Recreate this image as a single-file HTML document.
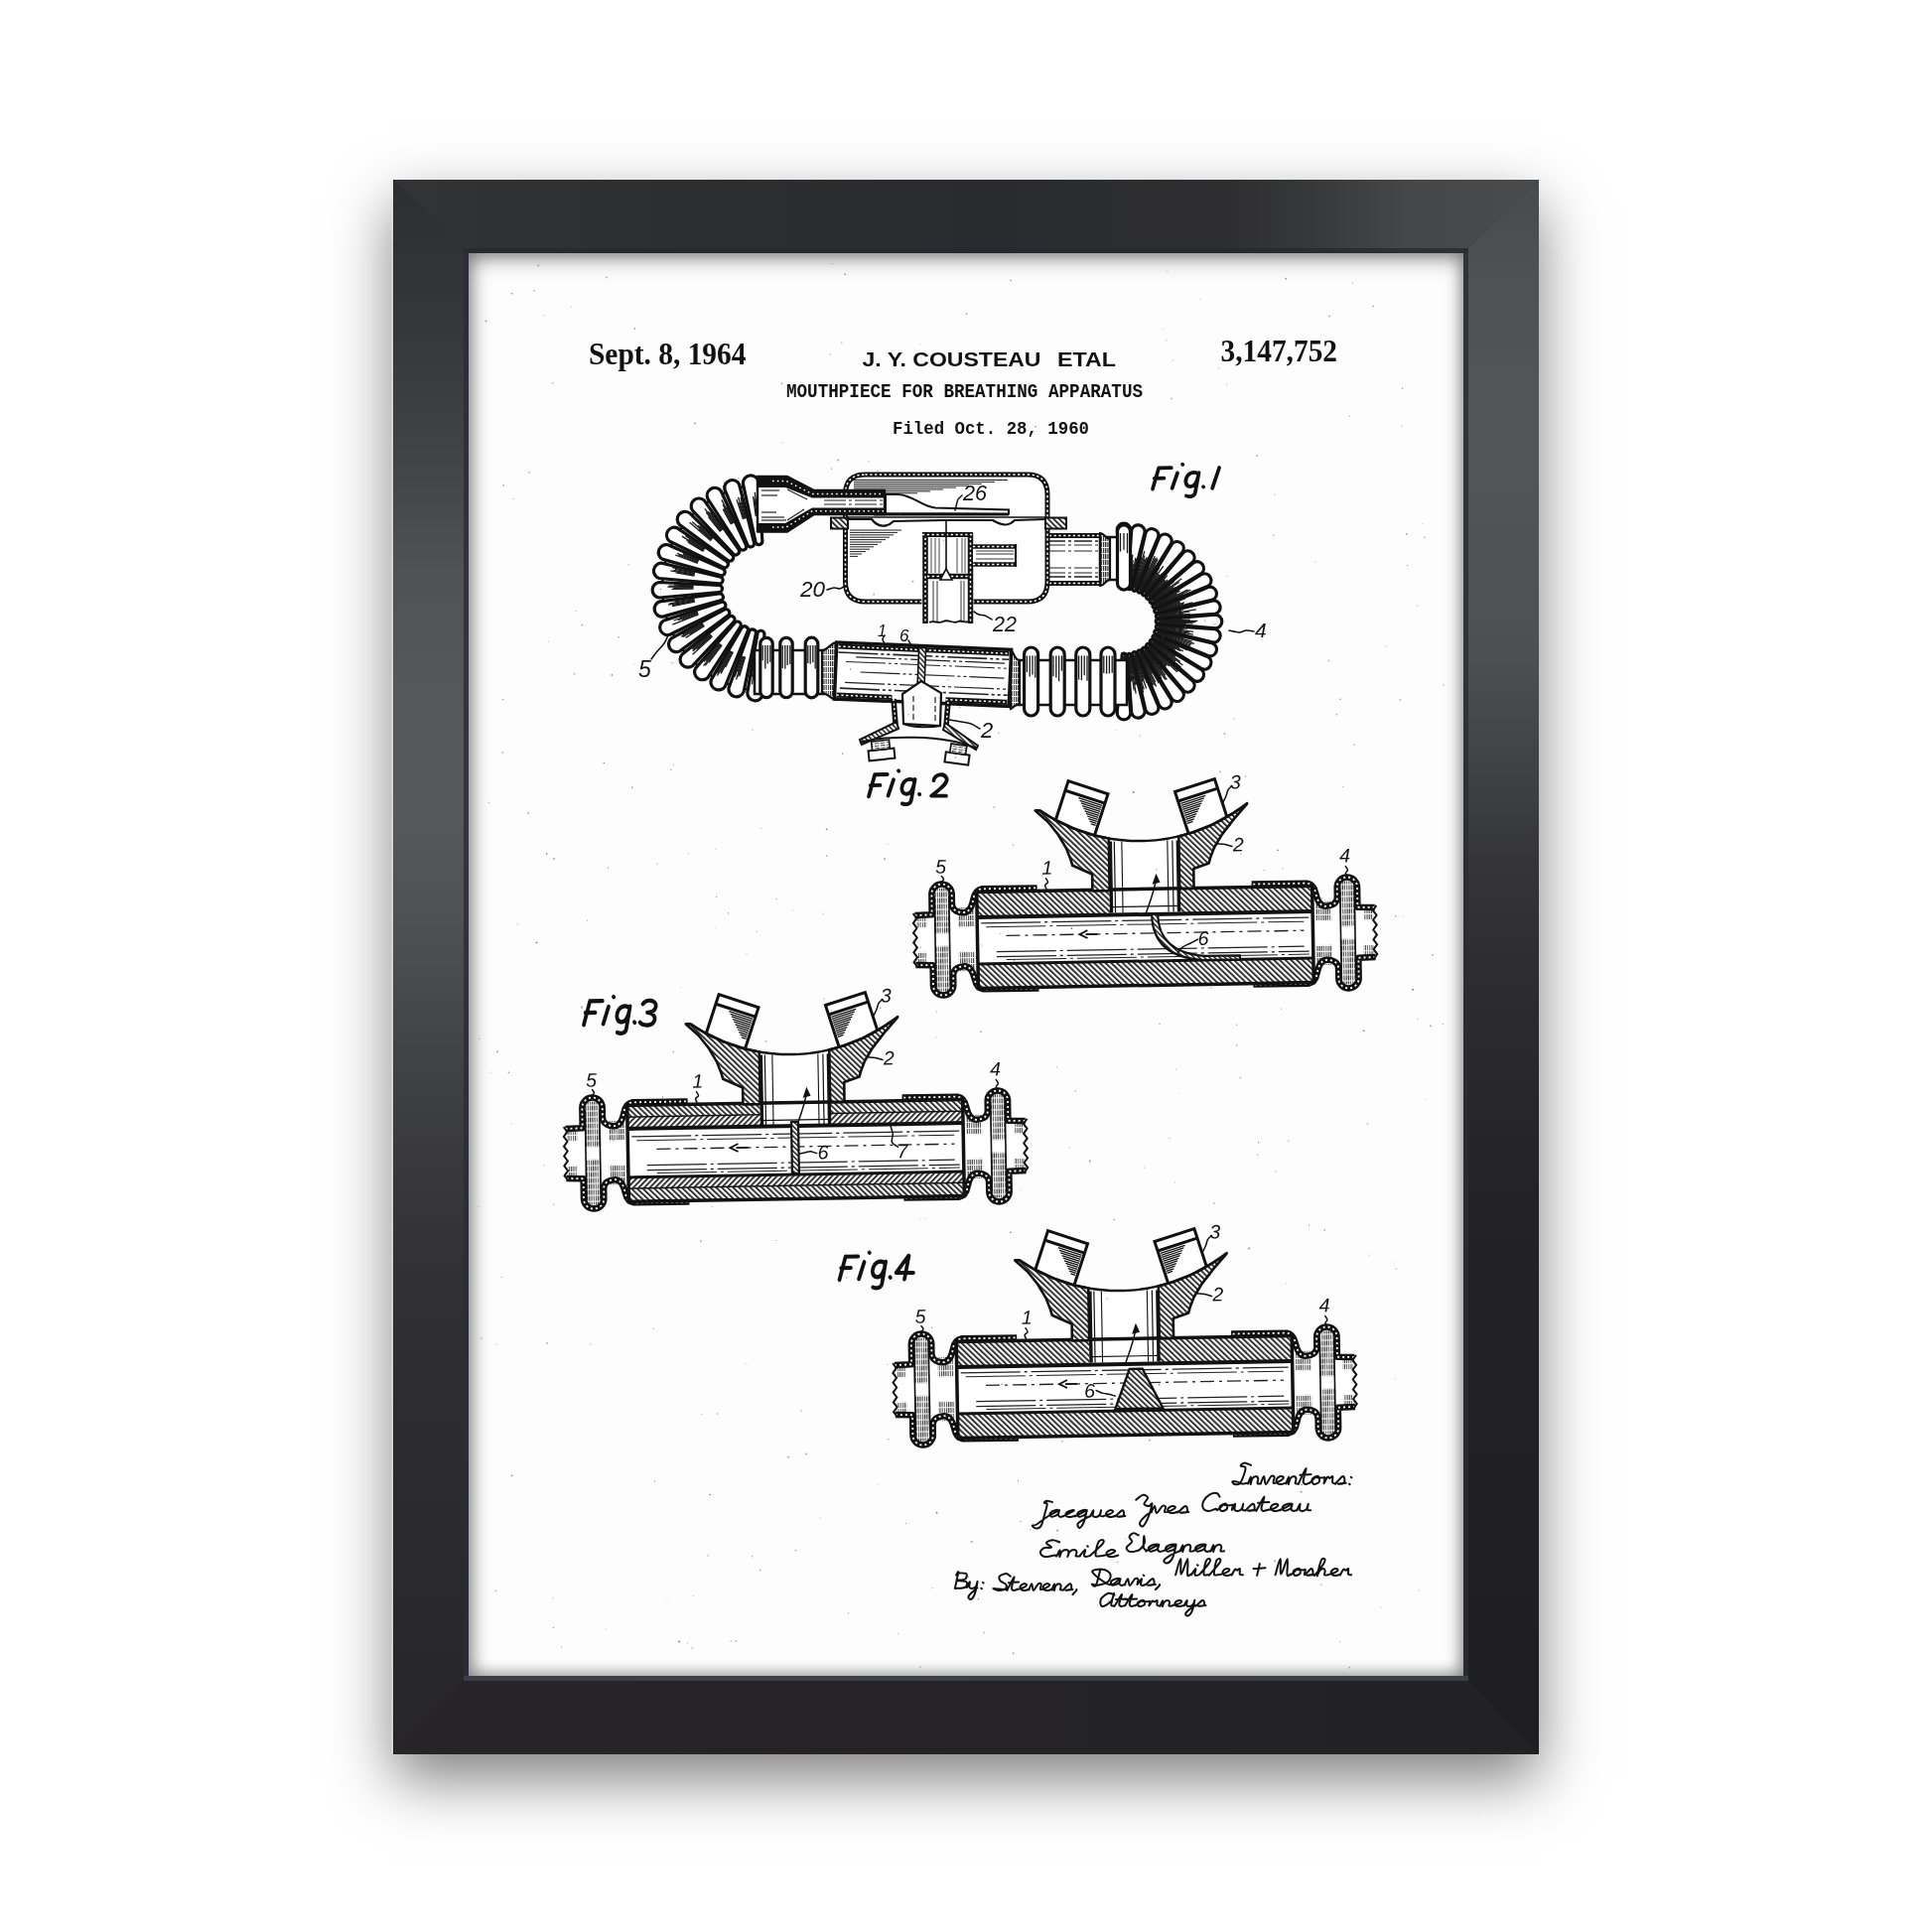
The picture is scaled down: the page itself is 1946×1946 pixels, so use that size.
<!DOCTYPE html>
<html><head><meta charset="utf-8"><style>
html,body{margin:0;padding:0;background:#fff;}
body{width:1946px;height:1946px;position:relative;overflow:hidden;font-family:"Liberation Sans",sans-serif;}
.shadow{position:absolute;left:396px;top:181px;width:1154px;height:1586px;background:#222;box-shadow:0 25px 57px rgba(0,0,0,0.5);}
.paper{position:absolute;left:472px;top:255px;width:1002px;height:1433px;background:#fdfdfd;overflow:hidden;}
.inset{position:absolute;left:472px;top:255px;width:1002px;height:1433px;box-shadow:inset 0 8px 20px rgba(0,0,0,0.30), inset 7px 0 18px rgba(0,0,0,0.18), inset -5px 0 16px rgba(0,0,0,0.14), inset 0 -5px 16px rgba(0,0,0,0.14);}
svg{position:absolute;left:0;top:0;will-change:transform;}
</style></head><body>
<div class="shadow"></div>
<div class="paper"></div>
<svg width="1946" height="1946" viewBox="0 0 1946 1946" xmlns="http://www.w3.org/2000/svg">

<defs>
<linearGradient id="gL" x1="0" y1="181" x2="0" y2="1767" gradientUnits="userSpaceOnUse">
<stop offset="0" stop-color="#2d2e31"/><stop offset="0.088" stop-color="#353639"/><stop offset="0.176" stop-color="#414345"/><stop offset="0.252" stop-color="#515254"/><stop offset="0.327" stop-color="#565759"/><stop offset="0.403" stop-color="#57585a"/><stop offset="0.466" stop-color="#505153"/><stop offset="0.523" stop-color="#47484a"/><stop offset="0.567" stop-color="#404143"/><stop offset="0.624" stop-color="#39393c"/><stop offset="0.687" stop-color="#323235"/><stop offset="0.769" stop-color="#2d2d2f"/><stop offset="0.851" stop-color="#2b2b2d"/><stop offset="1" stop-color="#262527"/></linearGradient>
<linearGradient id="gR" x1="0" y1="181" x2="0" y2="1767" gradientUnits="userSpaceOnUse">
<stop offset="0" stop-color="#494a4c"/><stop offset="0.056" stop-color="#4f5052"/><stop offset="0.151" stop-color="#535557"/><stop offset="0.239" stop-color="#515255"/><stop offset="0.302" stop-color="#4e4f51"/><stop offset="0.371" stop-color="#414244"/><stop offset="0.441" stop-color="#343436"/><stop offset="0.516" stop-color="#2c2c2e"/><stop offset="0.643" stop-color="#232325"/><stop offset="1" stop-color="#1e1e20"/></linearGradient>
<linearGradient id="gT" x1="396" y1="0" x2="1550" y2="0" gradientUnits="userSpaceOnUse">
<stop offset="0" stop-color="#313335"/><stop offset="0.294" stop-color="#2c2d2f"/><stop offset="0.523" stop-color="#2a2b2e"/><stop offset="0.727" stop-color="#2e2e31"/><stop offset="0.81" stop-color="#38393b"/><stop offset="0.883" stop-color="#444648"/><stop offset="1" stop-color="#4a4b4d"/></linearGradient>
<linearGradient id="gB" x1="396" y1="0" x2="1550" y2="0" gradientUnits="userSpaceOnUse">
<stop offset="0" stop-color="#262427"/><stop offset="1" stop-color="#222124"/></linearGradient>
</defs>
<polygon points="396,181 1550,181 1474,255 472,255" fill="url(#gT)"/>
<polygon points="396,181 472,255 472,1688 396,1767" fill="url(#gL)"/>
<polygon points="1550,181 1550,1767 1474,1688 1474,255" fill="url(#gR)"/>
<polygon points="396,1767 472,1688 1474,1688 1550,1767" fill="url(#gB)"/>
<line x1="467" y1="252.5" x2="1479" y2="252.5" stroke="#26282f" stroke-width="5" opacity="0.75"/>
<line x1="469.5" y1="250" x2="469.5" y2="1693" stroke="#2a2c3a" stroke-width="5" opacity="0.8"/>
<line x1="1476.5" y1="250" x2="1476.5" y2="1693" stroke="#2c2d33" stroke-width="5" opacity="0.8"/>
<line x1="467" y1="1690.5" x2="1479" y2="1690.5" stroke="#3e404c" stroke-width="5" opacity="0.9"/>
<line x1="395" y1="182" x2="395" y2="1766" stroke="#e8e8e8" stroke-width="1"/>
<text x="593" y="366.5" font-family="Liberation Serif" font-size="31" font-weight="bold" font-style="normal" fill="#111" textLength="158.5" lengthAdjust="spacingAndGlyphs">Sept. 8, 1964</text>
<text x="1229.5" y="363.5" font-family="Liberation Serif" font-size="30.5" font-weight="bold" font-style="normal" fill="#111" textLength="117.5" lengthAdjust="spacingAndGlyphs">3,147,752</text>
<text x="868.5" y="368.5" font-family="Liberation Sans" font-size="19.5" font-weight="bold" font-style="normal" fill="#111" textLength="180" lengthAdjust="spacingAndGlyphs">J. Y. COUSTEAU</text>
<text x="1065" y="368.5" font-family="Liberation Sans" font-size="19.5" font-weight="bold" font-style="normal" fill="#111" textLength="59" lengthAdjust="spacingAndGlyphs">ETAL</text>
<text x="792" y="400" font-family="Liberation Mono" font-size="19.4" font-weight="bold" font-style="normal" fill="#111" textLength="359" lengthAdjust="spacingAndGlyphs">MOUTHPIECE FOR BREATHING APPARATUS</text>
<text x="899" y="437" font-family="Liberation Mono" font-size="18.5" font-weight="bold" font-style="normal" fill="#111" textLength="198" lengthAdjust="spacingAndGlyphs">Filed Oct. 28, 1960</text>
<defs>
<pattern id="hb" patternUnits="userSpaceOnUse" width="4.0" height="4.0" patternTransform="rotate(-45)"><rect width="4.0" height="4.0" fill="#fff"/><rect width="1.65" height="4.0" fill="#111"/></pattern>
<pattern id="hf" patternUnits="userSpaceOnUse" width="4.0" height="4.0" patternTransform="rotate(45)"><rect width="4.0" height="4.0" fill="#fff"/><rect width="1.65" height="4.0" fill="#111"/></pattern>
<pattern id="hbs" patternUnits="userSpaceOnUse" width="3.6" height="3.6" patternTransform="rotate(-45)"><rect width="3.6" height="3.6" fill="#fff"/><rect width="1.4" height="3.6" fill="#111"/></pattern>
<pattern id="hv" patternUnits="userSpaceOnUse" width="2.2" height="6"><rect width="2.2" height="6" fill="#fff"/><rect width="1.1" height="5" fill="#222"/></pattern>
<pattern id="hh" patternUnits="userSpaceOnUse" width="6" height="2.4"><rect width="6" height="2.4" fill="#fff"/><rect width="4.5" height="0.9" fill="#333"/></pattern>
</defs>
<path d="M756.5,489.0 A104,104 0 0 0 760.1,695.4 L764.9,649.7 A58,58 0 0 1 762.9,534.6 Z" fill="#fff" stroke="#111" stroke-width="2.5"/>
<path d="M767.9,545.0 L763.8,485.0 A7.8,7.8 0 0 0 748.4,487.1 L761.0,545.9 A3.5,3.5 0 0 0 767.9,545.0 Z" fill="#fff" stroke="#111" stroke-width="3.2" stroke-linejoin="round"/>
<line x1="761.3" y1="520.1" x2="758.6" y2="499.9" stroke="#1a1a1a" stroke-width="1.3"/>
<line x1="762.2" y1="520.0" x2="759.9" y2="501.9" stroke="#1a1a1a" stroke-width="1.3"/>
<line x1="763.0" y1="519.9" x2="760.3" y2="495.7" stroke="#1a1a1a" stroke-width="1.3"/>
<line x1="763.9" y1="519.8" x2="762.1" y2="502.5" stroke="#1a1a1a" stroke-width="1.3"/>
<line x1="764.7" y1="519.7" x2="762.7" y2="496.8" stroke="#1a1a1a" stroke-width="1.3"/>
<path d="M759.5,546.3 L744.6,488.0 A7.8,7.8 0 0 0 729.9,492.9 L752.8,548.5 A3.5,3.5 0 0 0 759.5,546.3 Z" fill="#fff" stroke="#111" stroke-width="3.2" stroke-linejoin="round"/>
<line x1="748.5" y1="523.1" x2="742.0" y2="503.2" stroke="#1a1a1a" stroke-width="1.3"/>
<line x1="749.3" y1="522.8" x2="744.2" y2="506.4" stroke="#1a1a1a" stroke-width="1.3"/>
<line x1="750.1" y1="522.5" x2="743.6" y2="500.9" stroke="#1a1a1a" stroke-width="1.3"/>
<line x1="750.9" y1="522.3" x2="746.2" y2="506.0" stroke="#1a1a1a" stroke-width="1.3"/>
<line x1="751.7" y1="522.0" x2="745.9" y2="501.1" stroke="#1a1a1a" stroke-width="1.3"/>
<path d="M751.4,549.1 L726.2,494.5 A7.8,7.8 0 0 0 712.7,502.0 L745.3,552.5 A3.5,3.5 0 0 0 751.4,549.1 Z" fill="#fff" stroke="#111" stroke-width="3.2" stroke-linejoin="round"/>
<line x1="736.4" y1="528.3" x2="728.2" y2="513.0" stroke="#1a1a1a" stroke-width="1.3"/>
<line x1="737.2" y1="527.9" x2="729.0" y2="512.3" stroke="#1a1a1a" stroke-width="1.3"/>
<line x1="737.9" y1="527.4" x2="728.1" y2="508.2" stroke="#1a1a1a" stroke-width="1.3"/>
<line x1="738.7" y1="527.0" x2="726.9" y2="503.4" stroke="#1a1a1a" stroke-width="1.3"/>
<line x1="739.4" y1="526.6" x2="731.6" y2="510.4" stroke="#1a1a1a" stroke-width="1.3"/>
<path d="M744.0,553.4 L709.4,504.2 A7.8,7.8 0 0 0 697.4,514.0 L738.6,557.8 A3.5,3.5 0 0 0 744.0,553.4 Z" fill="#fff" stroke="#111" stroke-width="3.2" stroke-linejoin="round"/>
<line x1="725.5" y1="535.5" x2="713.5" y2="520.6" stroke="#1a1a1a" stroke-width="1.3"/>
<line x1="726.2" y1="535.0" x2="711.3" y2="516.1" stroke="#1a1a1a" stroke-width="1.3"/>
<line x1="726.8" y1="534.5" x2="709.8" y2="512.4" stroke="#1a1a1a" stroke-width="1.3"/>
<line x1="727.5" y1="533.9" x2="713.4" y2="515.2" stroke="#1a1a1a" stroke-width="1.3"/>
<line x1="728.1" y1="533.4" x2="715.5" y2="516.2" stroke="#1a1a1a" stroke-width="1.3"/>
<path d="M737.5,558.9 L694.5,516.7 A7.8,7.8 0 0 0 684.5,528.6 L732.9,564.2 A3.5,3.5 0 0 0 737.5,558.9 Z" fill="#fff" stroke="#111" stroke-width="3.2" stroke-linejoin="round"/>
<line x1="716.1" y1="544.7" x2="694.7" y2="526.3" stroke="#1a1a1a" stroke-width="1.3"/>
<line x1="716.6" y1="544.0" x2="703.8" y2="532.8" stroke="#1a1a1a" stroke-width="1.3"/>
<line x1="717.2" y1="543.4" x2="697.2" y2="525.4" stroke="#1a1a1a" stroke-width="1.3"/>
<line x1="717.7" y1="542.7" x2="703.0" y2="529.2" stroke="#1a1a1a" stroke-width="1.3"/>
<line x1="718.3" y1="542.1" x2="705.0" y2="529.6" stroke="#1a1a1a" stroke-width="1.3"/>
<path d="M732.0,565.5 L682.2,531.8 A7.8,7.8 0 0 0 674.5,545.2 L728.5,571.5 A3.5,3.5 0 0 0 732.0,565.5 Z" fill="#fff" stroke="#111" stroke-width="3.2" stroke-linejoin="round"/>
<line x1="708.4" y1="555.4" x2="693.0" y2="546.3" stroke="#1a1a1a" stroke-width="1.3"/>
<line x1="708.8" y1="554.6" x2="691.5" y2="544.2" stroke="#1a1a1a" stroke-width="1.3"/>
<line x1="709.3" y1="553.9" x2="686.9" y2="540.1" stroke="#1a1a1a" stroke-width="1.3"/>
<line x1="709.7" y1="553.2" x2="693.9" y2="543.2" stroke="#1a1a1a" stroke-width="1.3"/>
<line x1="710.1" y1="552.4" x2="690.4" y2="539.7" stroke="#1a1a1a" stroke-width="1.3"/>
<path d="M727.9,572.9 L672.8,548.8 A7.8,7.8 0 0 0 667.6,563.4 L725.5,579.5 A3.5,3.5 0 0 0 727.9,572.9 Z" fill="#fff" stroke="#111" stroke-width="3.2" stroke-linejoin="round"/>
<line x1="702.8" y1="567.3" x2="680.1" y2="559.0" stroke="#1a1a1a" stroke-width="1.3"/>
<line x1="703.1" y1="566.5" x2="683.5" y2="559.1" stroke="#1a1a1a" stroke-width="1.3"/>
<line x1="703.4" y1="565.7" x2="681.9" y2="557.3" stroke="#1a1a1a" stroke-width="1.3"/>
<line x1="703.7" y1="564.9" x2="687.7" y2="558.4" stroke="#1a1a1a" stroke-width="1.3"/>
<line x1="704.0" y1="564.1" x2="688.1" y2="557.5" stroke="#1a1a1a" stroke-width="1.3"/>
<path d="M725.2,581.0 L666.6,567.2 A7.8,7.8 0 0 0 664.1,582.5 L724.0,587.9 A3.5,3.5 0 0 0 725.2,581.0 Z" fill="#fff" stroke="#111" stroke-width="3.2" stroke-linejoin="round"/>
<line x1="699.5" y1="580.0" x2="680.8" y2="576.9" stroke="#1a1a1a" stroke-width="1.3"/>
<line x1="699.6" y1="579.2" x2="675.4" y2="574.8" stroke="#1a1a1a" stroke-width="1.3"/>
<line x1="699.8" y1="578.3" x2="678.5" y2="574.3" stroke="#1a1a1a" stroke-width="1.3"/>
<line x1="699.9" y1="577.5" x2="680.0" y2="573.4" stroke="#1a1a1a" stroke-width="1.3"/>
<line x1="700.0" y1="576.6" x2="677.0" y2="571.7" stroke="#1a1a1a" stroke-width="1.3"/>
<path d="M723.9,589.5 L663.9,586.5 A7.8,7.8 0 0 0 664.2,602.0 L724.1,596.5 A3.5,3.5 0 0 0 723.9,589.5 Z" fill="#fff" stroke="#111" stroke-width="3.2" stroke-linejoin="round"/>
<line x1="698.5" y1="593.1" x2="676.6" y2="593.4" stroke="#1a1a1a" stroke-width="1.3"/>
<line x1="698.5" y1="592.2" x2="678.4" y2="592.3" stroke="#1a1a1a" stroke-width="1.3"/>
<line x1="698.5" y1="591.4" x2="672.4" y2="591.2" stroke="#1a1a1a" stroke-width="1.3"/>
<line x1="698.5" y1="590.5" x2="673.6" y2="590.1" stroke="#1a1a1a" stroke-width="1.3"/>
<line x1="698.4" y1="589.7" x2="679.0" y2="589.1" stroke="#1a1a1a" stroke-width="1.3"/>
<path d="M724.3,598.0 L664.6,605.9 A7.8,7.8 0 0 0 667.7,621.1 L725.7,604.9 A3.5,3.5 0 0 0 724.3,598.0 Z" fill="#fff" stroke="#111" stroke-width="3.2" stroke-linejoin="round"/>
<line x1="699.9" y1="606.2" x2="677.0" y2="610.7" stroke="#1a1a1a" stroke-width="1.3"/>
<line x1="699.7" y1="605.3" x2="677.3" y2="609.5" stroke="#1a1a1a" stroke-width="1.3"/>
<line x1="699.6" y1="604.5" x2="673.0" y2="609.2" stroke="#1a1a1a" stroke-width="1.3"/>
<line x1="699.4" y1="603.7" x2="674.4" y2="607.8" stroke="#1a1a1a" stroke-width="1.3"/>
<line x1="699.2" y1="602.8" x2="679.5" y2="605.9" stroke="#1a1a1a" stroke-width="1.3"/>
<path d="M726.1,606.4 L668.9,624.9 A7.8,7.8 0 0 0 674.7,639.3 L728.7,612.9 A3.5,3.5 0 0 0 726.1,606.4 Z" fill="#fff" stroke="#111" stroke-width="3.2" stroke-linejoin="round"/>
<line x1="703.6" y1="618.8" x2="677.4" y2="629.2" stroke="#1a1a1a" stroke-width="1.3"/>
<line x1="703.3" y1="618.0" x2="686.6" y2="624.4" stroke="#1a1a1a" stroke-width="1.3"/>
<line x1="703.0" y1="617.2" x2="682.8" y2="624.7" stroke="#1a1a1a" stroke-width="1.3"/>
<line x1="702.7" y1="616.4" x2="678.6" y2="625.0" stroke="#1a1a1a" stroke-width="1.3"/>
<line x1="702.3" y1="615.6" x2="685.0" y2="621.6" stroke="#1a1a1a" stroke-width="1.3"/>
<path d="M729.4,614.2 L676.5,642.8 A7.8,7.8 0 0 0 684.8,655.9 L733.2,620.1 A3.5,3.5 0 0 0 729.4,614.2 Z" fill="#fff" stroke="#111" stroke-width="3.2" stroke-linejoin="round"/>
<line x1="709.6" y1="630.5" x2="690.6" y2="642.4" stroke="#1a1a1a" stroke-width="1.3"/>
<line x1="709.1" y1="629.8" x2="694.6" y2="638.6" stroke="#1a1a1a" stroke-width="1.3"/>
<line x1="708.6" y1="629.1" x2="687.6" y2="641.6" stroke="#1a1a1a" stroke-width="1.3"/>
<line x1="708.2" y1="628.3" x2="686.0" y2="641.2" stroke="#1a1a1a" stroke-width="1.3"/>
<line x1="707.7" y1="627.6" x2="687.4" y2="639.1" stroke="#1a1a1a" stroke-width="1.3"/>
<path d="M734.1,621.4 L687.2,659.0 A7.8,7.8 0 0 0 697.8,670.4 L738.9,626.5 A3.5,3.5 0 0 0 734.1,621.4 Z" fill="#fff" stroke="#111" stroke-width="3.2" stroke-linejoin="round"/>
<line x1="717.5" y1="640.9" x2="697.6" y2="659.2" stroke="#1a1a1a" stroke-width="1.3"/>
<line x1="716.9" y1="640.3" x2="701.8" y2="653.8" stroke="#1a1a1a" stroke-width="1.3"/>
<line x1="716.4" y1="639.7" x2="697.7" y2="656.1" stroke="#1a1a1a" stroke-width="1.3"/>
<line x1="715.8" y1="639.1" x2="697.8" y2="654.4" stroke="#1a1a1a" stroke-width="1.3"/>
<line x1="715.2" y1="638.5" x2="697.2" y2="653.5" stroke="#1a1a1a" stroke-width="1.3"/>
<path d="M740.0,627.5 L700.7,673.0 A7.8,7.8 0 0 0 713.1,682.3 L745.6,631.7 A3.5,3.5 0 0 0 740.0,627.5 Z" fill="#fff" stroke="#111" stroke-width="3.2" stroke-linejoin="round"/>
<line x1="727.2" y1="649.8" x2="714.0" y2="667.3" stroke="#1a1a1a" stroke-width="1.3"/>
<line x1="726.6" y1="649.3" x2="710.3" y2="670.3" stroke="#1a1a1a" stroke-width="1.3"/>
<line x1="725.9" y1="648.8" x2="708.6" y2="670.6" stroke="#1a1a1a" stroke-width="1.3"/>
<line x1="725.2" y1="648.3" x2="711.2" y2="665.5" stroke="#1a1a1a" stroke-width="1.3"/>
<line x1="724.5" y1="647.8" x2="708.9" y2="666.6" stroke="#1a1a1a" stroke-width="1.3"/>
<path d="M747.0,632.5 L716.5,684.4 A7.8,7.8 0 0 0 730.4,691.3 L753.2,635.7 A3.5,3.5 0 0 0 747.0,632.5 Z" fill="#fff" stroke="#111" stroke-width="3.2" stroke-linejoin="round"/>
<line x1="738.4" y1="656.8" x2="730.6" y2="672.1" stroke="#1a1a1a" stroke-width="1.3"/>
<line x1="737.6" y1="656.4" x2="726.2" y2="678.5" stroke="#1a1a1a" stroke-width="1.3"/>
<line x1="736.9" y1="656.0" x2="725.5" y2="677.4" stroke="#1a1a1a" stroke-width="1.3"/>
<line x1="736.1" y1="655.6" x2="722.5" y2="680.6" stroke="#1a1a1a" stroke-width="1.3"/>
<line x1="735.3" y1="655.2" x2="722.4" y2="678.3" stroke="#1a1a1a" stroke-width="1.3"/>
<path d="M754.7,636.2 L734.1,692.7 A7.8,7.8 0 0 0 749.0,697.0 L761.4,638.1 A3.5,3.5 0 0 0 754.7,636.2 Z" fill="#fff" stroke="#111" stroke-width="3.2" stroke-linejoin="round"/>
<line x1="750.6" y1="661.6" x2="745.0" y2="680.7" stroke="#1a1a1a" stroke-width="1.3"/>
<line x1="749.8" y1="661.3" x2="743.6" y2="681.6" stroke="#1a1a1a" stroke-width="1.3"/>
<line x1="749.0" y1="661.1" x2="741.5" y2="684.5" stroke="#1a1a1a" stroke-width="1.3"/>
<line x1="748.2" y1="660.9" x2="742.9" y2="676.8" stroke="#1a1a1a" stroke-width="1.3"/>
<line x1="747.3" y1="660.6" x2="740.2" y2="681.5" stroke="#1a1a1a" stroke-width="1.3"/>
<path d="M762.9,638.4 L752.8,697.7 A7.8,7.8 0 0 0 768.3,699.2 L769.9,639.1 A3.5,3.5 0 0 0 762.9,638.4 Z" fill="#fff" stroke="#111" stroke-width="3.2" stroke-linejoin="round"/>
<line x1="763.5" y1="664.1" x2="761.6" y2="682.5" stroke="#1a1a1a" stroke-width="1.3"/>
<line x1="762.7" y1="664.0" x2="760.6" y2="681.8" stroke="#1a1a1a" stroke-width="1.3"/>
<line x1="761.8" y1="663.9" x2="759.6" y2="681.0" stroke="#1a1a1a" stroke-width="1.3"/>
<line x1="761.0" y1="663.9" x2="757.4" y2="689.4" stroke="#1a1a1a" stroke-width="1.3"/>
<line x1="760.1" y1="663.8" x2="757.4" y2="681.7" stroke="#1a1a1a" stroke-width="1.3"/>
<rect x="760" y="655" width="85" height="44" fill="#fff" stroke="#111" stroke-width="2.5"/>
<path d="M765.8,648.5 L765.8,696.5 A6.2,6.2 0 0 0 778.2,696.5 L778.2,648.5 A6.2,6.2 0 0 0 765.8,648.5 Z" fill="#fff" stroke="#111" stroke-width="3.2" stroke-linejoin="round"/>
<line x1="775.8" y1="650.0" x2="775.8" y2="667.0" stroke="#1a1a1a" stroke-width="1.3"/>
<line x1="773.2" y1="650.0" x2="773.2" y2="668.5" stroke="#1a1a1a" stroke-width="1.3"/>
<line x1="770.8" y1="650.0" x2="770.8" y2="673.5" stroke="#1a1a1a" stroke-width="1.3"/>
<line x1="768.2" y1="650.0" x2="768.2" y2="665.2" stroke="#1a1a1a" stroke-width="1.3"/>
<path d="M785.8,648.5 L785.8,696.5 A6.2,6.2 0 0 0 798.2,696.5 L798.2,648.5 A6.2,6.2 0 0 0 785.8,648.5 Z" fill="#fff" stroke="#111" stroke-width="3.2" stroke-linejoin="round"/>
<line x1="795.8" y1="650.0" x2="795.8" y2="669.1" stroke="#1a1a1a" stroke-width="1.3"/>
<line x1="793.2" y1="650.0" x2="793.2" y2="670.1" stroke="#1a1a1a" stroke-width="1.3"/>
<line x1="790.8" y1="650.0" x2="790.8" y2="673.7" stroke="#1a1a1a" stroke-width="1.3"/>
<line x1="788.2" y1="650.0" x2="788.2" y2="673.0" stroke="#1a1a1a" stroke-width="1.3"/>
<path d="M811.2,648.5 L811.2,696.5 A6.2,6.2 0 0 0 823.8,696.5 L823.8,648.5 A6.2,6.2 0 0 0 811.2,648.5 Z" fill="#fff" stroke="#111" stroke-width="3.2" stroke-linejoin="round"/>
<line x1="821.2" y1="650.0" x2="821.2" y2="673.5" stroke="#1a1a1a" stroke-width="1.3"/>
<line x1="818.8" y1="650.0" x2="818.8" y2="667.3" stroke="#1a1a1a" stroke-width="1.3"/>
<line x1="816.2" y1="650.0" x2="816.2" y2="668.7" stroke="#1a1a1a" stroke-width="1.3"/>
<line x1="813.8" y1="650.0" x2="813.8" y2="668.1" stroke="#1a1a1a" stroke-width="1.3"/>
<path d="M828,655 C834,655 836,648 842,647 L842,705 C836,704 834,698 828,698 Z" fill="url(#hv)" stroke="#111" stroke-width="2.2"/>
<path d="M1132.0,542.0 A84,84 0 0 1 1132.0,710.0 L1132.0,664.0 A38,38 0 0 0 1132.0,588.0 Z" fill="#fff" stroke="#111" stroke-width="2.5"/>
<path d="M1132.0,568.0 A58,58 0 0 1 1132.0,684.0 L1132.0,659.0 A33,33 0 0 0 1132.0,593.0 Z" fill="#1a1a1a"/>
<path d="M1133.8,592.0 L1138.8,534.0 A6.8,6.8 0 0 0 1125.2,534.0 L1130.2,592.0 A1.8,1.8 0 0 0 1133.8,592.0 Z" fill="#fff" stroke="#111" stroke-width="3.2" stroke-linejoin="round"/>
<line x1="1130.7" y1="590.5" x2="1128.6" y2="553.3" stroke="#1a1a1a" stroke-width="1.3"/>
<line x1="1131.2" y1="590.5" x2="1129.9" y2="552.1" stroke="#1a1a1a" stroke-width="1.3"/>
<line x1="1131.7" y1="590.5" x2="1131.5" y2="565.2" stroke="#1a1a1a" stroke-width="1.3"/>
<line x1="1132.3" y1="590.5" x2="1132.5" y2="564.8" stroke="#1a1a1a" stroke-width="1.3"/>
<line x1="1132.8" y1="590.5" x2="1133.7" y2="563.9" stroke="#1a1a1a" stroke-width="1.3"/>
<line x1="1133.3" y1="590.5" x2="1134.8" y2="563.9" stroke="#1a1a1a" stroke-width="1.3"/>
<path d="M1139.0,592.7 L1153.1,536.2 A6.8,6.8 0 0 0 1139.7,534.1 L1135.6,592.1 A1.8,1.8 0 0 0 1139.0,592.7 Z" fill="#fff" stroke="#111" stroke-width="3.2" stroke-linejoin="round"/>
<line x1="1136.3" y1="590.7" x2="1139.4" y2="560.1" stroke="#1a1a1a" stroke-width="1.3"/>
<line x1="1136.8" y1="590.8" x2="1140.8" y2="558.6" stroke="#1a1a1a" stroke-width="1.3"/>
<line x1="1137.3" y1="590.9" x2="1141.2" y2="564.1" stroke="#1a1a1a" stroke-width="1.3"/>
<line x1="1137.8" y1="591.0" x2="1141.6" y2="568.4" stroke="#1a1a1a" stroke-width="1.3"/>
<line x1="1138.3" y1="591.1" x2="1143.9" y2="561.9" stroke="#1a1a1a" stroke-width="1.3"/>
<line x1="1138.8" y1="591.1" x2="1144.9" y2="562.9" stroke="#1a1a1a" stroke-width="1.3"/>
<path d="M1144.2,594.2 L1166.8,540.6 A6.8,6.8 0 0 0 1154.0,536.4 L1140.8,593.1 A1.8,1.8 0 0 0 1144.2,594.2 Z" fill="#fff" stroke="#111" stroke-width="3.2" stroke-linejoin="round"/>
<line x1="1141.8" y1="591.9" x2="1149.9" y2="560.8" stroke="#1a1a1a" stroke-width="1.3"/>
<line x1="1142.3" y1="592.0" x2="1152.8" y2="555.1" stroke="#1a1a1a" stroke-width="1.3"/>
<line x1="1142.7" y1="592.2" x2="1152.9" y2="559.6" stroke="#1a1a1a" stroke-width="1.3"/>
<line x1="1143.2" y1="592.3" x2="1153.2" y2="562.7" stroke="#1a1a1a" stroke-width="1.3"/>
<line x1="1143.7" y1="592.5" x2="1154.9" y2="561.5" stroke="#1a1a1a" stroke-width="1.3"/>
<line x1="1144.2" y1="592.6" x2="1156.5" y2="561.0" stroke="#1a1a1a" stroke-width="1.3"/>
<path d="M1149.0,596.5 L1179.8,547.1 A6.8,6.8 0 0 0 1167.8,541.0 L1145.9,594.9 A1.8,1.8 0 0 0 1149.0,596.5 Z" fill="#fff" stroke="#111" stroke-width="3.2" stroke-linejoin="round"/>
<line x1="1147.0" y1="593.8" x2="1156.6" y2="572.0" stroke="#1a1a1a" stroke-width="1.3"/>
<line x1="1147.4" y1="594.0" x2="1163.3" y2="560.1" stroke="#1a1a1a" stroke-width="1.3"/>
<line x1="1147.9" y1="594.3" x2="1163.7" y2="562.4" stroke="#1a1a1a" stroke-width="1.3"/>
<line x1="1148.3" y1="594.5" x2="1165.5" y2="561.7" stroke="#1a1a1a" stroke-width="1.3"/>
<line x1="1148.8" y1="594.7" x2="1166.1" y2="563.4" stroke="#1a1a1a" stroke-width="1.3"/>
<line x1="1149.2" y1="594.9" x2="1164.0" y2="569.7" stroke="#1a1a1a" stroke-width="1.3"/>
<path d="M1153.4,599.5 L1191.5,555.5 A6.8,6.8 0 0 0 1180.6,547.6 L1150.6,597.5 A1.8,1.8 0 0 0 1153.4,599.5 Z" fill="#fff" stroke="#111" stroke-width="3.2" stroke-linejoin="round"/>
<line x1="1151.9" y1="596.5" x2="1167.7" y2="571.8" stroke="#1a1a1a" stroke-width="1.3"/>
<line x1="1152.3" y1="596.8" x2="1166.0" y2="576.5" stroke="#1a1a1a" stroke-width="1.3"/>
<line x1="1152.7" y1="597.1" x2="1171.8" y2="570.1" stroke="#1a1a1a" stroke-width="1.3"/>
<line x1="1153.1" y1="597.4" x2="1167.3" y2="578.3" stroke="#1a1a1a" stroke-width="1.3"/>
<line x1="1153.5" y1="597.7" x2="1168.2" y2="578.8" stroke="#1a1a1a" stroke-width="1.3"/>
<line x1="1153.9" y1="598.0" x2="1170.5" y2="577.7" stroke="#1a1a1a" stroke-width="1.3"/>
<path d="M1157.3,603.2 L1201.8,565.7 A6.8,6.8 0 0 0 1192.3,556.2 L1154.8,600.7 A1.8,1.8 0 0 0 1157.3,603.2 Z" fill="#fff" stroke="#111" stroke-width="3.2" stroke-linejoin="round"/>
<line x1="1156.2" y1="600.0" x2="1173.2" y2="580.9" stroke="#1a1a1a" stroke-width="1.3"/>
<line x1="1156.6" y1="600.4" x2="1175.9" y2="579.6" stroke="#1a1a1a" stroke-width="1.3"/>
<line x1="1156.9" y1="600.7" x2="1173.5" y2="583.8" stroke="#1a1a1a" stroke-width="1.3"/>
<line x1="1157.3" y1="601.1" x2="1173.6" y2="585.1" stroke="#1a1a1a" stroke-width="1.3"/>
<line x1="1157.6" y1="601.4" x2="1176.2" y2="584.1" stroke="#1a1a1a" stroke-width="1.3"/>
<line x1="1158.0" y1="601.8" x2="1176.3" y2="585.4" stroke="#1a1a1a" stroke-width="1.3"/>
<path d="M1160.5,607.4 L1210.4,577.4 A6.8,6.8 0 0 0 1202.5,566.5 L1158.5,604.6 A1.8,1.8 0 0 0 1160.5,607.4 Z" fill="#fff" stroke="#111" stroke-width="3.2" stroke-linejoin="round"/>
<line x1="1160.0" y1="604.1" x2="1182.3" y2="585.9" stroke="#1a1a1a" stroke-width="1.3"/>
<line x1="1160.3" y1="604.5" x2="1178.6" y2="590.2" stroke="#1a1a1a" stroke-width="1.3"/>
<line x1="1160.6" y1="604.9" x2="1190.3" y2="582.8" stroke="#1a1a1a" stroke-width="1.3"/>
<line x1="1160.9" y1="605.3" x2="1187.7" y2="586.3" stroke="#1a1a1a" stroke-width="1.3"/>
<line x1="1161.2" y1="605.7" x2="1182.1" y2="591.6" stroke="#1a1a1a" stroke-width="1.3"/>
<line x1="1161.5" y1="606.1" x2="1184.2" y2="591.6" stroke="#1a1a1a" stroke-width="1.3"/>
<path d="M1163.1,612.1 L1217.0,590.2 A6.8,6.8 0 0 0 1210.9,578.2 L1161.5,609.0 A1.8,1.8 0 0 0 1163.1,612.1 Z" fill="#fff" stroke="#111" stroke-width="3.2" stroke-linejoin="round"/>
<line x1="1163.1" y1="608.8" x2="1187.7" y2="594.4" stroke="#1a1a1a" stroke-width="1.3"/>
<line x1="1163.3" y1="609.2" x2="1188.5" y2="595.3" stroke="#1a1a1a" stroke-width="1.3"/>
<line x1="1163.5" y1="609.7" x2="1185.5" y2="598.1" stroke="#1a1a1a" stroke-width="1.3"/>
<line x1="1163.7" y1="610.1" x2="1196.6" y2="593.8" stroke="#1a1a1a" stroke-width="1.3"/>
<line x1="1164.0" y1="610.6" x2="1199.3" y2="594.1" stroke="#1a1a1a" stroke-width="1.3"/>
<line x1="1164.2" y1="611.0" x2="1192.1" y2="598.7" stroke="#1a1a1a" stroke-width="1.3"/>
<path d="M1164.9,617.2 L1221.6,604.0 A6.8,6.8 0 0 0 1217.4,591.2 L1163.8,613.8 A1.8,1.8 0 0 0 1164.9,617.2 Z" fill="#fff" stroke="#111" stroke-width="3.2" stroke-linejoin="round"/>
<line x1="1165.4" y1="613.8" x2="1194.0" y2="602.7" stroke="#1a1a1a" stroke-width="1.3"/>
<line x1="1165.5" y1="614.3" x2="1188.3" y2="606.0" stroke="#1a1a1a" stroke-width="1.3"/>
<line x1="1165.7" y1="614.8" x2="1188.9" y2="606.9" stroke="#1a1a1a" stroke-width="1.3"/>
<line x1="1165.8" y1="615.3" x2="1193.0" y2="606.8" stroke="#1a1a1a" stroke-width="1.3"/>
<line x1="1166.0" y1="615.7" x2="1192.1" y2="608.2" stroke="#1a1a1a" stroke-width="1.3"/>
<line x1="1166.1" y1="616.2" x2="1201.3" y2="607.0" stroke="#1a1a1a" stroke-width="1.3"/>
<path d="M1165.9,622.4 L1223.9,618.3 A6.8,6.8 0 0 0 1221.8,604.9 L1165.3,619.0 A1.8,1.8 0 0 0 1165.9,622.4 Z" fill="#fff" stroke="#111" stroke-width="3.2" stroke-linejoin="round"/>
<line x1="1166.9" y1="619.2" x2="1191.8" y2="613.8" stroke="#1a1a1a" stroke-width="1.3"/>
<line x1="1166.9" y1="619.7" x2="1189.8" y2="615.3" stroke="#1a1a1a" stroke-width="1.3"/>
<line x1="1167.0" y1="620.2" x2="1204.8" y2="613.8" stroke="#1a1a1a" stroke-width="1.3"/>
<line x1="1167.1" y1="620.7" x2="1198.2" y2="616.1" stroke="#1a1a1a" stroke-width="1.3"/>
<line x1="1167.2" y1="621.2" x2="1192.2" y2="618.1" stroke="#1a1a1a" stroke-width="1.3"/>
<line x1="1167.3" y1="621.7" x2="1198.8" y2="618.5" stroke="#1a1a1a" stroke-width="1.3"/>
<path d="M1166.0,627.8 L1224.0,632.8 A6.8,6.8 0 0 0 1224.0,619.2 L1166.0,624.2 A1.8,1.8 0 0 0 1166.0,627.8 Z" fill="#fff" stroke="#111" stroke-width="3.2" stroke-linejoin="round"/>
<line x1="1167.5" y1="624.7" x2="1190.8" y2="623.4" stroke="#1a1a1a" stroke-width="1.3"/>
<line x1="1167.5" y1="625.2" x2="1198.9" y2="624.2" stroke="#1a1a1a" stroke-width="1.3"/>
<line x1="1167.5" y1="625.7" x2="1206.3" y2="625.3" stroke="#1a1a1a" stroke-width="1.3"/>
<line x1="1167.5" y1="626.3" x2="1204.4" y2="626.7" stroke="#1a1a1a" stroke-width="1.3"/>
<line x1="1167.5" y1="626.8" x2="1201.7" y2="627.9" stroke="#1a1a1a" stroke-width="1.3"/>
<line x1="1167.5" y1="627.3" x2="1194.6" y2="628.8" stroke="#1a1a1a" stroke-width="1.3"/>
<path d="M1165.3,633.0 L1221.8,647.1 A6.8,6.8 0 0 0 1223.9,633.7 L1165.9,629.6 A1.8,1.8 0 0 0 1165.3,633.0 Z" fill="#fff" stroke="#111" stroke-width="3.2" stroke-linejoin="round"/>
<line x1="1167.3" y1="630.3" x2="1196.0" y2="633.2" stroke="#1a1a1a" stroke-width="1.3"/>
<line x1="1167.2" y1="630.8" x2="1192.6" y2="633.9" stroke="#1a1a1a" stroke-width="1.3"/>
<line x1="1167.1" y1="631.3" x2="1202.1" y2="636.4" stroke="#1a1a1a" stroke-width="1.3"/>
<line x1="1167.0" y1="631.8" x2="1198.1" y2="637.1" stroke="#1a1a1a" stroke-width="1.3"/>
<line x1="1166.9" y1="632.3" x2="1201.8" y2="639.1" stroke="#1a1a1a" stroke-width="1.3"/>
<line x1="1166.9" y1="632.8" x2="1194.5" y2="638.8" stroke="#1a1a1a" stroke-width="1.3"/>
<path d="M1163.8,638.2 L1217.4,660.8 A6.8,6.8 0 0 0 1221.6,648.0 L1164.9,634.8 A1.8,1.8 0 0 0 1163.8,638.2 Z" fill="#fff" stroke="#111" stroke-width="3.2" stroke-linejoin="round"/>
<line x1="1166.1" y1="635.8" x2="1191.8" y2="642.5" stroke="#1a1a1a" stroke-width="1.3"/>
<line x1="1166.0" y1="636.3" x2="1200.7" y2="646.2" stroke="#1a1a1a" stroke-width="1.3"/>
<line x1="1165.8" y1="636.7" x2="1202.9" y2="648.3" stroke="#1a1a1a" stroke-width="1.3"/>
<line x1="1165.7" y1="637.2" x2="1200.5" y2="649.0" stroke="#1a1a1a" stroke-width="1.3"/>
<line x1="1165.5" y1="637.7" x2="1199.3" y2="650.0" stroke="#1a1a1a" stroke-width="1.3"/>
<line x1="1165.4" y1="638.2" x2="1199.1" y2="651.3" stroke="#1a1a1a" stroke-width="1.3"/>
<path d="M1161.5,643.0 L1210.9,673.8 A6.8,6.8 0 0 0 1217.0,661.8 L1163.1,639.9 A1.8,1.8 0 0 0 1161.5,643.0 Z" fill="#fff" stroke="#111" stroke-width="3.2" stroke-linejoin="round"/>
<line x1="1164.2" y1="641.0" x2="1196.2" y2="655.0" stroke="#1a1a1a" stroke-width="1.3"/>
<line x1="1164.0" y1="641.4" x2="1188.0" y2="652.7" stroke="#1a1a1a" stroke-width="1.3"/>
<line x1="1163.7" y1="641.9" x2="1191.8" y2="655.8" stroke="#1a1a1a" stroke-width="1.3"/>
<line x1="1163.5" y1="642.3" x2="1188.9" y2="655.6" stroke="#1a1a1a" stroke-width="1.3"/>
<line x1="1163.3" y1="642.8" x2="1183.7" y2="654.1" stroke="#1a1a1a" stroke-width="1.3"/>
<line x1="1163.1" y1="643.2" x2="1183.2" y2="655.0" stroke="#1a1a1a" stroke-width="1.3"/>
<path d="M1158.5,647.4 L1202.5,685.5 A6.8,6.8 0 0 0 1210.4,674.6 L1160.5,644.6 A1.8,1.8 0 0 0 1158.5,647.4 Z" fill="#fff" stroke="#111" stroke-width="3.2" stroke-linejoin="round"/>
<line x1="1161.5" y1="645.9" x2="1184.5" y2="660.7" stroke="#1a1a1a" stroke-width="1.3"/>
<line x1="1161.2" y1="646.3" x2="1183.6" y2="661.4" stroke="#1a1a1a" stroke-width="1.3"/>
<line x1="1160.9" y1="646.7" x2="1188.7" y2="666.4" stroke="#1a1a1a" stroke-width="1.3"/>
<line x1="1160.6" y1="647.1" x2="1191.4" y2="670.0" stroke="#1a1a1a" stroke-width="1.3"/>
<line x1="1160.3" y1="647.5" x2="1184.0" y2="666.0" stroke="#1a1a1a" stroke-width="1.3"/>
<line x1="1160.0" y1="647.9" x2="1189.5" y2="672.0" stroke="#1a1a1a" stroke-width="1.3"/>
<path d="M1154.8,651.3 L1192.3,695.8 A6.8,6.8 0 0 0 1201.8,686.3 L1157.3,648.8 A1.8,1.8 0 0 0 1154.8,651.3 Z" fill="#fff" stroke="#111" stroke-width="3.2" stroke-linejoin="round"/>
<line x1="1158.0" y1="650.2" x2="1187.1" y2="676.1" stroke="#1a1a1a" stroke-width="1.3"/>
<line x1="1157.6" y1="650.6" x2="1185.7" y2="676.8" stroke="#1a1a1a" stroke-width="1.3"/>
<line x1="1157.3" y1="650.9" x2="1177.9" y2="671.0" stroke="#1a1a1a" stroke-width="1.3"/>
<line x1="1156.9" y1="651.3" x2="1175.4" y2="670.2" stroke="#1a1a1a" stroke-width="1.3"/>
<line x1="1156.6" y1="651.6" x2="1174.7" y2="671.1" stroke="#1a1a1a" stroke-width="1.3"/>
<line x1="1156.2" y1="652.0" x2="1173.6" y2="671.5" stroke="#1a1a1a" stroke-width="1.3"/>
<path d="M1150.6,654.5 L1180.6,704.4 A6.8,6.8 0 0 0 1191.5,696.5 L1153.4,652.5 A1.8,1.8 0 0 0 1150.6,654.5 Z" fill="#fff" stroke="#111" stroke-width="3.2" stroke-linejoin="round"/>
<line x1="1153.9" y1="654.0" x2="1170.5" y2="674.3" stroke="#1a1a1a" stroke-width="1.3"/>
<line x1="1153.5" y1="654.3" x2="1173.8" y2="680.3" stroke="#1a1a1a" stroke-width="1.3"/>
<line x1="1153.1" y1="654.6" x2="1175.4" y2="684.6" stroke="#1a1a1a" stroke-width="1.3"/>
<line x1="1152.7" y1="654.9" x2="1173.8" y2="684.7" stroke="#1a1a1a" stroke-width="1.3"/>
<line x1="1152.3" y1="655.2" x2="1169.4" y2="680.6" stroke="#1a1a1a" stroke-width="1.3"/>
<line x1="1151.9" y1="655.5" x2="1170.0" y2="683.7" stroke="#1a1a1a" stroke-width="1.3"/>
<path d="M1145.9,657.1 L1167.8,711.0 A6.8,6.8 0 0 0 1179.8,704.9 L1149.0,655.5 A1.8,1.8 0 0 0 1145.9,657.1 Z" fill="#fff" stroke="#111" stroke-width="3.2" stroke-linejoin="round"/>
<line x1="1149.2" y1="657.1" x2="1167.3" y2="688.1" stroke="#1a1a1a" stroke-width="1.3"/>
<line x1="1148.8" y1="657.3" x2="1160.5" y2="678.5" stroke="#1a1a1a" stroke-width="1.3"/>
<line x1="1148.3" y1="657.5" x2="1163.9" y2="687.3" stroke="#1a1a1a" stroke-width="1.3"/>
<line x1="1147.9" y1="657.7" x2="1164.6" y2="691.5" stroke="#1a1a1a" stroke-width="1.3"/>
<line x1="1147.4" y1="658.0" x2="1162.5" y2="690.2" stroke="#1a1a1a" stroke-width="1.3"/>
<line x1="1147.0" y1="658.2" x2="1161.1" y2="690.3" stroke="#1a1a1a" stroke-width="1.3"/>
<path d="M1140.8,658.9 L1154.0,715.6 A6.8,6.8 0 0 0 1166.8,711.4 L1144.2,657.8 A1.8,1.8 0 0 0 1140.8,658.9 Z" fill="#fff" stroke="#111" stroke-width="3.2" stroke-linejoin="round"/>
<line x1="1144.2" y1="659.4" x2="1155.3" y2="688.0" stroke="#1a1a1a" stroke-width="1.3"/>
<line x1="1143.7" y1="659.5" x2="1152.5" y2="683.8" stroke="#1a1a1a" stroke-width="1.3"/>
<line x1="1143.2" y1="659.7" x2="1154.6" y2="693.5" stroke="#1a1a1a" stroke-width="1.3"/>
<line x1="1142.7" y1="659.8" x2="1151.2" y2="686.8" stroke="#1a1a1a" stroke-width="1.3"/>
<line x1="1142.3" y1="660.0" x2="1152.2" y2="694.5" stroke="#1a1a1a" stroke-width="1.3"/>
<line x1="1141.8" y1="660.1" x2="1151.6" y2="697.6" stroke="#1a1a1a" stroke-width="1.3"/>
<path d="M1135.6,659.9 L1139.7,717.9 A6.8,6.8 0 0 0 1153.1,715.8 L1139.0,659.3 A1.8,1.8 0 0 0 1135.6,659.9 Z" fill="#fff" stroke="#111" stroke-width="3.2" stroke-linejoin="round"/>
<line x1="1138.8" y1="660.9" x2="1145.0" y2="689.5" stroke="#1a1a1a" stroke-width="1.3"/>
<line x1="1138.3" y1="660.9" x2="1143.9" y2="689.8" stroke="#1a1a1a" stroke-width="1.3"/>
<line x1="1137.8" y1="661.0" x2="1144.2" y2="698.7" stroke="#1a1a1a" stroke-width="1.3"/>
<line x1="1137.3" y1="661.1" x2="1142.3" y2="695.4" stroke="#1a1a1a" stroke-width="1.3"/>
<line x1="1136.8" y1="661.2" x2="1139.9" y2="686.6" stroke="#1a1a1a" stroke-width="1.3"/>
<line x1="1136.3" y1="661.3" x2="1138.8" y2="686.1" stroke="#1a1a1a" stroke-width="1.3"/>
<path d="M1130.2,660.0 L1125.2,718.0 A6.8,6.8 0 0 0 1138.8,718.0 L1133.8,660.0 A1.8,1.8 0 0 0 1130.2,660.0 Z" fill="#fff" stroke="#111" stroke-width="3.2" stroke-linejoin="round"/>
<line x1="1133.3" y1="661.5" x2="1134.7" y2="686.8" stroke="#1a1a1a" stroke-width="1.3"/>
<line x1="1132.8" y1="661.5" x2="1134.0" y2="699.1" stroke="#1a1a1a" stroke-width="1.3"/>
<line x1="1132.3" y1="661.5" x2="1132.7" y2="697.5" stroke="#1a1a1a" stroke-width="1.3"/>
<line x1="1131.7" y1="661.5" x2="1131.5" y2="686.7" stroke="#1a1a1a" stroke-width="1.3"/>
<line x1="1131.2" y1="661.5" x2="1130.0" y2="697.8" stroke="#1a1a1a" stroke-width="1.3"/>
<line x1="1130.7" y1="661.5" x2="1128.5" y2="700.3" stroke="#1a1a1a" stroke-width="1.3"/>
<rect x="1015" y="665" width="120" height="45" fill="#fff" stroke="#111" stroke-width="2.5"/>
<path d="M1031.6,659.0 L1031.6,714.0 A7.0,7.0 0 0 0 1045.6,714.0 L1045.6,659.0 A7.0,7.0 0 0 0 1031.6,659.0 Z" fill="#fff" stroke="#111" stroke-width="3.2" stroke-linejoin="round"/>
<line x1="1042.8" y1="660.5" x2="1042.8" y2="682.7" stroke="#1a1a1a" stroke-width="1.3"/>
<line x1="1040.0" y1="660.5" x2="1040.0" y2="679.4" stroke="#1a1a1a" stroke-width="1.3"/>
<line x1="1037.2" y1="660.5" x2="1037.2" y2="681.5" stroke="#1a1a1a" stroke-width="1.3"/>
<line x1="1034.4" y1="660.5" x2="1034.4" y2="676.9" stroke="#1a1a1a" stroke-width="1.3"/>
<path d="M1058.2,659.0 L1058.2,714.0 A7.0,7.0 0 0 0 1072.2,714.0 L1072.2,659.0 A7.0,7.0 0 0 0 1058.2,659.0 Z" fill="#fff" stroke="#111" stroke-width="3.2" stroke-linejoin="round"/>
<line x1="1069.4" y1="660.5" x2="1069.4" y2="675.7" stroke="#1a1a1a" stroke-width="1.3"/>
<line x1="1066.6" y1="660.5" x2="1066.6" y2="686.2" stroke="#1a1a1a" stroke-width="1.3"/>
<line x1="1063.8" y1="660.5" x2="1063.8" y2="682.6" stroke="#1a1a1a" stroke-width="1.3"/>
<line x1="1061.0" y1="660.5" x2="1061.0" y2="681.3" stroke="#1a1a1a" stroke-width="1.3"/>
<path d="M1083.8,659.0 L1083.8,714.0 A7.0,7.0 0 0 0 1097.8,714.0 L1097.8,659.0 A7.0,7.0 0 0 0 1083.8,659.0 Z" fill="#fff" stroke="#111" stroke-width="3.2" stroke-linejoin="round"/>
<line x1="1095.0" y1="660.5" x2="1095.0" y2="685.8" stroke="#1a1a1a" stroke-width="1.3"/>
<line x1="1092.2" y1="660.5" x2="1092.2" y2="680.3" stroke="#1a1a1a" stroke-width="1.3"/>
<line x1="1089.4" y1="660.5" x2="1089.4" y2="685.1" stroke="#1a1a1a" stroke-width="1.3"/>
<line x1="1086.6" y1="660.5" x2="1086.6" y2="684.6" stroke="#1a1a1a" stroke-width="1.3"/>
<path d="M1109.0,659.0 L1109.0,714.0 A7.0,7.0 0 0 0 1123.0,714.0 L1123.0,659.0 A7.0,7.0 0 0 0 1109.0,659.0 Z" fill="#fff" stroke="#111" stroke-width="3.2" stroke-linejoin="round"/>
<line x1="1120.2" y1="660.5" x2="1120.2" y2="677.8" stroke="#1a1a1a" stroke-width="1.3"/>
<line x1="1117.4" y1="660.5" x2="1117.4" y2="678.3" stroke="#1a1a1a" stroke-width="1.3"/>
<line x1="1114.6" y1="660.5" x2="1114.6" y2="678.7" stroke="#1a1a1a" stroke-width="1.3"/>
<line x1="1111.8" y1="660.5" x2="1111.8" y2="678.1" stroke="#1a1a1a" stroke-width="1.3"/>
<path d="M1027,665 C1022,665 1021,656 1018,655 L1018,714 C1021,713 1022,709 1027,709 Z" fill="url(#hv)" stroke="#111" stroke-width="2.2"/>
<rect x="1106" y="541" width="28" height="43" fill="#fff" stroke="#111" stroke-width="2.5"/>
<path d="M1125.5,535.5 L1125.5,587.5 A6.5,6.5 0 0 0 1138.5,587.5 L1138.5,535.5 A6.5,6.5 0 0 0 1125.5,535.5 Z" fill="#fff" stroke="#111" stroke-width="3.2" stroke-linejoin="round"/>
<line x1="1135.5" y1="537.0" x2="1135.5" y2="557.2" stroke="#1a1a1a" stroke-width="1.3"/>
<line x1="1132.0" y1="537.0" x2="1132.0" y2="553.8" stroke="#1a1a1a" stroke-width="1.3"/>
<line x1="1128.5" y1="537.0" x2="1128.5" y2="555.5" stroke="#1a1a1a" stroke-width="1.3"/>
<path d="M1108,537 C1112,537 1114,543 1118,543 L1118,584 C1114,584 1112,590 1108,590 Z" fill="url(#hv)" stroke="#111" stroke-width="2.2"/>
<rect x="1052" y="537" width="56" height="53" fill="#fff"/>
<path d="M1052,539.5 L1108,539.5" fill="none" stroke="#111" stroke-width="5" stroke-linejoin="round"/><path d="M1052,539.5 L1108,539.5" fill="none" stroke="#fff" stroke-width="1.5" stroke-dasharray="2.2 2.6"/>
<path d="M1052,587.5 L1108,587.5" fill="none" stroke="#111" stroke-width="5" stroke-linejoin="round"/><path d="M1052,587.5 L1108,587.5" fill="none" stroke="#fff" stroke-width="1.5" stroke-dasharray="2.2 2.6"/>
<line x1="1108" y1="537" x2="1108" y2="590" stroke="#111" stroke-width="2.5"/>
<line x1="1055" y1="545" x2="1106" y2="545" stroke="#222" stroke-width="1.3" stroke-dasharray="18 3 3 3"/>
<line x1="1055" y1="549" x2="1106" y2="549" stroke="#222" stroke-width="1.0" stroke-dasharray="18 3 3 3"/>
<line x1="1055" y1="555" x2="1106" y2="555" stroke="#222" stroke-width="1.1" stroke-dasharray="18 3 3 3"/>
<line x1="1055" y1="572" x2="1106" y2="572" stroke="#222" stroke-width="1.0" stroke-dasharray="18 3 3 3"/>
<line x1="1055" y1="577" x2="1106" y2="577" stroke="#222" stroke-width="1.2" stroke-dasharray="18 3 3 3"/>
<line x1="1055" y1="581" x2="1106" y2="581" stroke="#222" stroke-width="1.3" stroke-dasharray="18 3 3 3"/>
<rect x="851.5" y="478" width="203.5" height="128" rx="20" fill="#fff"/>
<line x1="860" y1="483.5" x2="1015" y2="483.5" stroke="#222" stroke-width="1.0"/>
<line x1="860" y1="485.4" x2="1002" y2="485.4" stroke="#222" stroke-width="1.0"/>
<line x1="860" y1="487.3" x2="989" y2="487.3" stroke="#222" stroke-width="1.0"/>
<line x1="860" y1="489.2" x2="976" y2="489.2" stroke="#222" stroke-width="1.0"/>
<line x1="860" y1="491.1" x2="963" y2="491.1" stroke="#222" stroke-width="1.0"/>
<line x1="860" y1="493.0" x2="950" y2="493.0" stroke="#222" stroke-width="1.0"/>
<line x1="860" y1="494.9" x2="937" y2="494.9" stroke="#222" stroke-width="1.0"/>
<line x1="860" y1="496.8" x2="924" y2="496.8" stroke="#222" stroke-width="1.0"/>
<line x1="860" y1="498.7" x2="911" y2="498.7" stroke="#222" stroke-width="1.0"/>
<line x1="856" y1="534.0" x2="908.0" y2="534.0" stroke="#222" stroke-width="1.0"/>
<line x1="856" y1="536.4" x2="904.0" y2="536.4" stroke="#222" stroke-width="1.0"/>
<line x1="856" y1="538.8" x2="900.0" y2="538.8" stroke="#222" stroke-width="1.0"/>
<line x1="856" y1="541.2" x2="896.0" y2="541.2" stroke="#222" stroke-width="1.0"/>
<line x1="856" y1="543.6" x2="892.0" y2="543.6" stroke="#222" stroke-width="1.0"/>
<line x1="856" y1="546.0" x2="888.0" y2="546.0" stroke="#222" stroke-width="1.0"/>
<line x1="856" y1="548.4" x2="884.0" y2="548.4" stroke="#222" stroke-width="1.0"/>
<line x1="856" y1="550.8" x2="880.0" y2="550.8" stroke="#222" stroke-width="1.0"/>
<line x1="856" y1="553.2" x2="876.0" y2="553.2" stroke="#222" stroke-width="1.0"/>
<line x1="856" y1="555.6" x2="872.0" y2="555.6" stroke="#222" stroke-width="1.0"/>
<line x1="856" y1="558.0" x2="868.0" y2="558.0" stroke="#222" stroke-width="1.0"/>
<line x1="856" y1="560.4" x2="864.0" y2="560.4" stroke="#222" stroke-width="1.0"/>
<path d="M871.5,478 L1035,478 Q1055,478 1055,498 L1055,586 Q1055,606 1035,606 L871.5,606 Q851.5,606 851.5,586 L851.5,498 Q851.5,478 871.5,478 Z" fill="none" stroke="#111" stroke-width="5" stroke-linejoin="round"/><path d="M871.5,478 L1035,478 Q1055,478 1055,498 L1055,586 Q1055,606 1035,606 L871.5,606 Q851.5,606 851.5,586 L851.5,498 Q851.5,478 871.5,478 Z" fill="none" stroke="#fff" stroke-width="1.5" stroke-dasharray="2.2 2.6"/>
<rect x="837" y="521.5" width="17" height="11" fill="url(#hb)" stroke="#111" stroke-width="2"/>
<rect x="1053" y="521.5" width="21" height="11" fill="url(#hb)" stroke="#111" stroke-width="2"/>
<path d="M854,523 L878,523 C884,531 893,532 900,525 L950,524 L1000,524 C1010,530 1016,530 1022,524 L1053,523" fill="none" stroke="#111" stroke-width="2.2"/>
<line x1="854" y1="521" x2="1053" y2="521" stroke="#111" stroke-width="1.3"/>
<path d="M892,498 L905,498 C920,499 928,510 942,511.5 L1016,513.5 L1016,517.5 L892,517 Z" fill="#fff" stroke="#111" stroke-width="2"/>
<line x1="880" y1="518.5" x2="1016" y2="518.5" stroke="#111" stroke-width="2.2"/>
<rect x="928.5" y="536" width="52" height="94" fill="#fff"/>
<path d="M932,537 L932,628" fill="none" stroke="#111" stroke-width="5.5" stroke-linejoin="round"/><path d="M932,537 L932,628" fill="none" stroke="#fff" stroke-width="1.5" stroke-dasharray="2.2 2.6"/>
<path d="M977.5,537 L977.5,628" fill="none" stroke="#111" stroke-width="5.5" stroke-linejoin="round"/><path d="M977.5,537 L977.5,628" fill="none" stroke="#fff" stroke-width="1.5" stroke-dasharray="2.2 2.6"/>
<path d="M929,538.5 L980,538.5" fill="none" stroke="#111" stroke-width="5" stroke-linejoin="round"/><path d="M929,538.5 L980,538.5" fill="none" stroke="#fff" stroke-width="1.5" stroke-dasharray="2.2 2.6"/>
<path d="M934,580.5 L975,580.5" fill="none" stroke="#111" stroke-width="5.5" stroke-linejoin="round"/><path d="M934,580.5 L975,580.5" fill="none" stroke="#fff" stroke-width="1.5" stroke-dasharray="2.2 2.6"/>
<line x1="938" y1="542" x2="938" y2="577" stroke="#333" stroke-width="0.9"/>
<line x1="942" y1="542" x2="942" y2="577" stroke="#333" stroke-width="0.9"/>
<line x1="946" y1="542" x2="946" y2="577" stroke="#333" stroke-width="0.9"/>
<line x1="964" y1="542" x2="964" y2="577" stroke="#333" stroke-width="0.9"/>
<line x1="969" y1="542" x2="969" y2="577" stroke="#333" stroke-width="0.9"/>
<line x1="972" y1="542" x2="972" y2="577" stroke="#333" stroke-width="0.9"/>
<line x1="940" y1="585" x2="940" y2="627" stroke="#333" stroke-width="1"/>
<line x1="944" y1="585" x2="944" y2="627" stroke="#333" stroke-width="1"/>
<line x1="968" y1="585" x2="968" y2="627" stroke="#333" stroke-width="1"/>
<line x1="971" y1="585" x2="971" y2="627" stroke="#333" stroke-width="1"/>
<line x1="953" y1="523" x2="953" y2="574" stroke="#111" stroke-width="1.6"/>
<polygon points="953,573 947,584 959,584" fill="#fff" stroke="#111" stroke-width="1.6"/>
<path d="M936,627 C941,624 945,629 950,626 C955,623 960,629 965,626 C969,624 972,628 975,626" fill="none" stroke="#111" stroke-width="1.8"/>
<rect x="980" y="548" width="43" height="23" fill="#fff"/>
<path d="M980,550.5 L1023,550.5" fill="none" stroke="#111" stroke-width="4.5" stroke-linejoin="round"/><path d="M980,550.5 L1023,550.5" fill="none" stroke="#fff" stroke-width="1.5" stroke-dasharray="2.2 2.6"/>
<path d="M980,568.5 L1023,568.5" fill="none" stroke="#111" stroke-width="4.5" stroke-linejoin="round"/><path d="M980,568.5 L1023,568.5" fill="none" stroke="#fff" stroke-width="1.5" stroke-dasharray="2.2 2.6"/>
<line x1="1023" y1="548" x2="1023" y2="571" stroke="#111" stroke-width="2.2"/>
<line x1="983" y1="555" x2="1021" y2="555" stroke="#333" stroke-width="1"/>
<line x1="983" y1="558" x2="1021" y2="558" stroke="#333" stroke-width="1"/>
<line x1="983" y1="563" x2="1021" y2="563" stroke="#333" stroke-width="1"/>
<path d="M763,480 L793,480 L820,494 L891,494 L891,518 L820,518 L793,535.5 L763,535.5 Z" fill="#fff" stroke="#111" stroke-width="2.4" stroke-linejoin="round"/>
<polygon points="763,480 793,480 820,494 891,494 891,501.5 818,501.5 791,491 763,491" fill="#111"/>
<polygon points="763,527 791,527 818,511.5 891,511.5 891,518 820,518 793,535.5 763,535.5" fill="#111"/>
<path d="M778,484.5 L792,484.5 L818,497.5 L890,497.5" fill="none" stroke="#fff" stroke-width="1.4" stroke-dasharray="1.6 3.2"/>
<path d="M778,531 L792,531 L818,514.8 L890,514.8" fill="none" stroke="#fff" stroke-width="1.4" stroke-dasharray="1.6 3.2"/>
<line x1="767" y1="494" x2="785" y2="494" stroke="#222" stroke-width="1.2"/>
<line x1="767" y1="499" x2="783" y2="499" stroke="#222" stroke-width="1.2"/>
<line x1="767" y1="516" x2="782" y2="516" stroke="#222" stroke-width="1.2"/>
<line x1="767" y1="521" x2="790" y2="521" stroke="#222" stroke-width="1.2"/>
<line x1="767" y1="524" x2="792" y2="524" stroke="#222" stroke-width="1.2"/>
<line x1="793" y1="493" x2="813" y2="503" stroke="#222" stroke-width="1.2"/>
<line x1="793" y1="524" x2="810" y2="513" stroke="#222" stroke-width="1.2"/>
<line x1="830" y1="504" x2="889" y2="504" stroke="#222" stroke-width="1.1" stroke-dasharray="22 3 3 3"/>
<line x1="830" y1="508" x2="889" y2="508" stroke="#222" stroke-width="1.1" stroke-dasharray="22 3 3 3"/>
<line x1="891" y1="494" x2="891" y2="518" stroke="#111" stroke-width="2"/>
<g transform="translate(842.8,647) rotate(2.4)"><rect x="0" y="0" width="176" height="57" fill="#fff" stroke="#111" stroke-width="3.5"/>
<path d="M2,4 L174,4" fill="none" stroke="#111" stroke-width="5" stroke-linejoin="round"/><path d="M2,4 L174,4" fill="none" stroke="#fff" stroke-width="1.5" stroke-dasharray="2.2 2.6"/>
<path d="M2,53 L58,53" fill="none" stroke="#111" stroke-width="5" stroke-linejoin="round"/><path d="M2,53 L58,53" fill="none" stroke="#fff" stroke-width="1.5" stroke-dasharray="2.2 2.6"/>
<path d="M112,53 L174,53" fill="none" stroke="#111" stroke-width="5" stroke-linejoin="round"/><path d="M112,53 L174,53" fill="none" stroke="#fff" stroke-width="1.5" stroke-dasharray="2.2 2.6"/>
<line x1="2" y1="10" x2="174" y2="10" stroke="#222" stroke-width="1.6" stroke-dasharray="40 3 3 3 3 3"/>
<line x1="20" y1="14" x2="170" y2="14" stroke="#222" stroke-width="1.2" stroke-dasharray="40 3 3 3 3 3"/>
<line x1="10" y1="19" x2="174" y2="19" stroke="#222" stroke-width="1" stroke-dasharray="40 3 3 3 3 3"/>
<line x1="25" y1="29" x2="170" y2="29" stroke="#222" stroke-width="1.2" stroke-dasharray="40 3 3 3 3 3"/>
<line x1="10" y1="40" x2="174" y2="40" stroke="#222" stroke-width="1.2" stroke-dasharray="40 3 3 3 3 3"/>
<line x1="5" y1="46" x2="174" y2="46" stroke="#222" stroke-width="1.6" stroke-dasharray="40 3 3 3 3 3"/>
<path d="M83,2 L83,38 L90,38 L90,2 Z" fill="url(#hbs)" stroke="#111" stroke-width="1.6"/></g>
<path d="M900,704 L902,729 M955,707 L953,731" stroke="#111" stroke-width="5.5" fill="none"/>
<path d="M900,704 L902,729 M955,707 L953,731" stroke="#fff" stroke-width="1.4" stroke-dasharray="2 2.6" fill="none"/>
<polygon points="928,686 909,699 910,729 947,731 948,698" fill="#fff" stroke="#111" stroke-width="2.2"/>
<path d="M910,729 C920,733 938,733 947,731" fill="none" stroke="#111" stroke-width="2"/>
<line x1="920" y1="701" x2="920" y2="727" stroke="#222" stroke-width="1.2" stroke-dasharray="6 3"/>
<line x1="942" y1="702" x2="942" y2="728" stroke="#222" stroke-width="1.2" stroke-dasharray="6 3"/>
<path d="M903,727 L866,745 L868,750 L905,734 Z" fill="url(#hbs)" stroke="#111" stroke-width="2"/>
<path d="M952,728 L985,751 L983,755 L950,735 Z" fill="url(#hbs)" stroke="#111" stroke-width="2"/>
<path d="M866,748 C890,741 950,739 984,754" fill="none" stroke="#111" stroke-width="2"/>
<g transform="translate(888,760) rotate(-6)"><rect x="-13" y="-5" width="26" height="10" fill="#fff" stroke="#111" stroke-width="2"/><rect x="-9" y="-14" width="18" height="9" fill="url(#hh)" stroke="#111" stroke-width="1.6"/></g>
<g transform="translate(964,764) rotate(8)"><rect x="-12" y="-5" width="24" height="10" fill="#fff" stroke="#111" stroke-width="2"/><rect x="-8" y="-14" width="16" height="9" fill="url(#hh)" stroke="#111" stroke-width="1.6"/></g>
<g transform="translate(1153.5,943) rotate(-1.0)">
<rect x="-170" y="-48" width="340" height="97" fill="#fff"/>
<g transform="scale(1,1)">
<g transform="scale(1,1)">
<path d="M -231.6,-25 L -214.4,-25.5 L -214.4,-45.8 A 10.2,10.2 0 0 1 -194,-45.8 L -194,-36 C -194,-29 -187.5,-27 -182.5,-27 C -177,-27 -174,-33 -172.5,-40 C -171.5,-45 -170,-49.5 -164,-50.5 L -164,0 L -231.6,0 Z" fill="#fff"/>
<rect x="-212" y="-52" width="16" height="46" fill="url(#hv)" opacity="0.9"/>
<rect x="-188" y="-32" width="16" height="20" fill="url(#hv)" opacity="0.85"/>
<rect x="-230" y="-26" width="10" height="14" fill="url(#hv)" opacity="0.8"/>
<path d="M -231.6,-25 L -214.4,-25.5 L -214.4,-45.8 A 10.2,10.2 0 0 1 -194,-45.8 L -194,-36 C -194,-29 -187.5,-27 -182.5,-27 C -177,-27 -174,-33 -172.5,-40 C -171.5,-45 -170,-49.5 -164,-50.5 L -108,-50.5" fill="none" stroke="#111" stroke-width="6.5" stroke-linejoin="round"/>
<path d="M -231.6,-25 L -214.4,-25.5 L -214.4,-45.8 A 10.2,10.2 0 0 1 -194,-45.8 L -194,-36 C -194,-29 -187.5,-27 -182.5,-27 C -177,-27 -174,-33 -172.5,-40 C -171.5,-45 -170,-49.5 -164,-50.5 L -108,-50.5" fill="none" stroke="#fff" stroke-width="1.8" stroke-dasharray="2 3"/>
</g>
<g transform="scale(1,-1)">
<path d="M -231.6,-25 L -214.4,-25.5 L -214.4,-45.8 A 10.2,10.2 0 0 1 -194,-45.8 L -194,-36 C -194,-29 -187.5,-27 -182.5,-27 C -177,-27 -174,-33 -172.5,-40 C -171.5,-45 -170,-49.5 -164,-50.5 L -164,0 L -231.6,0 Z" fill="#fff"/>
<rect x="-212" y="-52" width="16" height="46" fill="url(#hv)" opacity="0.9"/>
<rect x="-188" y="-32" width="16" height="20" fill="url(#hv)" opacity="0.85"/>
<rect x="-230" y="-26" width="10" height="14" fill="url(#hv)" opacity="0.8"/>
<path d="M -231.6,-25 L -214.4,-25.5 L -214.4,-45.8 A 10.2,10.2 0 0 1 -194,-45.8 L -194,-36 C -194,-29 -187.5,-27 -182.5,-27 C -177,-27 -174,-33 -172.5,-40 C -171.5,-45 -170,-49.5 -164,-50.5 L -108,-50.5" fill="none" stroke="#111" stroke-width="6.5" stroke-linejoin="round"/>
<path d="M -231.6,-25 L -214.4,-25.5 L -214.4,-45.8 A 10.2,10.2 0 0 1 -194,-45.8 L -194,-36 C -194,-29 -187.5,-27 -182.5,-27 C -177,-27 -174,-33 -172.5,-40 C -171.5,-45 -170,-49.5 -164,-50.5 L -108,-50.5" fill="none" stroke="#fff" stroke-width="1.8" stroke-dasharray="2 3"/>
</g>
<line x1="-211.5" y1="-44" x2="-211.5" y2="46" stroke="#111" stroke-width="1.6"/>
<line x1="-197" y1="-44" x2="-197" y2="46" stroke="#111" stroke-width="1.6"/>
<polyline points="-233.4,-27.0 -229.8,-22.1 -233.4,-17.2 -229.8,-12.3 -233.4,-7.4 -229.8,-2.5 -233.4,2.5 -229.8,7.4 -233.4,12.3 -229.8,17.2 -233.4,22.1 -229.8,27.0" fill="none" stroke="#111" stroke-width="2"/>
</g>
<g transform="scale(-1,1)">
<g transform="scale(1,1)">
<path d="M -231.6,-25 L -214.4,-25.5 L -214.4,-45.8 A 10.2,10.2 0 0 1 -194,-45.8 L -194,-36 C -194,-29 -187.5,-27 -182.5,-27 C -177,-27 -174,-33 -172.5,-40 C -171.5,-45 -170,-49.5 -164,-50.5 L -164,0 L -231.6,0 Z" fill="#fff"/>
<rect x="-212" y="-52" width="16" height="46" fill="url(#hv)" opacity="0.9"/>
<rect x="-188" y="-32" width="16" height="20" fill="url(#hv)" opacity="0.85"/>
<rect x="-230" y="-26" width="10" height="14" fill="url(#hv)" opacity="0.8"/>
<path d="M -231.6,-25 L -214.4,-25.5 L -214.4,-45.8 A 10.2,10.2 0 0 1 -194,-45.8 L -194,-36 C -194,-29 -187.5,-27 -182.5,-27 C -177,-27 -174,-33 -172.5,-40 C -171.5,-45 -170,-49.5 -164,-50.5 L -108,-50.5" fill="none" stroke="#111" stroke-width="6.5" stroke-linejoin="round"/>
<path d="M -231.6,-25 L -214.4,-25.5 L -214.4,-45.8 A 10.2,10.2 0 0 1 -194,-45.8 L -194,-36 C -194,-29 -187.5,-27 -182.5,-27 C -177,-27 -174,-33 -172.5,-40 C -171.5,-45 -170,-49.5 -164,-50.5 L -108,-50.5" fill="none" stroke="#fff" stroke-width="1.8" stroke-dasharray="2 3"/>
</g>
<g transform="scale(1,-1)">
<path d="M -231.6,-25 L -214.4,-25.5 L -214.4,-45.8 A 10.2,10.2 0 0 1 -194,-45.8 L -194,-36 C -194,-29 -187.5,-27 -182.5,-27 C -177,-27 -174,-33 -172.5,-40 C -171.5,-45 -170,-49.5 -164,-50.5 L -164,0 L -231.6,0 Z" fill="#fff"/>
<rect x="-212" y="-52" width="16" height="46" fill="url(#hv)" opacity="0.9"/>
<rect x="-188" y="-32" width="16" height="20" fill="url(#hv)" opacity="0.85"/>
<rect x="-230" y="-26" width="10" height="14" fill="url(#hv)" opacity="0.8"/>
<path d="M -231.6,-25 L -214.4,-25.5 L -214.4,-45.8 A 10.2,10.2 0 0 1 -194,-45.8 L -194,-36 C -194,-29 -187.5,-27 -182.5,-27 C -177,-27 -174,-33 -172.5,-40 C -171.5,-45 -170,-49.5 -164,-50.5 L -108,-50.5" fill="none" stroke="#111" stroke-width="6.5" stroke-linejoin="round"/>
<path d="M -231.6,-25 L -214.4,-25.5 L -214.4,-45.8 A 10.2,10.2 0 0 1 -194,-45.8 L -194,-36 C -194,-29 -187.5,-27 -182.5,-27 C -177,-27 -174,-33 -172.5,-40 C -171.5,-45 -170,-49.5 -164,-50.5 L -108,-50.5" fill="none" stroke="#fff" stroke-width="1.8" stroke-dasharray="2 3"/>
</g>
<line x1="-211.5" y1="-44" x2="-211.5" y2="46" stroke="#111" stroke-width="1.6"/>
<line x1="-197" y1="-44" x2="-197" y2="46" stroke="#111" stroke-width="1.6"/>
<polyline points="-233.4,-27.0 -229.8,-22.1 -233.4,-17.2 -229.8,-12.3 -233.4,-7.4 -229.8,-2.5 -233.4,2.5 -229.8,7.4 -233.4,12.3 -229.8,17.2 -233.4,22.1 -229.8,27.0" fill="none" stroke="#111" stroke-width="2"/>
</g>
<rect x="-35" y="-100" width="70" height="80" fill="#fff"/>
<rect x="-169" y="-47.5" width="338" height="25" fill="url(#hb)"/>
<rect x="-169" y="24.5" width="338" height="25" fill="url(#hb)"/>
<rect x="-35" y="-100" width="70" height="80" fill="#fff"/>
<line x1="-169" y1="-22" x2="169" y2="-22" stroke="#111" stroke-width="4"/>
<line x1="-169" y1="25" x2="169" y2="25" stroke="#111" stroke-width="3"/>
<line x1="-165" y1="-16" x2="165" y2="-16" stroke="#222" stroke-width="1.3" stroke-dasharray="60 4 3 4"/>
<line x1="-160" y1="-12" x2="160" y2="-12" stroke="#222" stroke-width="1" stroke-dasharray="60 4 3 4"/>
<line x1="-150" y1="13" x2="160" y2="13" stroke="#222" stroke-width="1.2" stroke-dasharray="60 4 3 4"/>
<line x1="-150" y1="18" x2="165" y2="18" stroke="#222" stroke-width="1.3" stroke-dasharray="60 4 3 4"/>
<line x1="-140" y1="21" x2="165" y2="21" stroke="#222" stroke-width="1" stroke-dasharray="60 4 3 4"/>
<line x1="-140" y1="-3" x2="160" y2="-3" stroke="#222" stroke-width="1.3" stroke-dasharray="14 5 3 5"/>
<rect x="-169" y="-47.5" width="338" height="97" fill="none" stroke="#111" stroke-width="3.5"/>
<g transform="translate(-62,-130) rotate(19)">
<rect x="-21" y="-22" width="42" height="48" fill="#fff" stroke="#111" stroke-width="3"/>
<line x1="-20" y1="-12" x2="20" y2="-12" stroke="#111" stroke-width="3"/>
<line x1="-6.0" y1="-9.0" x2="19" y2="-9.0" stroke="#111" stroke-width="1.3"/>
<line x1="-4.0" y1="-6.9" x2="19" y2="-6.9" stroke="#111" stroke-width="1.3"/>
<line x1="-2.0" y1="-4.8" x2="19" y2="-4.8" stroke="#111" stroke-width="1.3"/>
<line x1="0.0" y1="-2.7" x2="19" y2="-2.7" stroke="#111" stroke-width="1.3"/>
<line x1="2.0" y1="-0.6" x2="19" y2="-0.6" stroke="#111" stroke-width="1.3"/>
<line x1="4.0" y1="1.5" x2="19" y2="1.5" stroke="#111" stroke-width="1.3"/>
<line x1="6.0" y1="3.6" x2="19" y2="3.6" stroke="#111" stroke-width="1.3"/>
<line x1="8.0" y1="5.7" x2="19" y2="5.7" stroke="#111" stroke-width="1.3"/>
<line x1="10.0" y1="7.8" x2="19" y2="7.8" stroke="#111" stroke-width="1.3"/>
<line x1="12.0" y1="9.9" x2="19" y2="9.9" stroke="#111" stroke-width="1.3"/>
<line x1="14.0" y1="12.0" x2="19" y2="12.0" stroke="#111" stroke-width="1.3"/>
</g>
<g transform="translate(59,-130) rotate(-17)">
<rect x="-21" y="-22" width="42" height="48" fill="#fff" stroke="#111" stroke-width="3"/>
<line x1="-20" y1="-12" x2="20" y2="-12" stroke="#111" stroke-width="3"/>
<line x1="-19" y1="-9.0" x2="7.0" y2="-9.0" stroke="#111" stroke-width="1.3"/>
<line x1="-19" y1="-6.9" x2="5.0" y2="-6.9" stroke="#111" stroke-width="1.3"/>
<line x1="-19" y1="-4.8" x2="3.0" y2="-4.8" stroke="#111" stroke-width="1.3"/>
<line x1="-19" y1="-2.7" x2="1.0" y2="-2.7" stroke="#111" stroke-width="1.3"/>
<line x1="-19" y1="-0.6" x2="-1.0" y2="-0.6" stroke="#111" stroke-width="1.3"/>
<line x1="-19" y1="1.5" x2="-3.0" y2="1.5" stroke="#111" stroke-width="1.3"/>
<line x1="-19" y1="3.6" x2="-5.0" y2="3.6" stroke="#111" stroke-width="1.3"/>
<line x1="-19" y1="5.7" x2="-7.0" y2="5.7" stroke="#111" stroke-width="1.3"/>
<line x1="-19" y1="7.8" x2="-9.0" y2="7.8" stroke="#111" stroke-width="1.3"/>
<line x1="-19" y1="9.9" x2="-11.0" y2="9.9" stroke="#111" stroke-width="1.3"/>
<line x1="-19" y1="12.0" x2="-13.0" y2="12.0" stroke="#111" stroke-width="1.3"/>
</g>
<polygon points="-108.5,-128.5 -104.0,-128.6 -90.0,-119.6 -70.0,-109.7 -50.0,-102.7 -35.0,-99.1 -35.0,-46.5 -52.3,-46.5 -52.3,-63.4 -72.0,-72.5 -73.5,-78.0 -78.0,-90.0 -86.0,-104.0 -96.0,-117.0" fill="url(#hb)" stroke="#111" stroke-width="2.6" stroke-linejoin="round"/>
<polygon points="35.5,-100.0 50.0,-103.9 70.0,-111.4 90.0,-122.0 102.0,-130.0 105.0,-132.0 104.5,-131.0 91.0,-116.0 79.0,-101.0 71.0,-88.0 67.0,-78.0 65.4,-72.4 49.9,-67.2 49.9,-47.5 35.5,-47.5" fill="url(#hb)" stroke="#111" stroke-width="2.6" stroke-linejoin="round"/>
<path d="M-104.0,-128.6 C-102.7,-127.7 -98.7,-124.9 -96.0,-123.2 C-93.3,-121.5 -90.7,-119.9 -88.0,-118.4 C-85.3,-116.9 -82.7,-115.5 -80.0,-114.2 C-77.3,-112.9 -74.7,-111.7 -72.0,-110.5 C-69.3,-109.4 -66.7,-108.3 -64.0,-107.3 C-61.3,-106.3 -58.7,-105.3 -56.0,-104.5 C-53.3,-103.6 -50.7,-102.8 -48.0,-102.1 C-45.3,-101.4 -42.7,-100.7 -40.0,-100.2 C-37.3,-99.6 -34.7,-99.0 -32.0,-98.6 C-29.3,-98.1 -26.7,-97.7 -24.0,-97.4 C-21.3,-97.0 -18.7,-96.8 -16.0,-96.6 C-13.3,-96.3 -10.7,-96.2 -8.0,-96.1 C-5.3,-96.0 -2.7,-96.0 0.0,-96.0 C2.7,-96.0 5.3,-96.1 8.0,-96.3 C10.7,-96.4 13.3,-96.6 16.0,-96.9 C18.7,-97.2 21.3,-97.5 24.0,-97.9 C26.7,-98.3 29.3,-98.8 32.0,-99.3 C34.7,-99.8 37.3,-100.4 40.0,-101.1 C42.7,-101.7 45.3,-102.5 48.0,-103.3 C50.7,-104.0 53.3,-104.9 56.0,-105.8 C58.7,-106.8 61.3,-107.8 64.0,-108.8 C66.7,-109.9 69.3,-111.1 72.0,-112.3 C74.7,-113.6 77.3,-114.9 80.0,-116.3 C82.7,-117.7 85.3,-119.2 88.0,-120.8 C90.7,-122.3 94.7,-125.0 96.0,-125.8" fill="none" stroke="#111" stroke-width="2.4"/>
<line x1="-33.5" y1="-96" x2="-33.5" y2="-24" stroke="#111" stroke-width="3.4"/>
<line x1="-29.5" y1="-96" x2="-29.5" y2="-24" stroke="#111" stroke-width="1.2"/>
<line x1="-22" y1="-96" x2="-22" y2="-24" stroke="#111" stroke-width="1.1"/>
<line x1="24" y1="-96" x2="24" y2="-24" stroke="#111" stroke-width="1.1"/>
<line x1="29" y1="-96" x2="29" y2="-24" stroke="#111" stroke-width="1.2"/>
<line x1="34.5" y1="-96" x2="34.5" y2="-24" stroke="#111" stroke-width="3.4"/>
<line x1="-35" y1="-30" x2="35" y2="-30" stroke="#111" stroke-width="1.2"/>
<path d="M 0,-20 C 6,-36 10,-45 12,-58" fill="none" stroke="#111" stroke-width="1.5"/>
<path d="M 12,-63 L 8,-52 L 16,-54 Z" fill="#111"/>
<path d="M -48,-3 L -60,-3 M -58,-7 L -66,-3 L -58,1" fill="none" stroke="#111" stroke-width="1.8"/>
<path d="M 13,-22 C 13,0 25,18 60,21 L 95,21 L 95,25 L 58,25 C 19,22 7,2 7,-22 Z" fill="url(#hbs)" stroke="#111" stroke-width="2.2"/>
<text x="-210" y="-67" font-family="Liberation Sans" font-style="italic" font-size="19.5" fill="#111">5</text>
<path d="M-204.0,-64.0 C-203.7,-63.5 -202.0,-62.0 -202.0,-61.0 C-202.0,-60.0 -203.8,-59.0 -204.0,-58.0 C-204.2,-57.0 -203.2,-55.5 -203.0,-55.0" fill="none" stroke="#111" stroke-width="1.5" stroke-linecap="round"/>
<text x="-103" y="-64" font-family="Liberation Sans" font-style="italic" font-size="19.5" fill="#111">1</text>
<path d="M-99.0,-60.0 C-98.7,-59.3 -96.8,-57.2 -97.0,-56.0 C-97.2,-54.8 -99.8,-54.3 -100.0,-53.0 C-100.2,-51.7 -98.3,-48.8 -98.0,-48.0" fill="none" stroke="#111" stroke-width="1.5" stroke-linecap="round"/>
<text x="90" y="-84" font-family="Liberation Sans" font-style="italic" font-size="19.5" fill="#111">2</text>
<path d="M89.0,-89.0 C87.8,-89.3 84.5,-90.5 82.0,-91.0 C79.5,-91.5 75.3,-91.8 74.0,-92.0" fill="none" stroke="#111" stroke-width="1.5" stroke-linecap="round"/>
<text x="88" y="-147" font-family="Liberation Sans" font-style="italic" font-size="19.5" fill="#111">3</text>
<path d="M90.0,-150.0 C89.3,-149.3 87.0,-147.7 86.0,-146.0 C85.0,-144.3 84.8,-142.0 84.0,-140.0 C83.2,-138.0 81.5,-135.0 81.0,-134.0" fill="none" stroke="#111" stroke-width="1.5" stroke-linecap="round"/>
<text x="197" y="-71" font-family="Liberation Sans" font-style="italic" font-size="19.5" fill="#111">4</text>
<path d="M203.0,-67.0 C203.3,-66.3 205.0,-64.2 205.0,-63.0 C205.0,-61.8 203.2,-61.2 203.0,-60.0 C202.8,-58.8 203.8,-56.7 204.0,-56.0" fill="none" stroke="#111" stroke-width="1.5" stroke-linecap="round"/>
<text x="53" y="10" font-family="Liberation Sans" font-style="italic" font-size="19.5" fill="#111">6</text>
<path d="M53.0,4.0 C51.7,4.7 47.7,6.7 45.0,8.0 C42.3,9.3 39.2,10.3 37.0,12.0 C34.8,13.7 32.8,17.0 32.0,18.0" fill="none" stroke="#111" stroke-width="1.5" stroke-linecap="round"/>
</g>
<g transform="translate(801.5,1158) rotate(-1.0)">
<rect x="-170" y="-48" width="340" height="97" fill="#fff"/>
<g transform="scale(1,1)">
<g transform="scale(1,1)">
<path d="M -231.6,-25 L -214.4,-25.5 L -214.4,-45.8 A 10.2,10.2 0 0 1 -194,-45.8 L -194,-36 C -194,-29 -187.5,-27 -182.5,-27 C -177,-27 -174,-33 -172.5,-40 C -171.5,-45 -170,-49.5 -164,-50.5 L -164,0 L -231.6,0 Z" fill="#fff"/>
<rect x="-212" y="-52" width="16" height="46" fill="url(#hv)" opacity="0.9"/>
<rect x="-188" y="-32" width="16" height="20" fill="url(#hv)" opacity="0.85"/>
<rect x="-230" y="-26" width="10" height="14" fill="url(#hv)" opacity="0.8"/>
<path d="M -231.6,-25 L -214.4,-25.5 L -214.4,-45.8 A 10.2,10.2 0 0 1 -194,-45.8 L -194,-36 C -194,-29 -187.5,-27 -182.5,-27 C -177,-27 -174,-33 -172.5,-40 C -171.5,-45 -170,-49.5 -164,-50.5 L -108,-50.5" fill="none" stroke="#111" stroke-width="6.5" stroke-linejoin="round"/>
<path d="M -231.6,-25 L -214.4,-25.5 L -214.4,-45.8 A 10.2,10.2 0 0 1 -194,-45.8 L -194,-36 C -194,-29 -187.5,-27 -182.5,-27 C -177,-27 -174,-33 -172.5,-40 C -171.5,-45 -170,-49.5 -164,-50.5 L -108,-50.5" fill="none" stroke="#fff" stroke-width="1.8" stroke-dasharray="2 3"/>
</g>
<g transform="scale(1,-1)">
<path d="M -231.6,-25 L -214.4,-25.5 L -214.4,-45.8 A 10.2,10.2 0 0 1 -194,-45.8 L -194,-36 C -194,-29 -187.5,-27 -182.5,-27 C -177,-27 -174,-33 -172.5,-40 C -171.5,-45 -170,-49.5 -164,-50.5 L -164,0 L -231.6,0 Z" fill="#fff"/>
<rect x="-212" y="-52" width="16" height="46" fill="url(#hv)" opacity="0.9"/>
<rect x="-188" y="-32" width="16" height="20" fill="url(#hv)" opacity="0.85"/>
<rect x="-230" y="-26" width="10" height="14" fill="url(#hv)" opacity="0.8"/>
<path d="M -231.6,-25 L -214.4,-25.5 L -214.4,-45.8 A 10.2,10.2 0 0 1 -194,-45.8 L -194,-36 C -194,-29 -187.5,-27 -182.5,-27 C -177,-27 -174,-33 -172.5,-40 C -171.5,-45 -170,-49.5 -164,-50.5 L -108,-50.5" fill="none" stroke="#111" stroke-width="6.5" stroke-linejoin="round"/>
<path d="M -231.6,-25 L -214.4,-25.5 L -214.4,-45.8 A 10.2,10.2 0 0 1 -194,-45.8 L -194,-36 C -194,-29 -187.5,-27 -182.5,-27 C -177,-27 -174,-33 -172.5,-40 C -171.5,-45 -170,-49.5 -164,-50.5 L -108,-50.5" fill="none" stroke="#fff" stroke-width="1.8" stroke-dasharray="2 3"/>
</g>
<line x1="-211.5" y1="-44" x2="-211.5" y2="46" stroke="#111" stroke-width="1.6"/>
<line x1="-197" y1="-44" x2="-197" y2="46" stroke="#111" stroke-width="1.6"/>
<polyline points="-233.4,-27.0 -229.8,-22.1 -233.4,-17.2 -229.8,-12.3 -233.4,-7.4 -229.8,-2.5 -233.4,2.5 -229.8,7.4 -233.4,12.3 -229.8,17.2 -233.4,22.1 -229.8,27.0" fill="none" stroke="#111" stroke-width="2"/>
</g>
<g transform="scale(-1,1)">
<g transform="scale(1,1)">
<path d="M -231.6,-25 L -214.4,-25.5 L -214.4,-45.8 A 10.2,10.2 0 0 1 -194,-45.8 L -194,-36 C -194,-29 -187.5,-27 -182.5,-27 C -177,-27 -174,-33 -172.5,-40 C -171.5,-45 -170,-49.5 -164,-50.5 L -164,0 L -231.6,0 Z" fill="#fff"/>
<rect x="-212" y="-52" width="16" height="46" fill="url(#hv)" opacity="0.9"/>
<rect x="-188" y="-32" width="16" height="20" fill="url(#hv)" opacity="0.85"/>
<rect x="-230" y="-26" width="10" height="14" fill="url(#hv)" opacity="0.8"/>
<path d="M -231.6,-25 L -214.4,-25.5 L -214.4,-45.8 A 10.2,10.2 0 0 1 -194,-45.8 L -194,-36 C -194,-29 -187.5,-27 -182.5,-27 C -177,-27 -174,-33 -172.5,-40 C -171.5,-45 -170,-49.5 -164,-50.5 L -108,-50.5" fill="none" stroke="#111" stroke-width="6.5" stroke-linejoin="round"/>
<path d="M -231.6,-25 L -214.4,-25.5 L -214.4,-45.8 A 10.2,10.2 0 0 1 -194,-45.8 L -194,-36 C -194,-29 -187.5,-27 -182.5,-27 C -177,-27 -174,-33 -172.5,-40 C -171.5,-45 -170,-49.5 -164,-50.5 L -108,-50.5" fill="none" stroke="#fff" stroke-width="1.8" stroke-dasharray="2 3"/>
</g>
<g transform="scale(1,-1)">
<path d="M -231.6,-25 L -214.4,-25.5 L -214.4,-45.8 A 10.2,10.2 0 0 1 -194,-45.8 L -194,-36 C -194,-29 -187.5,-27 -182.5,-27 C -177,-27 -174,-33 -172.5,-40 C -171.5,-45 -170,-49.5 -164,-50.5 L -164,0 L -231.6,0 Z" fill="#fff"/>
<rect x="-212" y="-52" width="16" height="46" fill="url(#hv)" opacity="0.9"/>
<rect x="-188" y="-32" width="16" height="20" fill="url(#hv)" opacity="0.85"/>
<rect x="-230" y="-26" width="10" height="14" fill="url(#hv)" opacity="0.8"/>
<path d="M -231.6,-25 L -214.4,-25.5 L -214.4,-45.8 A 10.2,10.2 0 0 1 -194,-45.8 L -194,-36 C -194,-29 -187.5,-27 -182.5,-27 C -177,-27 -174,-33 -172.5,-40 C -171.5,-45 -170,-49.5 -164,-50.5 L -108,-50.5" fill="none" stroke="#111" stroke-width="6.5" stroke-linejoin="round"/>
<path d="M -231.6,-25 L -214.4,-25.5 L -214.4,-45.8 A 10.2,10.2 0 0 1 -194,-45.8 L -194,-36 C -194,-29 -187.5,-27 -182.5,-27 C -177,-27 -174,-33 -172.5,-40 C -171.5,-45 -170,-49.5 -164,-50.5 L -108,-50.5" fill="none" stroke="#fff" stroke-width="1.8" stroke-dasharray="2 3"/>
</g>
<line x1="-211.5" y1="-44" x2="-211.5" y2="46" stroke="#111" stroke-width="1.6"/>
<line x1="-197" y1="-44" x2="-197" y2="46" stroke="#111" stroke-width="1.6"/>
<polyline points="-233.4,-27.0 -229.8,-22.1 -233.4,-17.2 -229.8,-12.3 -233.4,-7.4 -229.8,-2.5 -233.4,2.5 -229.8,7.4 -233.4,12.3 -229.8,17.2 -233.4,22.1 -229.8,27.0" fill="none" stroke="#111" stroke-width="2"/>
</g>
<rect x="-35" y="-100" width="70" height="80" fill="#fff"/>
<rect x="-169" y="-47.5" width="338" height="11.5" fill="url(#hb)"/>
<rect x="-169" y="-35.5" width="338" height="10" fill="url(#hf)"/>
<line x1="-169" y1="-35.8" x2="169" y2="-35.8" stroke="#111" stroke-width="1.5"/>
<rect x="-169" y="26" width="338" height="10" fill="url(#hf)"/>
<rect x="-169" y="36.5" width="338" height="12.5" fill="url(#hb)"/>
<line x1="-169" y1="36.2" x2="169" y2="36.2" stroke="#111" stroke-width="1.5"/>
<rect x="-35" y="-100" width="70" height="80" fill="#fff"/>
<line x1="-169" y1="-24" x2="169" y2="-24" stroke="#111" stroke-width="4"/>
<line x1="-169" y1="25" x2="169" y2="25" stroke="#111" stroke-width="3"/>
<line x1="-165" y1="-16" x2="165" y2="-16" stroke="#222" stroke-width="1.3" stroke-dasharray="60 4 3 4"/>
<line x1="-160" y1="-12" x2="160" y2="-12" stroke="#222" stroke-width="1" stroke-dasharray="60 4 3 4"/>
<line x1="-150" y1="13" x2="160" y2="13" stroke="#222" stroke-width="1.2" stroke-dasharray="60 4 3 4"/>
<line x1="-150" y1="18" x2="165" y2="18" stroke="#222" stroke-width="1.3" stroke-dasharray="60 4 3 4"/>
<line x1="-140" y1="21" x2="165" y2="21" stroke="#222" stroke-width="1" stroke-dasharray="60 4 3 4"/>
<line x1="-140" y1="-3" x2="160" y2="-3" stroke="#222" stroke-width="1.3" stroke-dasharray="14 5 3 5"/>
<rect x="-169" y="-47.5" width="338" height="97" fill="none" stroke="#111" stroke-width="3.5"/>
<g transform="translate(-62,-130) rotate(19)">
<rect x="-21" y="-22" width="42" height="48" fill="#fff" stroke="#111" stroke-width="3"/>
<line x1="-20" y1="-12" x2="20" y2="-12" stroke="#111" stroke-width="3"/>
<line x1="-6.0" y1="-9.0" x2="19" y2="-9.0" stroke="#111" stroke-width="1.3"/>
<line x1="-4.0" y1="-6.9" x2="19" y2="-6.9" stroke="#111" stroke-width="1.3"/>
<line x1="-2.0" y1="-4.8" x2="19" y2="-4.8" stroke="#111" stroke-width="1.3"/>
<line x1="0.0" y1="-2.7" x2="19" y2="-2.7" stroke="#111" stroke-width="1.3"/>
<line x1="2.0" y1="-0.6" x2="19" y2="-0.6" stroke="#111" stroke-width="1.3"/>
<line x1="4.0" y1="1.5" x2="19" y2="1.5" stroke="#111" stroke-width="1.3"/>
<line x1="6.0" y1="3.6" x2="19" y2="3.6" stroke="#111" stroke-width="1.3"/>
<line x1="8.0" y1="5.7" x2="19" y2="5.7" stroke="#111" stroke-width="1.3"/>
<line x1="10.0" y1="7.8" x2="19" y2="7.8" stroke="#111" stroke-width="1.3"/>
<line x1="12.0" y1="9.9" x2="19" y2="9.9" stroke="#111" stroke-width="1.3"/>
<line x1="14.0" y1="12.0" x2="19" y2="12.0" stroke="#111" stroke-width="1.3"/>
</g>
<g transform="translate(59,-130) rotate(-17)">
<rect x="-21" y="-22" width="42" height="48" fill="#fff" stroke="#111" stroke-width="3"/>
<line x1="-20" y1="-12" x2="20" y2="-12" stroke="#111" stroke-width="3"/>
<line x1="-19" y1="-9.0" x2="7.0" y2="-9.0" stroke="#111" stroke-width="1.3"/>
<line x1="-19" y1="-6.9" x2="5.0" y2="-6.9" stroke="#111" stroke-width="1.3"/>
<line x1="-19" y1="-4.8" x2="3.0" y2="-4.8" stroke="#111" stroke-width="1.3"/>
<line x1="-19" y1="-2.7" x2="1.0" y2="-2.7" stroke="#111" stroke-width="1.3"/>
<line x1="-19" y1="-0.6" x2="-1.0" y2="-0.6" stroke="#111" stroke-width="1.3"/>
<line x1="-19" y1="1.5" x2="-3.0" y2="1.5" stroke="#111" stroke-width="1.3"/>
<line x1="-19" y1="3.6" x2="-5.0" y2="3.6" stroke="#111" stroke-width="1.3"/>
<line x1="-19" y1="5.7" x2="-7.0" y2="5.7" stroke="#111" stroke-width="1.3"/>
<line x1="-19" y1="7.8" x2="-9.0" y2="7.8" stroke="#111" stroke-width="1.3"/>
<line x1="-19" y1="9.9" x2="-11.0" y2="9.9" stroke="#111" stroke-width="1.3"/>
<line x1="-19" y1="12.0" x2="-13.0" y2="12.0" stroke="#111" stroke-width="1.3"/>
</g>
<polygon points="-108.5,-128.5 -104.0,-128.6 -90.0,-119.6 -70.0,-109.7 -50.0,-102.7 -35.0,-99.1 -35.0,-46.5 -52.3,-46.5 -52.3,-63.4 -72.0,-72.5 -73.5,-78.0 -78.0,-90.0 -86.0,-104.0 -96.0,-117.0" fill="url(#hb)" stroke="#111" stroke-width="2.6" stroke-linejoin="round"/>
<polygon points="35.5,-100.0 50.0,-103.9 70.0,-111.4 90.0,-122.0 102.0,-130.0 105.0,-132.0 104.5,-131.0 91.0,-116.0 79.0,-101.0 71.0,-88.0 67.0,-78.0 65.4,-72.4 49.9,-67.2 49.9,-47.5 35.5,-47.5" fill="url(#hb)" stroke="#111" stroke-width="2.6" stroke-linejoin="round"/>
<path d="M-104.0,-128.6 C-102.7,-127.7 -98.7,-124.9 -96.0,-123.2 C-93.3,-121.5 -90.7,-119.9 -88.0,-118.4 C-85.3,-116.9 -82.7,-115.5 -80.0,-114.2 C-77.3,-112.9 -74.7,-111.7 -72.0,-110.5 C-69.3,-109.4 -66.7,-108.3 -64.0,-107.3 C-61.3,-106.3 -58.7,-105.3 -56.0,-104.5 C-53.3,-103.6 -50.7,-102.8 -48.0,-102.1 C-45.3,-101.4 -42.7,-100.7 -40.0,-100.2 C-37.3,-99.6 -34.7,-99.0 -32.0,-98.6 C-29.3,-98.1 -26.7,-97.7 -24.0,-97.4 C-21.3,-97.0 -18.7,-96.8 -16.0,-96.6 C-13.3,-96.3 -10.7,-96.2 -8.0,-96.1 C-5.3,-96.0 -2.7,-96.0 0.0,-96.0 C2.7,-96.0 5.3,-96.1 8.0,-96.3 C10.7,-96.4 13.3,-96.6 16.0,-96.9 C18.7,-97.2 21.3,-97.5 24.0,-97.9 C26.7,-98.3 29.3,-98.8 32.0,-99.3 C34.7,-99.8 37.3,-100.4 40.0,-101.1 C42.7,-101.7 45.3,-102.5 48.0,-103.3 C50.7,-104.0 53.3,-104.9 56.0,-105.8 C58.7,-106.8 61.3,-107.8 64.0,-108.8 C66.7,-109.9 69.3,-111.1 72.0,-112.3 C74.7,-113.6 77.3,-114.9 80.0,-116.3 C82.7,-117.7 85.3,-119.2 88.0,-120.8 C90.7,-122.3 94.7,-125.0 96.0,-125.8" fill="none" stroke="#111" stroke-width="2.4"/>
<line x1="-33.5" y1="-96" x2="-33.5" y2="-24" stroke="#111" stroke-width="3.4"/>
<line x1="-29.5" y1="-96" x2="-29.5" y2="-24" stroke="#111" stroke-width="1.2"/>
<line x1="-22" y1="-96" x2="-22" y2="-24" stroke="#111" stroke-width="1.1"/>
<line x1="24" y1="-96" x2="24" y2="-24" stroke="#111" stroke-width="1.1"/>
<line x1="29" y1="-96" x2="29" y2="-24" stroke="#111" stroke-width="1.2"/>
<line x1="34.5" y1="-96" x2="34.5" y2="-24" stroke="#111" stroke-width="3.4"/>
<line x1="-35" y1="-30" x2="35" y2="-30" stroke="#111" stroke-width="1.2"/>
<path d="M 0,-20 C 6,-36 10,-45 12,-58" fill="none" stroke="#111" stroke-width="1.5"/>
<path d="M 12,-63 L 8,-52 L 16,-54 Z" fill="#111"/>
<path d="M -48,-3 L -60,-3 M -58,-7 L -66,-3 L -58,1" fill="none" stroke="#111" stroke-width="1.8"/>
<rect x="-4" y="-28" width="7" height="52" fill="url(#hbs)" stroke="#111" stroke-width="2.2"/>
<text x="-210" y="-67" font-family="Liberation Sans" font-style="italic" font-size="19.5" fill="#111">5</text>
<path d="M-204.0,-64.0 C-203.7,-63.5 -202.0,-62.0 -202.0,-61.0 C-202.0,-60.0 -203.8,-59.0 -204.0,-58.0 C-204.2,-57.0 -203.2,-55.5 -203.0,-55.0" fill="none" stroke="#111" stroke-width="1.5" stroke-linecap="round"/>
<text x="-103" y="-64" font-family="Liberation Sans" font-style="italic" font-size="19.5" fill="#111">1</text>
<path d="M-99.0,-60.0 C-98.7,-59.3 -96.8,-57.2 -97.0,-56.0 C-97.2,-54.8 -99.8,-54.3 -100.0,-53.0 C-100.2,-51.7 -98.3,-48.8 -98.0,-48.0" fill="none" stroke="#111" stroke-width="1.5" stroke-linecap="round"/>
<text x="90" y="-84" font-family="Liberation Sans" font-style="italic" font-size="19.5" fill="#111">2</text>
<path d="M89.0,-89.0 C87.8,-89.3 84.5,-90.5 82.0,-91.0 C79.5,-91.5 75.3,-91.8 74.0,-92.0" fill="none" stroke="#111" stroke-width="1.5" stroke-linecap="round"/>
<text x="88" y="-147" font-family="Liberation Sans" font-style="italic" font-size="19.5" fill="#111">3</text>
<path d="M90.0,-150.0 C89.3,-149.3 87.0,-147.7 86.0,-146.0 C85.0,-144.3 84.8,-142.0 84.0,-140.0 C83.2,-138.0 81.5,-135.0 81.0,-134.0" fill="none" stroke="#111" stroke-width="1.5" stroke-linecap="round"/>
<text x="197" y="-71" font-family="Liberation Sans" font-style="italic" font-size="19.5" fill="#111">4</text>
<path d="M203.0,-67.0 C203.3,-66.3 205.0,-64.2 205.0,-63.0 C205.0,-61.8 203.2,-61.2 203.0,-60.0 C202.8,-58.8 203.8,-56.7 204.0,-56.0" fill="none" stroke="#111" stroke-width="1.5" stroke-linecap="round"/>
<text x="22" y="10" font-family="Liberation Sans" font-style="italic" font-size="19.5" fill="#111">6</text>
<path d="M21.0,4.0 C20.0,3.7 16.8,2.2 15.0,2.0 C13.2,1.8 11.8,2.7 10.0,3.0 C8.2,3.3 5.0,3.8 4.0,4.0" fill="none" stroke="#111" stroke-width="1.5" stroke-linecap="round"/>
<text x="102" y="10" font-family="Liberation Sans" font-style="italic" font-size="19.5" fill="#111">7</text>
<path d="M103.0,-1.0 C102.0,-1.8 97.8,-3.8 97.0,-6.0 C96.2,-8.2 98.2,-11.3 98.0,-14.0 C97.8,-16.7 96.3,-20.7 96.0,-22.0" fill="none" stroke="#111" stroke-width="1.5" stroke-linecap="round"/>
</g>
<g transform="translate(1133,1396) rotate(-1.0)">
<rect x="-170" y="-48" width="340" height="97" fill="#fff"/>
<g transform="scale(1,1)">
<g transform="scale(1,1)">
<path d="M -231.6,-25 L -214.4,-25.5 L -214.4,-45.8 A 10.2,10.2 0 0 1 -194,-45.8 L -194,-36 C -194,-29 -187.5,-27 -182.5,-27 C -177,-27 -174,-33 -172.5,-40 C -171.5,-45 -170,-49.5 -164,-50.5 L -164,0 L -231.6,0 Z" fill="#fff"/>
<rect x="-212" y="-52" width="16" height="46" fill="url(#hv)" opacity="0.9"/>
<rect x="-188" y="-32" width="16" height="20" fill="url(#hv)" opacity="0.85"/>
<rect x="-230" y="-26" width="10" height="14" fill="url(#hv)" opacity="0.8"/>
<path d="M -231.6,-25 L -214.4,-25.5 L -214.4,-45.8 A 10.2,10.2 0 0 1 -194,-45.8 L -194,-36 C -194,-29 -187.5,-27 -182.5,-27 C -177,-27 -174,-33 -172.5,-40 C -171.5,-45 -170,-49.5 -164,-50.5 L -108,-50.5" fill="none" stroke="#111" stroke-width="6.5" stroke-linejoin="round"/>
<path d="M -231.6,-25 L -214.4,-25.5 L -214.4,-45.8 A 10.2,10.2 0 0 1 -194,-45.8 L -194,-36 C -194,-29 -187.5,-27 -182.5,-27 C -177,-27 -174,-33 -172.5,-40 C -171.5,-45 -170,-49.5 -164,-50.5 L -108,-50.5" fill="none" stroke="#fff" stroke-width="1.8" stroke-dasharray="2 3"/>
</g>
<g transform="scale(1,-1)">
<path d="M -231.6,-25 L -214.4,-25.5 L -214.4,-45.8 A 10.2,10.2 0 0 1 -194,-45.8 L -194,-36 C -194,-29 -187.5,-27 -182.5,-27 C -177,-27 -174,-33 -172.5,-40 C -171.5,-45 -170,-49.5 -164,-50.5 L -164,0 L -231.6,0 Z" fill="#fff"/>
<rect x="-212" y="-52" width="16" height="46" fill="url(#hv)" opacity="0.9"/>
<rect x="-188" y="-32" width="16" height="20" fill="url(#hv)" opacity="0.85"/>
<rect x="-230" y="-26" width="10" height="14" fill="url(#hv)" opacity="0.8"/>
<path d="M -231.6,-25 L -214.4,-25.5 L -214.4,-45.8 A 10.2,10.2 0 0 1 -194,-45.8 L -194,-36 C -194,-29 -187.5,-27 -182.5,-27 C -177,-27 -174,-33 -172.5,-40 C -171.5,-45 -170,-49.5 -164,-50.5 L -108,-50.5" fill="none" stroke="#111" stroke-width="6.5" stroke-linejoin="round"/>
<path d="M -231.6,-25 L -214.4,-25.5 L -214.4,-45.8 A 10.2,10.2 0 0 1 -194,-45.8 L -194,-36 C -194,-29 -187.5,-27 -182.5,-27 C -177,-27 -174,-33 -172.5,-40 C -171.5,-45 -170,-49.5 -164,-50.5 L -108,-50.5" fill="none" stroke="#fff" stroke-width="1.8" stroke-dasharray="2 3"/>
</g>
<line x1="-211.5" y1="-44" x2="-211.5" y2="46" stroke="#111" stroke-width="1.6"/>
<line x1="-197" y1="-44" x2="-197" y2="46" stroke="#111" stroke-width="1.6"/>
<polyline points="-233.4,-27.0 -229.8,-22.1 -233.4,-17.2 -229.8,-12.3 -233.4,-7.4 -229.8,-2.5 -233.4,2.5 -229.8,7.4 -233.4,12.3 -229.8,17.2 -233.4,22.1 -229.8,27.0" fill="none" stroke="#111" stroke-width="2"/>
</g>
<g transform="scale(-1,1)">
<g transform="scale(1,1)">
<path d="M -231.6,-25 L -214.4,-25.5 L -214.4,-45.8 A 10.2,10.2 0 0 1 -194,-45.8 L -194,-36 C -194,-29 -187.5,-27 -182.5,-27 C -177,-27 -174,-33 -172.5,-40 C -171.5,-45 -170,-49.5 -164,-50.5 L -164,0 L -231.6,0 Z" fill="#fff"/>
<rect x="-212" y="-52" width="16" height="46" fill="url(#hv)" opacity="0.9"/>
<rect x="-188" y="-32" width="16" height="20" fill="url(#hv)" opacity="0.85"/>
<rect x="-230" y="-26" width="10" height="14" fill="url(#hv)" opacity="0.8"/>
<path d="M -231.6,-25 L -214.4,-25.5 L -214.4,-45.8 A 10.2,10.2 0 0 1 -194,-45.8 L -194,-36 C -194,-29 -187.5,-27 -182.5,-27 C -177,-27 -174,-33 -172.5,-40 C -171.5,-45 -170,-49.5 -164,-50.5 L -108,-50.5" fill="none" stroke="#111" stroke-width="6.5" stroke-linejoin="round"/>
<path d="M -231.6,-25 L -214.4,-25.5 L -214.4,-45.8 A 10.2,10.2 0 0 1 -194,-45.8 L -194,-36 C -194,-29 -187.5,-27 -182.5,-27 C -177,-27 -174,-33 -172.5,-40 C -171.5,-45 -170,-49.5 -164,-50.5 L -108,-50.5" fill="none" stroke="#fff" stroke-width="1.8" stroke-dasharray="2 3"/>
</g>
<g transform="scale(1,-1)">
<path d="M -231.6,-25 L -214.4,-25.5 L -214.4,-45.8 A 10.2,10.2 0 0 1 -194,-45.8 L -194,-36 C -194,-29 -187.5,-27 -182.5,-27 C -177,-27 -174,-33 -172.5,-40 C -171.5,-45 -170,-49.5 -164,-50.5 L -164,0 L -231.6,0 Z" fill="#fff"/>
<rect x="-212" y="-52" width="16" height="46" fill="url(#hv)" opacity="0.9"/>
<rect x="-188" y="-32" width="16" height="20" fill="url(#hv)" opacity="0.85"/>
<rect x="-230" y="-26" width="10" height="14" fill="url(#hv)" opacity="0.8"/>
<path d="M -231.6,-25 L -214.4,-25.5 L -214.4,-45.8 A 10.2,10.2 0 0 1 -194,-45.8 L -194,-36 C -194,-29 -187.5,-27 -182.5,-27 C -177,-27 -174,-33 -172.5,-40 C -171.5,-45 -170,-49.5 -164,-50.5 L -108,-50.5" fill="none" stroke="#111" stroke-width="6.5" stroke-linejoin="round"/>
<path d="M -231.6,-25 L -214.4,-25.5 L -214.4,-45.8 A 10.2,10.2 0 0 1 -194,-45.8 L -194,-36 C -194,-29 -187.5,-27 -182.5,-27 C -177,-27 -174,-33 -172.5,-40 C -171.5,-45 -170,-49.5 -164,-50.5 L -108,-50.5" fill="none" stroke="#fff" stroke-width="1.8" stroke-dasharray="2 3"/>
</g>
<line x1="-211.5" y1="-44" x2="-211.5" y2="46" stroke="#111" stroke-width="1.6"/>
<line x1="-197" y1="-44" x2="-197" y2="46" stroke="#111" stroke-width="1.6"/>
<polyline points="-233.4,-27.0 -229.8,-22.1 -233.4,-17.2 -229.8,-12.3 -233.4,-7.4 -229.8,-2.5 -233.4,2.5 -229.8,7.4 -233.4,12.3 -229.8,17.2 -233.4,22.1 -229.8,27.0" fill="none" stroke="#111" stroke-width="2"/>
</g>
<rect x="-35" y="-100" width="70" height="80" fill="#fff"/>
<rect x="-169" y="-47.5" width="338" height="25" fill="url(#hb)"/>
<rect x="-169" y="24.5" width="338" height="25" fill="url(#hb)"/>
<rect x="-35" y="-100" width="70" height="80" fill="#fff"/>
<line x1="-169" y1="-22" x2="169" y2="-22" stroke="#111" stroke-width="4"/>
<line x1="-169" y1="25" x2="169" y2="25" stroke="#111" stroke-width="3"/>
<line x1="-165" y1="-16" x2="165" y2="-16" stroke="#222" stroke-width="1.3" stroke-dasharray="60 4 3 4"/>
<line x1="-160" y1="-12" x2="160" y2="-12" stroke="#222" stroke-width="1" stroke-dasharray="60 4 3 4"/>
<line x1="-150" y1="13" x2="160" y2="13" stroke="#222" stroke-width="1.2" stroke-dasharray="60 4 3 4"/>
<line x1="-150" y1="18" x2="165" y2="18" stroke="#222" stroke-width="1.3" stroke-dasharray="60 4 3 4"/>
<line x1="-140" y1="21" x2="165" y2="21" stroke="#222" stroke-width="1" stroke-dasharray="60 4 3 4"/>
<line x1="-140" y1="-3" x2="160" y2="-3" stroke="#222" stroke-width="1.3" stroke-dasharray="14 5 3 5"/>
<rect x="-169" y="-47.5" width="338" height="97" fill="none" stroke="#111" stroke-width="3.5"/>
<g transform="translate(-62,-130) rotate(19)">
<rect x="-21" y="-22" width="42" height="48" fill="#fff" stroke="#111" stroke-width="3"/>
<line x1="-20" y1="-12" x2="20" y2="-12" stroke="#111" stroke-width="3"/>
<line x1="-6.0" y1="-9.0" x2="19" y2="-9.0" stroke="#111" stroke-width="1.3"/>
<line x1="-4.0" y1="-6.9" x2="19" y2="-6.9" stroke="#111" stroke-width="1.3"/>
<line x1="-2.0" y1="-4.8" x2="19" y2="-4.8" stroke="#111" stroke-width="1.3"/>
<line x1="0.0" y1="-2.7" x2="19" y2="-2.7" stroke="#111" stroke-width="1.3"/>
<line x1="2.0" y1="-0.6" x2="19" y2="-0.6" stroke="#111" stroke-width="1.3"/>
<line x1="4.0" y1="1.5" x2="19" y2="1.5" stroke="#111" stroke-width="1.3"/>
<line x1="6.0" y1="3.6" x2="19" y2="3.6" stroke="#111" stroke-width="1.3"/>
<line x1="8.0" y1="5.7" x2="19" y2="5.7" stroke="#111" stroke-width="1.3"/>
<line x1="10.0" y1="7.8" x2="19" y2="7.8" stroke="#111" stroke-width="1.3"/>
<line x1="12.0" y1="9.9" x2="19" y2="9.9" stroke="#111" stroke-width="1.3"/>
<line x1="14.0" y1="12.0" x2="19" y2="12.0" stroke="#111" stroke-width="1.3"/>
</g>
<g transform="translate(59,-130) rotate(-17)">
<rect x="-21" y="-22" width="42" height="48" fill="#fff" stroke="#111" stroke-width="3"/>
<line x1="-20" y1="-12" x2="20" y2="-12" stroke="#111" stroke-width="3"/>
<line x1="-19" y1="-9.0" x2="7.0" y2="-9.0" stroke="#111" stroke-width="1.3"/>
<line x1="-19" y1="-6.9" x2="5.0" y2="-6.9" stroke="#111" stroke-width="1.3"/>
<line x1="-19" y1="-4.8" x2="3.0" y2="-4.8" stroke="#111" stroke-width="1.3"/>
<line x1="-19" y1="-2.7" x2="1.0" y2="-2.7" stroke="#111" stroke-width="1.3"/>
<line x1="-19" y1="-0.6" x2="-1.0" y2="-0.6" stroke="#111" stroke-width="1.3"/>
<line x1="-19" y1="1.5" x2="-3.0" y2="1.5" stroke="#111" stroke-width="1.3"/>
<line x1="-19" y1="3.6" x2="-5.0" y2="3.6" stroke="#111" stroke-width="1.3"/>
<line x1="-19" y1="5.7" x2="-7.0" y2="5.7" stroke="#111" stroke-width="1.3"/>
<line x1="-19" y1="7.8" x2="-9.0" y2="7.8" stroke="#111" stroke-width="1.3"/>
<line x1="-19" y1="9.9" x2="-11.0" y2="9.9" stroke="#111" stroke-width="1.3"/>
<line x1="-19" y1="12.0" x2="-13.0" y2="12.0" stroke="#111" stroke-width="1.3"/>
</g>
<polygon points="-108.5,-128.5 -104.0,-128.6 -90.0,-119.6 -70.0,-109.7 -50.0,-102.7 -35.0,-99.1 -35.0,-46.5 -52.3,-46.5 -52.3,-63.4 -72.0,-72.5 -73.5,-78.0 -78.0,-90.0 -86.0,-104.0 -96.0,-117.0" fill="url(#hb)" stroke="#111" stroke-width="2.6" stroke-linejoin="round"/>
<polygon points="35.5,-100.0 50.0,-103.9 70.0,-111.4 90.0,-122.0 102.0,-130.0 105.0,-132.0 104.5,-131.0 91.0,-116.0 79.0,-101.0 71.0,-88.0 67.0,-78.0 65.4,-72.4 49.9,-67.2 49.9,-47.5 35.5,-47.5" fill="url(#hb)" stroke="#111" stroke-width="2.6" stroke-linejoin="round"/>
<path d="M-104.0,-128.6 C-102.7,-127.7 -98.7,-124.9 -96.0,-123.2 C-93.3,-121.5 -90.7,-119.9 -88.0,-118.4 C-85.3,-116.9 -82.7,-115.5 -80.0,-114.2 C-77.3,-112.9 -74.7,-111.7 -72.0,-110.5 C-69.3,-109.4 -66.7,-108.3 -64.0,-107.3 C-61.3,-106.3 -58.7,-105.3 -56.0,-104.5 C-53.3,-103.6 -50.7,-102.8 -48.0,-102.1 C-45.3,-101.4 -42.7,-100.7 -40.0,-100.2 C-37.3,-99.6 -34.7,-99.0 -32.0,-98.6 C-29.3,-98.1 -26.7,-97.7 -24.0,-97.4 C-21.3,-97.0 -18.7,-96.8 -16.0,-96.6 C-13.3,-96.3 -10.7,-96.2 -8.0,-96.1 C-5.3,-96.0 -2.7,-96.0 0.0,-96.0 C2.7,-96.0 5.3,-96.1 8.0,-96.3 C10.7,-96.4 13.3,-96.6 16.0,-96.9 C18.7,-97.2 21.3,-97.5 24.0,-97.9 C26.7,-98.3 29.3,-98.8 32.0,-99.3 C34.7,-99.8 37.3,-100.4 40.0,-101.1 C42.7,-101.7 45.3,-102.5 48.0,-103.3 C50.7,-104.0 53.3,-104.9 56.0,-105.8 C58.7,-106.8 61.3,-107.8 64.0,-108.8 C66.7,-109.9 69.3,-111.1 72.0,-112.3 C74.7,-113.6 77.3,-114.9 80.0,-116.3 C82.7,-117.7 85.3,-119.2 88.0,-120.8 C90.7,-122.3 94.7,-125.0 96.0,-125.8" fill="none" stroke="#111" stroke-width="2.4"/>
<line x1="-33.5" y1="-96" x2="-33.5" y2="-24" stroke="#111" stroke-width="3.4"/>
<line x1="-29.5" y1="-96" x2="-29.5" y2="-24" stroke="#111" stroke-width="1.2"/>
<line x1="-22" y1="-96" x2="-22" y2="-24" stroke="#111" stroke-width="1.1"/>
<line x1="24" y1="-96" x2="24" y2="-24" stroke="#111" stroke-width="1.1"/>
<line x1="29" y1="-96" x2="29" y2="-24" stroke="#111" stroke-width="1.2"/>
<line x1="34.5" y1="-96" x2="34.5" y2="-24" stroke="#111" stroke-width="3.4"/>
<line x1="-35" y1="-30" x2="35" y2="-30" stroke="#111" stroke-width="1.2"/>
<path d="M 0,-20 C 6,-36 10,-45 12,-58" fill="none" stroke="#111" stroke-width="1.5"/>
<path d="M 12,-63 L 8,-52 L 16,-54 Z" fill="#111"/>
<path d="M -48,-3 L -60,-3 M -58,-7 L -66,-3 L -58,1" fill="none" stroke="#111" stroke-width="1.8"/>
<polygon points="-10,23 5,-17 18,-17 38,23" fill="url(#hb)" stroke="#111" stroke-width="2.4"/>
<text x="-210" y="-67" font-family="Liberation Sans" font-style="italic" font-size="19.5" fill="#111">5</text>
<path d="M-204.0,-64.0 C-203.7,-63.5 -202.0,-62.0 -202.0,-61.0 C-202.0,-60.0 -203.8,-59.0 -204.0,-58.0 C-204.2,-57.0 -203.2,-55.5 -203.0,-55.0" fill="none" stroke="#111" stroke-width="1.5" stroke-linecap="round"/>
<text x="-103" y="-64" font-family="Liberation Sans" font-style="italic" font-size="19.5" fill="#111">1</text>
<path d="M-99.0,-60.0 C-98.7,-59.3 -96.8,-57.2 -97.0,-56.0 C-97.2,-54.8 -99.8,-54.3 -100.0,-53.0 C-100.2,-51.7 -98.3,-48.8 -98.0,-48.0" fill="none" stroke="#111" stroke-width="1.5" stroke-linecap="round"/>
<text x="90" y="-84" font-family="Liberation Sans" font-style="italic" font-size="19.5" fill="#111">2</text>
<path d="M89.0,-89.0 C87.8,-89.3 84.5,-90.5 82.0,-91.0 C79.5,-91.5 75.3,-91.8 74.0,-92.0" fill="none" stroke="#111" stroke-width="1.5" stroke-linecap="round"/>
<text x="88" y="-147" font-family="Liberation Sans" font-style="italic" font-size="19.5" fill="#111">3</text>
<path d="M90.0,-150.0 C89.3,-149.3 87.0,-147.7 86.0,-146.0 C85.0,-144.3 84.8,-142.0 84.0,-140.0 C83.2,-138.0 81.5,-135.0 81.0,-134.0" fill="none" stroke="#111" stroke-width="1.5" stroke-linecap="round"/>
<text x="197" y="-71" font-family="Liberation Sans" font-style="italic" font-size="19.5" fill="#111">4</text>
<path d="M203.0,-67.0 C203.3,-66.3 205.0,-64.2 205.0,-63.0 C205.0,-61.8 203.2,-61.2 203.0,-60.0 C202.8,-58.8 203.8,-56.7 204.0,-56.0" fill="none" stroke="#111" stroke-width="1.5" stroke-linecap="round"/>
<text x="-41" y="11" font-family="Liberation Sans" font-style="italic" font-size="19.5" fill="#111">6</text>
<path d="M-29.0,4.0 C-27.8,4.5 -24.2,6.3 -22.0,7.0 C-19.8,7.7 -18.0,7.5 -16.0,8.0 C-14.0,8.5 -11.0,9.7 -10.0,10.0" fill="none" stroke="#111" stroke-width="1.5" stroke-linecap="round"/>
</g>
<path transform="translate(1161,492.6) scale(1.0,1.0)" d="M0,0 L6.2,-21.3 M6.2,-21.2 L18.8,-21.4 M1.7,-10.8 L11.5,-11 M30,-25 l0.3,0.3 M25,-16.3 L19.6,-0.8 M46.2,-14.5 C44.5,-17.5 39,-17.8 35.6,-14 C32.2,-10 32.6,-3.5 37,-2.6 C41.5,-1.8 45,-6 46.6,-16.6 M46.6,-16.6 L42.8,3.8 C41.8,7.5 37.5,8.3 33.8,6.8 M51,-2.4 l0.3,0.3  M 67.10,-21.6 L 60.10,-0.8" fill="none" stroke="#111" stroke-width="3.7" stroke-linecap="round" stroke-linejoin="round"/>
<path transform="translate(875,802.3) scale(1.0,1.04)" d="M0,0 L6.2,-21.3 M6.2,-21.2 L18.8,-21.4 M1.7,-10.8 L11.5,-11 M30,-25 l0.3,0.3 M25,-16.3 L19.6,-0.8 M46.2,-14.5 C44.5,-17.5 39,-17.8 35.6,-14 C32.2,-10 32.6,-3.5 37,-2.6 C41.5,-1.8 45,-6 46.6,-16.6 M46.6,-16.6 L42.8,3.8 C41.8,7.5 37.5,8.3 33.8,6.8 M51,-2.4 l0.3,0.3  M 65.50,-15.5 C 66.50,-21.5 76.00,-23.5 78.50,-17.5 C 80.00,-12.5 71.50,-7 63.10,-0.6 L 78.00,-0.6" fill="none" stroke="#111" stroke-width="3.7" stroke-linecap="round" stroke-linejoin="round"/>
<path transform="translate(588,1032.3) scale(1.0,1.13)" d="M0,0 L6.2,-21.3 M6.2,-21.2 L18.8,-21.4 M1.7,-10.8 L11.5,-11 M30,-25 l0.3,0.3 M25,-16.3 L19.6,-0.8 M46.2,-14.5 C44.5,-17.5 39,-17.8 35.6,-14 C32.2,-10 32.6,-3.5 37,-2.6 C41.5,-1.8 45,-6 46.6,-16.6 M46.6,-16.6 L42.8,3.8 C41.8,7.5 37.5,8.3 33.8,6.8 M51,-2.4 l0.3,0.3  M 59.50,-18.5 C 63.00,-23.5 74.00,-22.5 72.50,-16 C 71.50,-12 67.50,-11 64.00,-11 C 70.50,-11 73.00,-6.5 70.50,-2.5 C 67.50,1.5 59.00,0.8 56.60,-2.2" fill="none" stroke="#111" stroke-width="3.7" stroke-linecap="round" stroke-linejoin="round"/>
<path transform="translate(845.5,1289.1) scale(1.0,1.1)" d="M0,0 L6.2,-21.3 M6.2,-21.2 L18.8,-21.4 M1.7,-10.8 L11.5,-11 M30,-25 l0.3,0.3 M25,-16.3 L19.6,-0.8 M46.2,-14.5 C44.5,-17.5 39,-17.8 35.6,-14 C32.2,-10 32.6,-3.5 37,-2.6 C41.5,-1.8 45,-6 46.6,-16.6 M46.6,-16.6 L42.8,3.8 C41.8,7.5 37.5,8.3 33.8,6.8 M51,-2.4 l0.3,0.3  M 69.50,-22 L 57.10,-6.5 L 74.50,-6.5 M 70.00,-22 L 65.50,-0.6" fill="none" stroke="#111" stroke-width="3.7" stroke-linecap="round" stroke-linejoin="round"/>
<text x="970" y="504" font-family="Liberation Sans" font-style="italic" font-size="22" fill="#111" textLength="24" lengthAdjust="spacingAndGlyphs">26</text>
<path d="M969.0,499.0 C968.3,499.7 966.0,501.2 965.0,503.0 C964.0,504.8 963.5,508.2 963.0,510.0 C962.5,511.8 962.2,513.3 962.0,514.0" fill="none" stroke="#111" stroke-width="1.5" stroke-linecap="round"/>
<text x="806" y="601" font-family="Liberation Sans" font-style="italic" font-size="22" fill="#111" textLength="25" lengthAdjust="spacingAndGlyphs">20</text>
<path d="M833.0,594.0 C834.2,593.7 837.8,592.2 840.0,592.0 C842.2,591.8 844.2,593.3 846.0,593.0 C847.8,592.7 850.2,590.5 851.0,590.0" fill="none" stroke="#111" stroke-width="1.5" stroke-linecap="round"/>
<text x="1000" y="636" font-family="Liberation Sans" font-style="italic" font-size="22" fill="#111" textLength="24" lengthAdjust="spacingAndGlyphs">22</text>
<path d="M999.0,624.0 C997.8,623.3 994.2,620.8 992.0,620.0 C989.8,619.2 987.8,619.7 986.0,619.0 C984.2,618.3 981.8,616.5 981.0,616.0" fill="none" stroke="#111" stroke-width="1.5" stroke-linecap="round"/>
<text x="1264" y="642" font-family="Liberation Sans" font-style="italic" font-size="21" fill="#111">4</text>
<path d="M1263.0,636.0 C1261.7,635.8 1257.5,634.8 1255.0,635.0 C1252.5,635.2 1250.8,637.0 1248.0,637.0 C1245.2,637.0 1239.7,635.3 1238.0,635.0" fill="none" stroke="#111" stroke-width="1.5" stroke-linecap="round"/>
<text x="643" y="682" font-family="Liberation Sans" font-style="italic" font-size="23" fill="#111">5</text>
<path d="M656.0,664.0 C657.0,662.7 659.8,658.7 662.0,656.0 C664.2,653.3 667.2,650.7 669.0,648.0 C670.8,645.3 672.3,641.3 673.0,640.0" fill="none" stroke="#111" stroke-width="1.5" stroke-linecap="round"/>
<text x="884" y="641" font-family="Liberation Sans" font-style="italic" font-size="16" fill="#111">1</text>
<path d="M891.0,640.0 C890.7,640.7 889.0,642.7 889.0,644.0 C889.0,645.3 890.7,647.3 891.0,648.0" fill="none" stroke="#111" stroke-width="1.5" stroke-linecap="round"/>
<text x="906" y="646" font-family="Liberation Sans" font-style="italic" font-size="17" fill="#111">6</text>
<path d="M915.0,645.0 C915.3,645.7 917.0,647.7 917.0,649.0 C917.0,650.3 915.3,652.3 915.0,653.0" fill="none" stroke="#111" stroke-width="1.5" stroke-linecap="round"/>
<text x="988" y="743" font-family="Liberation Sans" font-style="italic" font-size="22" fill="#111">2</text>
<path d="M987.0,734.0 C985.5,733.2 981.2,730.2 978.0,729.0 C974.8,727.8 971.7,727.7 968.0,727.0 C964.3,726.3 958.0,725.3 956.0,725.0" fill="none" stroke="#111" stroke-width="1.5" stroke-linecap="round"/>
<path d="M1260.0,1475.8 C1258.9,1475.4 1255.3,1473.3 1253.5,1473.4 C1251.8,1473.5 1249.5,1475.8 1249.7,1476.6 C1249.8,1477.4 1254.1,1476.5 1254.5,1478.2 C1255.0,1479.9 1253.3,1484.3 1252.4,1487.0 C1251.4,1489.7 1250.2,1492.9 1248.8,1494.2 C1247.3,1495.5 1244.8,1495.3 1243.5,1495.0 C1242.3,1494.7 1240.9,1492.6 1241.4,1492.2 C1241.9,1491.8 1244.8,1492.2 1246.4,1492.6 C1248.1,1493.0 1249.6,1494.4 1251.2,1494.6 C1252.9,1494.8 1255.4,1493.9 1256.4,1493.8 C1257.4,1493.7 1256.7,1495.3 1257.2,1494.2 C1257.8,1493.1 1259.5,1487.3 1259.9,1487.4 C1260.3,1487.5 1259.4,1494.7 1259.7,1495.0 C1259.9,1495.3 1260.4,1490.7 1261.3,1489.4 C1262.2,1488.1 1264.1,1487.0 1265.1,1487.0 C1266.1,1487.0 1267.0,1488.2 1267.3,1489.4 C1267.5,1490.6 1266.1,1493.4 1266.6,1494.2 C1267.0,1495.0 1269.4,1494.3 1270.0,1494.2 C1270.5,1494.1 1269.5,1495.0 1270.0,1493.8 C1270.5,1492.6 1272.2,1486.8 1273.1,1487.0 C1273.9,1487.2 1273.7,1495.0 1274.9,1495.0 C1276.1,1495.0 1278.9,1488.2 1280.4,1487.0 C1281.8,1485.8 1283.2,1486.7 1283.6,1487.8 C1284.0,1488.9 1281.7,1493.2 1282.7,1493.8 C1283.8,1494.4 1288.2,1492.3 1289.9,1491.4 C1291.6,1490.5 1292.9,1488.9 1292.9,1488.2 C1292.9,1487.5 1290.9,1486.7 1289.7,1487.0 C1288.5,1487.3 1286.3,1489.0 1285.8,1490.2 C1285.4,1491.4 1286.1,1493.4 1286.9,1494.2 C1287.8,1495.0 1289.6,1495.1 1291.0,1495.0 C1292.5,1494.9 1294.8,1493.5 1295.5,1493.4 C1296.3,1493.3 1295.0,1495.2 1295.4,1494.2 C1295.8,1493.2 1297.7,1487.3 1298.1,1487.4 C1298.5,1487.5 1297.6,1494.7 1297.8,1495.0 C1298.1,1495.3 1298.6,1490.7 1299.5,1489.4 C1300.4,1488.1 1302.3,1487.0 1303.3,1487.0 C1304.3,1487.0 1305.2,1488.2 1305.5,1489.4 C1305.7,1490.6 1304.3,1493.4 1304.7,1494.2 C1305.2,1495.0 1307.6,1494.3 1308.1,1494.2 C1308.7,1494.1 1307.0,1496.3 1308.2,1493.8 C1309.4,1491.3 1314.7,1479.3 1315.5,1479.0 C1316.2,1478.7 1312.8,1489.1 1312.7,1491.8 C1312.6,1494.5 1313.7,1494.7 1314.8,1495.0 C1315.9,1495.3 1318.5,1493.7 1319.3,1493.4 M1309.4,1485.8 C1311.2,1485.7 1318.7,1485.1 1320.5,1485.0 M1319.2,1493.8 C1320.2,1492.7 1324.9,1488.0 1325.3,1487.4 C1325.6,1486.8 1321.8,1488.9 1321.5,1490.2 C1321.1,1491.5 1322.1,1494.6 1323.3,1495.0 C1324.5,1495.4 1328.0,1493.9 1328.7,1492.6 C1329.5,1491.3 1328.5,1487.8 1327.9,1487.0 C1327.3,1486.2 1324.5,1487.5 1325.2,1487.8 C1325.9,1488.1 1330.3,1488.5 1331.9,1488.6 C1333.4,1488.7 1334.2,1487.3 1334.5,1488.2 C1334.8,1489.1 1333.1,1494.3 1333.6,1494.2 C1334.0,1494.1 1336.1,1488.7 1337.1,1487.8 C1338.1,1486.9 1338.6,1489.1 1339.4,1489.0 C1340.3,1488.9 1341.8,1486.3 1342.3,1487.0 C1342.7,1487.7 1341.7,1492.2 1342.2,1493.4 C1342.7,1494.6 1344.9,1494.1 1345.5,1494.2 C1346.0,1494.3 1344.3,1495.4 1345.5,1494.2 C1346.6,1493.0 1351.0,1487.5 1352.5,1487.0 C1354.0,1486.5 1354.3,1489.8 1354.4,1491.0 C1354.5,1492.2 1354.2,1493.6 1353.1,1494.2 C1352.0,1494.8 1347.5,1494.7 1347.9,1494.6 C1348.4,1494.5 1354.4,1493.9 1355.7,1493.8 M1360.8,1487.8 l0.6,0.6 M1359.0,1494.6 l0.6,0.6 M1060.0,1513.0 C1059.1,1512.8 1055.9,1511.6 1054.5,1511.7 C1053.1,1511.8 1051.7,1513.2 1051.7,1513.7 C1051.8,1514.3 1054.7,1513.2 1054.7,1515.1 C1054.8,1517.0 1053.2,1521.7 1052.2,1525.3 C1051.2,1528.9 1050.0,1534.5 1048.7,1536.8 C1047.3,1539.2 1045.6,1539.6 1044.1,1539.6 C1042.6,1539.6 1039.7,1537.5 1039.7,1536.8 C1039.7,1536.2 1041.3,1537.1 1044.0,1535.5 C1046.7,1533.8 1052.4,1529.3 1056.0,1527.0 C1059.7,1524.7 1064.8,1522.5 1065.9,1521.5 C1067.0,1520.6 1064.0,1520.8 1062.7,1521.2 C1061.3,1521.6 1058.4,1522.8 1057.8,1523.9 C1057.2,1525.0 1057.9,1527.4 1059.2,1527.7 C1060.4,1527.9 1063.9,1526.7 1065.2,1525.6 C1066.5,1524.5 1066.9,1521.1 1067.1,1521.2 C1067.2,1521.3 1065.8,1524.8 1066.0,1526.0 C1066.1,1527.1 1067.2,1527.7 1068.1,1527.9 C1069.0,1528.0 1070.9,1527.1 1071.5,1527.0 C1072.0,1526.8 1069.8,1527.8 1071.5,1527.0 C1073.1,1526.1 1079.9,1522.8 1081.3,1521.9 C1082.7,1520.9 1080.9,1521.0 1079.8,1521.2 C1078.7,1521.4 1075.5,1522.3 1074.6,1523.2 C1073.6,1524.2 1073.4,1526.2 1073.9,1527.0 C1074.5,1527.8 1076.2,1528.1 1077.8,1528.0 C1079.5,1527.9 1082.8,1526.8 1083.8,1526.6 C1084.7,1526.5 1082.1,1527.8 1083.7,1527.0 C1085.3,1526.1 1092.4,1522.5 1093.6,1521.5 C1094.7,1520.6 1091.7,1520.8 1090.4,1521.2 C1089.0,1521.6 1086.1,1522.8 1085.5,1523.9 C1084.9,1525.0 1085.6,1527.4 1086.8,1527.7 C1088.1,1527.9 1091.6,1526.7 1092.9,1525.6 C1094.2,1524.5 1095.0,1519.9 1094.8,1521.2 C1094.5,1522.5 1092.8,1530.5 1091.6,1533.4 C1090.3,1536.4 1088.4,1538.7 1087.4,1538.9 C1086.4,1539.1 1084.7,1536.4 1085.6,1534.8 C1086.6,1533.2 1090.9,1530.7 1093.1,1529.4 C1095.2,1528.1 1097.5,1527.4 1098.3,1527.0 C1099.2,1526.6 1097.9,1527.9 1098.3,1527.0 C1098.8,1526.0 1100.9,1521.3 1101.3,1521.2 C1101.7,1521.1 1100.4,1525.5 1100.8,1526.6 C1101.3,1527.8 1102.8,1528.1 1103.9,1528.0 C1105.0,1527.9 1106.6,1527.1 1107.5,1526.0 C1108.3,1524.8 1109.0,1521.1 1109.1,1521.2 C1109.2,1521.3 1107.8,1525.6 1108.2,1526.6 C1108.5,1527.7 1110.8,1527.3 1111.3,1527.3 C1111.9,1527.4 1110.2,1527.4 1111.4,1527.0 C1112.5,1526.6 1116.6,1525.7 1118.2,1524.9 C1119.9,1524.1 1121.2,1522.8 1121.1,1522.2 C1121.1,1521.6 1119.2,1520.9 1118.0,1521.2 C1116.9,1521.5 1114.8,1522.9 1114.3,1523.9 C1113.9,1524.9 1114.6,1526.6 1115.4,1527.3 C1116.2,1528.0 1118.0,1528.1 1119.3,1528.0 C1120.7,1527.9 1122.9,1526.8 1123.6,1526.6 C1124.3,1526.5 1122.4,1528.2 1123.5,1527.3 C1124.6,1526.4 1128.8,1521.7 1130.3,1521.2 C1131.7,1520.7 1132.0,1523.6 1132.1,1524.6 C1132.2,1525.6 1131.9,1526.8 1130.9,1527.3 C1129.8,1527.8 1125.5,1527.7 1125.9,1527.7 C1126.3,1527.6 1132.1,1527.1 1133.4,1527.0 M1144.2,1510.7 C1145.3,1509.9 1149.3,1506.2 1151.3,1505.8 C1153.3,1505.4 1156.0,1507.1 1156.1,1508.6 C1156.3,1510.1 1152.1,1513.5 1152.3,1514.9 C1152.5,1516.3 1156.0,1517.0 1157.3,1517.0 C1158.6,1517.0 1160.6,1512.8 1160.4,1514.9 C1160.1,1517.0 1157.5,1525.9 1156.0,1529.6 C1154.4,1533.3 1152.3,1536.6 1151.0,1537.3 C1149.7,1538.0 1147.4,1535.7 1148.1,1533.8 C1148.7,1531.9 1152.8,1527.9 1154.8,1526.1 C1156.8,1524.3 1159.0,1523.5 1159.8,1523.0 C1160.7,1522.4 1159.3,1523.9 1159.8,1523.0 C1160.4,1522.0 1162.2,1516.8 1163.0,1517.0 C1163.9,1517.2 1163.7,1524.0 1165.0,1524.0 C1166.3,1524.0 1169.2,1518.0 1170.7,1517.0 C1172.2,1516.0 1173.7,1516.7 1174.1,1517.7 C1174.6,1518.7 1172.1,1522.4 1173.2,1523.0 C1174.3,1523.5 1178.9,1521.7 1180.7,1520.8 C1182.5,1520.0 1183.9,1518.7 1183.9,1518.0 C1183.9,1517.4 1181.8,1516.7 1180.5,1517.0 C1179.3,1517.3 1176.9,1518.8 1176.4,1519.8 C1176.0,1520.8 1176.7,1522.6 1177.6,1523.3 C1178.5,1524.0 1180.4,1524.1 1181.9,1524.0 C1183.4,1523.9 1185.9,1522.7 1186.6,1522.6 C1187.4,1522.5 1185.3,1524.2 1186.5,1523.3 C1187.7,1522.4 1192.3,1517.5 1193.9,1517.0 C1195.5,1516.5 1195.8,1519.5 1195.9,1520.5 C1196.1,1521.5 1195.7,1522.8 1194.6,1523.3 C1193.4,1523.8 1188.7,1523.7 1189.1,1523.7 C1189.6,1523.6 1195.9,1523.1 1197.3,1523.0 M1228.5,1507.6 C1228.0,1507.0 1227.3,1504.4 1225.7,1504.0 C1224.0,1503.6 1220.8,1504.1 1218.5,1505.4 C1216.3,1506.8 1213.4,1509.6 1212.3,1511.9 C1211.2,1514.2 1211.1,1517.4 1211.9,1519.1 C1212.8,1520.8 1215.3,1521.9 1217.5,1522.0 C1219.6,1522.1 1223.3,1520.0 1224.7,1519.8 C1226.2,1519.7 1225.0,1521.7 1226.3,1520.9 C1227.6,1520.1 1232.0,1515.7 1232.4,1515.2 C1232.8,1514.6 1228.9,1516.5 1228.5,1517.7 C1228.2,1518.8 1229.2,1521.6 1230.4,1522.0 C1231.6,1522.4 1235.2,1521.0 1235.9,1519.8 C1236.7,1518.6 1235.6,1515.5 1235.1,1514.8 C1234.5,1514.1 1231.7,1515.3 1232.3,1515.5 C1233.0,1515.8 1237.5,1516.2 1239.1,1516.2 C1240.7,1516.3 1241.5,1515.1 1241.8,1515.9 C1242.1,1516.7 1240.5,1521.1 1240.9,1520.9 C1241.3,1520.7 1243.6,1514.9 1244.0,1514.8 C1244.5,1514.7 1243.1,1519.4 1243.6,1520.6 C1244.0,1521.8 1245.6,1522.1 1246.8,1522.0 C1247.9,1521.9 1249.7,1521.0 1250.6,1519.8 C1251.5,1518.6 1252.2,1514.7 1252.3,1514.8 C1252.4,1514.9 1250.9,1519.5 1251.3,1520.6 C1251.7,1521.6 1254.1,1521.2 1254.6,1521.3 C1255.2,1521.4 1253.5,1522.4 1254.6,1521.3 C1255.8,1520.2 1260.2,1515.3 1261.8,1514.8 C1263.3,1514.3 1263.6,1517.3 1263.7,1518.4 C1263.8,1519.5 1263.5,1520.7 1262.4,1521.3 C1261.3,1521.8 1256.7,1521.7 1257.2,1521.6 C1257.6,1521.6 1263.6,1521.0 1265.0,1520.9 C1266.5,1520.8 1264.5,1523.1 1265.9,1520.9 C1267.3,1518.7 1272.5,1507.9 1273.3,1507.6 C1274.1,1507.3 1270.6,1516.7 1270.5,1519.1 C1270.4,1521.5 1271.5,1521.8 1272.6,1522.0 C1273.7,1522.2 1276.4,1520.8 1277.2,1520.6 M1267.1,1513.7 C1269.0,1513.6 1276.5,1513.1 1278.4,1513.0 M1277.1,1520.9 C1278.3,1520.6 1282.6,1519.6 1284.4,1518.8 C1286.1,1517.9 1287.5,1516.5 1287.4,1515.9 C1287.4,1515.2 1285.4,1514.5 1284.2,1514.8 C1283.0,1515.1 1280.7,1516.6 1280.2,1517.7 C1279.8,1518.8 1280.5,1520.6 1281.4,1521.3 C1282.2,1522.0 1284.1,1522.1 1285.5,1522.0 C1287.0,1521.9 1289.3,1520.7 1290.1,1520.6 C1290.8,1520.4 1288.3,1521.8 1290.0,1520.9 C1291.8,1520.0 1299.3,1516.2 1300.5,1515.2 C1301.6,1514.1 1298.5,1514.4 1297.1,1514.8 C1295.7,1515.2 1292.6,1516.5 1291.9,1517.7 C1291.3,1518.8 1292.1,1521.3 1293.4,1521.6 C1294.7,1521.9 1298.3,1520.6 1299.7,1519.5 C1301.1,1518.3 1301.6,1514.7 1301.7,1514.8 C1301.9,1514.9 1300.4,1518.7 1300.5,1519.8 C1300.7,1521.0 1301.8,1521.7 1302.8,1521.9 C1303.8,1522.0 1305.8,1521.1 1306.4,1520.9 C1307.0,1520.8 1305.9,1521.9 1306.4,1520.9 C1306.9,1519.9 1309.0,1514.9 1309.5,1514.8 C1309.9,1514.7 1308.6,1519.4 1309.0,1520.6 C1309.5,1521.8 1311.1,1522.1 1312.2,1522.0 C1313.4,1521.9 1315.1,1521.0 1316.1,1519.8 C1317.0,1518.6 1317.6,1514.7 1317.8,1514.8 C1317.9,1514.9 1316.4,1519.5 1316.8,1520.6 C1317.2,1521.6 1319.6,1521.2 1320.1,1521.3 M1067.2,1553.3 C1066.1,1553.0 1062.8,1551.1 1060.6,1551.2 C1058.3,1551.3 1054.2,1552.8 1053.9,1554.0 C1053.7,1555.2 1059.4,1557.7 1059.1,1558.5 C1058.7,1559.4 1053.7,1558.4 1051.8,1559.2 C1050.0,1560.1 1047.8,1562.3 1047.9,1563.8 C1047.9,1565.3 1049.7,1567.5 1052.1,1568.0 C1054.5,1568.5 1060.4,1566.7 1062.5,1566.6 C1064.5,1566.5 1063.5,1568.2 1064.4,1567.3 C1065.2,1566.4 1067.1,1561.2 1067.6,1561.3 C1068.1,1561.5 1067.0,1567.7 1067.3,1568.0 C1067.6,1568.3 1068.2,1564.3 1069.3,1563.1 C1070.4,1561.9 1072.6,1561.0 1073.8,1561.0 C1074.9,1561.0 1076.1,1561.9 1076.4,1563.1 C1076.6,1564.3 1075.2,1568.0 1075.4,1568.0 C1075.5,1568.0 1076.3,1564.3 1077.4,1563.1 C1078.5,1561.9 1080.7,1561.0 1081.9,1561.0 C1083.0,1561.0 1084.2,1562.0 1084.5,1563.1 C1084.8,1564.1 1083.1,1566.6 1083.6,1567.3 C1084.1,1568.0 1087.0,1567.4 1087.7,1567.3 C1088.4,1567.2 1086.8,1568.0 1087.7,1567.0 C1088.6,1565.9 1092.3,1561.1 1093.0,1561.0 C1093.7,1560.9 1091.8,1565.4 1091.9,1566.6 C1092.0,1567.8 1092.6,1567.9 1093.6,1568.0 C1094.6,1568.1 1097.2,1567.1 1097.9,1567.0 M1095.2,1557.2 l0.6,0.6 M1097.9,1567.0 C1099.9,1565.0 1108.1,1558.0 1110.3,1555.4 C1112.5,1552.8 1111.8,1551.7 1111.2,1551.2 C1110.6,1550.7 1108.0,1551.0 1106.8,1552.6 C1105.7,1554.2 1104.6,1558.5 1104.1,1561.0 C1103.6,1563.5 1102.9,1566.3 1103.9,1567.3 C1104.8,1568.3 1108.8,1567.0 1110.0,1567.0 C1111.2,1566.9 1109.4,1567.3 1111.0,1567.0 C1112.6,1566.6 1117.5,1565.7 1119.6,1564.8 C1121.6,1564.0 1123.2,1562.7 1123.2,1562.0 C1123.1,1561.4 1120.7,1560.7 1119.3,1561.0 C1117.9,1561.3 1115.3,1562.8 1114.7,1563.8 C1114.2,1564.8 1115.0,1566.6 1116.0,1567.3 C1117.1,1568.0 1119.2,1568.1 1120.9,1568.0 C1122.6,1567.9 1125.4,1566.8 1126.3,1566.6 M1146.8,1546.4 C1146.0,1546.1 1143.3,1544.0 1141.8,1544.3 C1140.2,1544.5 1137.7,1546.4 1137.5,1547.9 C1137.2,1549.3 1140.7,1551.1 1140.2,1552.9 C1139.8,1554.7 1135.0,1557.0 1134.7,1558.7 C1134.4,1560.4 1136.2,1562.6 1138.5,1563.0 C1140.7,1563.4 1145.6,1562.3 1147.9,1560.8 C1150.3,1559.4 1152.0,1556.6 1152.7,1554.4 C1153.4,1552.1 1152.3,1546.4 1152.2,1547.2 C1152.0,1547.9 1151.5,1556.2 1151.9,1558.7 C1152.4,1561.1 1154.5,1561.4 1155.0,1561.9 C1155.5,1562.5 1153.2,1562.9 1155.0,1561.9 C1156.8,1561.0 1164.8,1557.2 1166.0,1556.2 C1167.3,1555.1 1164.0,1555.4 1162.5,1555.8 C1161.0,1556.2 1157.7,1557.5 1157.0,1558.7 C1156.4,1559.8 1157.1,1562.3 1158.5,1562.6 C1159.9,1562.9 1163.8,1561.6 1165.3,1560.5 C1166.7,1559.3 1167.2,1555.7 1167.4,1555.8 C1167.5,1555.9 1165.9,1559.7 1166.1,1560.8 C1166.3,1562.0 1167.5,1562.7 1168.5,1562.9 C1169.5,1563.0 1171.6,1562.1 1172.3,1561.9 C1172.9,1561.8 1170.4,1562.9 1172.3,1561.9 C1174.1,1561.0 1182.1,1557.2 1183.3,1556.2 C1184.5,1555.1 1181.2,1555.4 1179.7,1555.8 C1178.2,1556.2 1175.0,1557.5 1174.3,1558.7 C1173.7,1559.8 1174.4,1562.3 1175.8,1562.6 C1177.2,1562.9 1181.1,1561.6 1182.5,1560.5 C1184.0,1559.3 1184.9,1554.3 1184.6,1555.8 C1184.4,1557.3 1182.5,1566.4 1180.9,1569.5 C1179.4,1572.6 1176.9,1574.2 1175.5,1574.5 C1174.1,1574.9 1171.8,1573.0 1172.4,1571.6 C1172.9,1570.3 1176.0,1568.2 1178.7,1566.6 C1181.4,1565.0 1187.0,1562.6 1188.6,1561.9 C1190.3,1561.2 1188.1,1563.2 1188.6,1562.3 C1189.1,1561.3 1191.0,1556.0 1191.5,1556.2 C1191.9,1556.3 1190.9,1562.7 1191.2,1563.0 C1191.4,1563.3 1192.0,1559.2 1193.0,1558.0 C1194.0,1556.8 1195.9,1555.8 1197.0,1555.8 C1198.1,1555.8 1199.1,1556.9 1199.3,1558.0 C1199.6,1559.0 1198.1,1561.6 1198.6,1562.3 C1199.1,1563.0 1201.6,1562.3 1202.2,1562.3 C1202.8,1562.2 1200.4,1562.9 1202.3,1561.9 C1204.1,1560.9 1212.1,1557.2 1213.3,1556.2 C1214.5,1555.1 1211.2,1555.4 1209.7,1555.8 C1208.2,1556.2 1205.0,1557.5 1204.3,1558.7 C1203.7,1559.8 1204.4,1562.3 1205.8,1562.6 C1207.2,1562.9 1211.1,1561.6 1212.5,1560.5 C1214.0,1559.3 1214.5,1555.7 1214.6,1555.8 C1214.8,1555.9 1213.2,1559.7 1213.4,1560.8 C1213.6,1562.0 1214.7,1562.7 1215.8,1562.9 C1216.8,1563.0 1218.9,1562.0 1219.6,1561.9 C1220.2,1561.8 1219.0,1563.2 1219.5,1562.3 C1220.0,1561.3 1222.0,1556.0 1222.4,1556.2 C1222.8,1556.3 1221.8,1562.7 1222.1,1563.0 C1222.3,1563.3 1222.9,1559.2 1223.9,1558.0 C1224.9,1556.8 1226.8,1555.8 1227.9,1555.8 C1229.0,1555.8 1230.0,1556.9 1230.3,1558.0 C1230.5,1559.0 1229.0,1561.6 1229.5,1562.3 C1230.0,1563.0 1232.5,1562.3 1233.1,1562.3 M963.2,1586.4 C963.6,1585.9 965.5,1581.4 965.3,1583.7 C965.0,1585.9 962.4,1597.3 961.8,1600.0 M964.4,1584.4 C965.8,1584.5 971.8,1584.0 973.1,1585.0 C974.4,1586.1 973.7,1589.3 972.2,1590.5 C970.6,1591.6 963.8,1591.4 963.9,1591.8 C964.1,1592.3 971.9,1592.1 973.3,1593.2 C974.7,1594.3 974.2,1597.5 972.4,1598.6 C970.6,1599.8 964.2,1599.8 962.6,1600.0 M974.0,1599.0 C974.4,1598.0 976.4,1593.3 976.8,1593.2 C977.2,1593.1 976.0,1597.5 976.4,1598.6 C976.9,1599.8 978.3,1600.1 979.4,1600.0 C980.5,1599.9 982.1,1599.1 982.9,1598.0 C983.8,1596.8 984.7,1591.8 984.5,1593.2 C984.3,1594.6 982.7,1603.2 981.6,1606.1 C980.4,1609.1 978.6,1610.7 977.6,1610.9 C976.6,1611.1 974.7,1609.4 975.8,1607.5 C976.9,1605.6 982.9,1600.7 984.3,1599.3 M990.0,1593.9 l0.6,0.6 M988.3,1599.7 l0.6,0.6 M1017.7,1587.7 C1017.0,1587.3 1015.3,1585.0 1013.5,1585.0 C1011.7,1585.0 1007.9,1586.5 1006.9,1587.7 C1005.9,1589.0 1006.6,1591.1 1007.7,1592.5 C1008.8,1593.8 1012.5,1594.6 1013.3,1595.9 C1014.1,1597.2 1013.8,1599.3 1012.6,1600.3 C1011.4,1601.3 1008.2,1602.1 1006.2,1602.0 C1004.1,1601.9 1000.3,1600.2 1000.3,1600.0 C1000.4,1599.7 1004.1,1600.5 1006.4,1600.6 C1008.7,1600.8 1012.7,1600.9 1014.1,1601.0 C1015.5,1601.0 1013.6,1603.1 1014.8,1601.0 C1016.1,1598.9 1020.8,1588.7 1021.5,1588.4 C1022.1,1588.1 1019.1,1597.0 1019.0,1599.3 C1018.9,1601.5 1019.8,1601.8 1020.8,1602.0 C1021.8,1602.2 1024.2,1600.9 1024.9,1600.6 M1015.9,1594.2 C1017.6,1594.1 1024.4,1593.6 1026.1,1593.5 M1024.9,1601.0 C1025.9,1600.6 1029.8,1599.7 1031.4,1598.9 C1032.9,1598.1 1034.1,1596.8 1034.1,1596.2 C1034.1,1595.6 1032.3,1594.9 1031.2,1595.2 C1030.1,1595.5 1028.1,1596.9 1027.7,1597.9 C1027.2,1598.9 1027.9,1600.6 1028.7,1601.3 C1029.5,1602.0 1031.1,1602.1 1032.4,1602.0 C1033.7,1601.9 1035.8,1600.8 1036.5,1600.6 C1037.2,1600.5 1036.0,1601.9 1036.4,1601.0 C1036.9,1600.1 1038.5,1595.0 1039.2,1595.2 C1040.0,1595.4 1039.8,1602.0 1040.9,1602.0 C1042.0,1602.0 1044.5,1596.2 1045.9,1595.2 C1047.2,1594.2 1048.5,1594.9 1048.8,1595.9 C1049.2,1596.8 1047.1,1600.5 1048.0,1601.0 C1049.0,1601.5 1053.0,1599.7 1054.5,1598.9 C1056.1,1598.1 1057.3,1596.8 1057.3,1596.2 C1057.2,1595.6 1055.4,1594.9 1054.3,1595.2 C1053.3,1595.5 1051.2,1596.9 1050.8,1597.9 C1050.4,1598.9 1051.0,1600.6 1051.8,1601.3 C1052.6,1602.0 1054.3,1602.1 1055.6,1602.0 C1056.9,1601.9 1059.0,1600.8 1059.7,1600.6 C1060.3,1600.5 1059.2,1602.2 1059.5,1601.3 C1059.9,1600.5 1061.6,1595.4 1062.0,1595.5 C1062.4,1595.7 1061.5,1601.7 1061.8,1602.0 C1062.0,1602.3 1062.5,1598.4 1063.3,1597.2 C1064.1,1596.1 1065.8,1595.2 1066.7,1595.2 C1067.6,1595.2 1068.5,1596.2 1068.7,1597.2 C1068.9,1598.3 1067.6,1600.6 1068.0,1601.3 C1068.4,1602.0 1070.6,1601.3 1071.1,1601.3 C1071.6,1601.3 1070.1,1602.3 1071.1,1601.3 C1072.2,1600.3 1076.1,1595.7 1077.5,1595.2 C1078.9,1594.7 1079.2,1597.6 1079.3,1598.6 C1079.4,1599.6 1079.1,1600.8 1078.1,1601.3 C1077.1,1601.8 1073.0,1601.7 1073.4,1601.7 C1073.8,1601.6 1079.3,1601.1 1080.4,1601.0 M1084.3,1601.0 C1084.3,1601.2 1084.8,1601.2 1084.1,1602.0 C1083.5,1602.8 1081.0,1605.4 1080.4,1606.1 M1108.2,1581.4 C1107.4,1584.0 1105.2,1594.6 1103.8,1597.0 C1102.4,1599.4 1099.6,1595.7 1099.9,1595.6 C1100.2,1595.6 1102.8,1597.1 1105.5,1596.7 C1108.3,1596.2 1114.0,1594.8 1116.2,1592.9 C1118.3,1591.1 1119.2,1587.5 1118.3,1585.4 C1117.4,1583.4 1113.8,1581.0 1110.8,1580.7 C1107.8,1580.3 1099.2,1580.9 1100.3,1583.4 C1101.4,1586.0 1112.8,1594.8 1117.3,1596.0 C1121.8,1597.2 1126.2,1591.5 1127.4,1590.5 C1128.5,1589.6 1125.5,1589.8 1124.1,1590.2 C1122.7,1590.6 1119.8,1591.8 1119.2,1592.9 C1118.6,1594.0 1119.3,1596.4 1120.5,1596.7 C1121.8,1596.9 1125.3,1595.7 1126.7,1594.6 C1128.0,1593.5 1128.5,1590.1 1128.6,1590.2 C1128.7,1590.3 1127.3,1593.8 1127.5,1595.0 C1127.6,1596.1 1128.7,1596.7 1129.6,1596.9 C1130.6,1597.0 1132.5,1596.1 1133.1,1596.0 C1133.7,1595.8 1132.6,1596.9 1133.1,1596.0 C1133.6,1595.0 1135.3,1590.0 1136.1,1590.2 C1136.9,1590.4 1136.7,1597.0 1137.9,1597.0 C1139.1,1597.0 1141.8,1591.2 1143.2,1590.2 C1144.7,1589.2 1146.1,1589.9 1146.4,1590.9 C1146.8,1591.8 1145.0,1596.1 1145.6,1596.0 C1146.1,1595.9 1149.3,1590.3 1149.9,1590.2 C1150.4,1590.1 1148.9,1594.5 1149.0,1595.6 C1149.0,1596.8 1149.6,1596.9 1150.4,1597.0 C1151.2,1597.1 1153.3,1596.2 1153.9,1596.0 M1151.7,1586.5 l0.6,0.6 M1153.8,1596.3 C1155.0,1595.3 1159.2,1590.7 1160.7,1590.2 C1162.2,1589.7 1162.5,1592.6 1162.6,1593.6 C1162.7,1594.6 1162.4,1595.8 1161.3,1596.3 C1160.3,1596.8 1155.8,1596.7 1156.3,1596.7 C1156.7,1596.6 1162.6,1596.1 1163.9,1596.0 M1168.0,1596.0 C1168.0,1596.2 1168.5,1596.2 1167.8,1597.0 C1167.1,1597.8 1164.5,1600.4 1163.8,1601.1 M1184.1,1586.3 C1184.9,1583.6 1188.1,1570.3 1189.1,1570.2 C1190.0,1570.1 1188.6,1585.6 1189.8,1585.6 C1191.0,1585.6 1195.2,1570.1 1196.2,1570.2 C1197.3,1570.3 1195.6,1583.7 1196.1,1586.3 C1196.6,1588.9 1198.7,1585.7 1199.4,1585.6 C1200.0,1585.5 1199.3,1586.9 1200.1,1586.0 C1200.9,1585.0 1203.7,1580.1 1204.3,1580.0 C1204.8,1579.9 1203.3,1584.4 1203.4,1585.6 C1203.4,1586.8 1203.9,1586.9 1204.7,1587.0 C1205.5,1587.1 1207.5,1586.1 1208.1,1586.0 M1206.0,1576.2 l0.6,0.6 M1208.1,1586.0 C1209.7,1584.0 1216.2,1577.0 1217.9,1574.4 C1219.6,1571.8 1219.0,1570.7 1218.6,1570.2 C1218.1,1569.7 1216.1,1570.0 1215.2,1571.6 C1214.2,1573.2 1213.4,1577.5 1213.0,1580.0 C1212.6,1582.5 1212.0,1585.3 1212.8,1586.3 C1213.6,1587.3 1216.7,1586.0 1217.7,1586.0 C1218.6,1585.9 1216.7,1587.9 1218.5,1586.0 C1220.2,1584.0 1226.5,1577.0 1228.3,1574.4 C1230.0,1571.8 1229.4,1570.7 1228.9,1570.2 C1228.5,1569.7 1226.4,1570.0 1225.5,1571.6 C1224.6,1573.2 1223.8,1577.5 1223.4,1580.0 C1223.0,1582.5 1222.4,1585.3 1223.2,1586.3 C1224.0,1587.3 1227.1,1586.0 1228.0,1586.0 C1229.0,1585.9 1227.6,1586.3 1228.8,1586.0 C1230.1,1585.6 1233.9,1584.7 1235.5,1583.8 C1237.1,1583.0 1238.4,1581.7 1238.4,1581.0 C1238.3,1580.4 1236.5,1579.7 1235.3,1580.0 C1234.2,1580.3 1232.1,1581.8 1231.7,1582.8 C1231.3,1583.8 1231.9,1585.6 1232.7,1586.3 C1233.6,1587.0 1235.3,1587.1 1236.6,1587.0 C1238.0,1586.9 1240.1,1585.7 1240.8,1585.6 C1241.5,1585.5 1240.2,1587.1 1240.7,1586.3 C1241.2,1585.5 1243.1,1581.5 1244.0,1580.7 C1244.9,1579.9 1245.4,1581.9 1246.2,1581.8 C1247.0,1581.6 1248.5,1579.4 1248.9,1580.0 C1249.3,1580.6 1248.3,1584.5 1248.8,1585.6 C1249.3,1586.6 1251.4,1586.2 1251.9,1586.3 M1268.8,1575.1 C1268.4,1577.1 1266.6,1585.0 1266.1,1587.0 M1262.5,1580.0 C1264.5,1579.9 1272.5,1579.4 1274.5,1579.3 M1284.6,1586.3 C1285.4,1583.6 1288.6,1570.3 1289.5,1570.2 C1290.5,1570.1 1289.1,1585.6 1290.3,1585.6 C1291.5,1585.6 1295.7,1570.1 1296.7,1570.2 C1297.8,1570.3 1296.0,1583.7 1296.5,1586.3 C1297.1,1588.9 1299.2,1585.7 1299.8,1585.6 C1300.5,1585.5 1299.5,1586.8 1300.6,1586.0 C1301.6,1585.1 1305.9,1580.9 1306.2,1580.3 C1306.6,1579.8 1303.0,1581.7 1302.7,1582.8 C1302.4,1583.9 1303.3,1586.7 1304.4,1587.0 C1305.5,1587.3 1308.8,1586.1 1309.5,1584.9 C1310.2,1583.7 1309.3,1580.7 1308.7,1580.0 C1308.1,1579.3 1305.6,1580.5 1306.2,1580.7 C1306.8,1580.9 1311.0,1581.3 1312.5,1581.4 C1313.9,1581.5 1314.6,1580.2 1314.9,1581.0 C1315.2,1581.9 1313.1,1586.5 1314.1,1586.3 C1315.0,1586.1 1319.3,1580.5 1320.7,1580.0 C1322.1,1579.5 1322.4,1582.5 1322.5,1583.5 C1322.6,1584.5 1322.3,1585.8 1321.2,1586.3 C1320.2,1586.8 1316.0,1586.7 1316.4,1586.7 C1316.8,1586.6 1322.4,1586.0 1323.7,1586.0 C1325.0,1585.9 1322.8,1588.2 1324.4,1586.3 C1326.1,1584.4 1331.9,1577.1 1333.5,1574.4 C1335.1,1571.7 1334.6,1570.7 1334.2,1570.2 C1333.7,1569.7 1332.0,1568.8 1330.8,1571.6 C1329.5,1574.4 1327.0,1585.2 1326.7,1587.0 C1326.4,1588.8 1328.1,1583.3 1329.1,1582.1 C1330.1,1580.9 1331.7,1580.0 1332.6,1580.0 C1333.5,1580.0 1334.4,1581.0 1334.7,1582.1 C1334.9,1583.1 1333.6,1585.6 1334.0,1586.3 C1334.4,1587.0 1336.5,1586.4 1337.2,1586.3 C1337.9,1586.2 1336.8,1586.4 1338.0,1586.0 C1339.3,1585.5 1343.2,1584.7 1344.8,1583.8 C1346.4,1583.0 1347.6,1581.7 1347.6,1581.0 C1347.6,1580.4 1345.7,1579.7 1344.6,1580.0 C1343.5,1580.3 1341.4,1581.8 1340.9,1582.8 C1340.5,1583.8 1341.2,1585.6 1342.0,1586.3 C1342.8,1587.0 1344.5,1587.1 1345.9,1587.0 C1347.2,1586.9 1349.4,1585.7 1350.1,1585.6 C1350.7,1585.5 1349.4,1587.1 1349.9,1586.3 C1350.5,1585.5 1352.3,1581.5 1353.2,1580.7 C1354.2,1579.9 1354.6,1581.9 1355.5,1581.8 C1356.3,1581.6 1357.7,1579.4 1358.1,1580.0 C1358.6,1580.6 1357.5,1584.5 1358.0,1585.6 C1358.5,1586.6 1360.6,1586.2 1361.1,1586.3 M1122.6,1606.6 C1121.5,1606.3 1118.8,1604.1 1116.5,1604.8 C1114.2,1605.5 1110.0,1608.6 1108.9,1610.8 C1107.9,1613.0 1108.3,1617.6 1110.0,1618.0 C1111.7,1618.4 1116.9,1615.4 1118.9,1613.2 C1120.9,1611.0 1122.1,1604.3 1122.1,1604.8 C1122.1,1605.3 1119.2,1614.1 1119.2,1616.2 C1119.2,1618.3 1121.5,1617.2 1122.1,1617.4 C1122.8,1617.6 1121.7,1619.0 1123.0,1617.1 C1124.3,1615.2 1129.2,1606.2 1129.9,1606.0 C1130.6,1605.8 1127.4,1613.6 1127.3,1615.6 C1127.2,1617.6 1128.2,1617.8 1129.2,1618.0 C1130.3,1618.2 1132.8,1617.0 1133.5,1616.8 M1124.1,1611.1 C1125.9,1611.0 1132.9,1610.6 1134.7,1610.5 M1133.4,1617.1 C1134.6,1615.2 1139.6,1606.2 1140.3,1606.0 C1141.0,1605.8 1137.8,1613.6 1137.7,1615.6 C1137.6,1617.6 1138.6,1617.8 1139.7,1618.0 C1140.7,1618.2 1143.2,1617.0 1143.9,1616.8 M1134.5,1611.1 C1136.3,1611.0 1143.3,1610.6 1145.1,1610.5 M1143.8,1617.1 C1144.8,1616.3 1149.2,1612.8 1149.5,1612.3 C1149.9,1611.8 1146.3,1613.5 1145.9,1614.4 C1145.6,1615.4 1146.5,1617.7 1147.7,1618.0 C1148.8,1618.3 1152.1,1617.2 1152.8,1616.2 C1153.5,1615.2 1152.6,1612.6 1152.0,1612.0 C1151.4,1611.4 1148.9,1612.4 1149.5,1612.6 C1150.1,1612.8 1154.3,1613.2 1155.8,1613.2 C1157.2,1613.2 1158.0,1612.2 1158.2,1612.9 C1158.5,1613.6 1157.0,1617.5 1157.4,1617.4 C1157.8,1617.4 1159.8,1613.2 1160.7,1612.6 C1161.6,1611.9 1162.1,1613.6 1162.9,1613.5 C1163.8,1613.4 1165.2,1611.5 1165.6,1612.0 C1166.1,1612.5 1165.0,1615.9 1165.5,1616.8 C1166.0,1617.7 1168.1,1617.3 1168.6,1617.4 C1169.1,1617.5 1168.2,1618.2 1168.6,1617.4 C1169.1,1616.6 1170.8,1612.2 1171.2,1612.3 C1171.6,1612.4 1170.7,1617.8 1170.9,1618.0 C1171.1,1618.2 1171.7,1614.8 1172.5,1613.8 C1173.4,1612.8 1175.1,1612.0 1176.0,1612.0 C1177.0,1612.0 1177.9,1612.9 1178.1,1613.8 C1178.3,1614.7 1177.0,1616.8 1177.4,1617.4 C1177.9,1618.0 1180.1,1617.5 1180.6,1617.4 C1181.2,1617.4 1179.6,1617.4 1180.7,1617.1 C1181.8,1616.8 1185.9,1616.0 1187.5,1615.3 C1189.1,1614.6 1190.3,1613.5 1190.3,1612.9 C1190.3,1612.4 1188.4,1611.8 1187.3,1612.0 C1186.2,1612.2 1184.0,1613.5 1183.6,1614.4 C1183.2,1615.3 1183.8,1616.8 1184.7,1617.4 C1185.5,1618.0 1187.2,1618.1 1188.6,1618.0 C1189.9,1617.9 1192.1,1617.0 1192.8,1616.8 C1193.5,1616.6 1192.3,1617.9 1192.7,1617.1 C1193.2,1616.3 1195.2,1612.0 1195.6,1612.0 C1196.0,1612.0 1194.8,1615.8 1195.2,1616.8 C1195.6,1617.8 1197.1,1618.1 1198.2,1618.0 C1199.3,1617.9 1200.9,1617.2 1201.7,1616.2 C1202.6,1615.2 1203.5,1610.8 1203.3,1612.0 C1203.1,1613.2 1201.5,1620.8 1200.4,1623.4 C1199.2,1626.0 1197.3,1627.4 1196.4,1627.6 C1195.4,1627.8 1193.4,1626.3 1194.5,1624.6 C1195.6,1622.9 1201.4,1618.6 1203.1,1617.4 C1204.8,1616.2 1203.3,1618.3 1204.7,1617.4 C1206.1,1616.5 1209.9,1612.4 1211.3,1612.0 C1212.7,1611.6 1213.1,1614.1 1213.2,1615.0 C1213.3,1615.9 1212.9,1617.0 1211.9,1617.4 C1210.9,1617.9 1206.6,1617.8 1207.0,1617.7 C1207.5,1617.7 1213.1,1617.2 1214.4,1617.1" fill="none" stroke="#111" stroke-width="2" stroke-linecap="round" stroke-linejoin="round"/>
<circle cx="1094.2" cy="1313.9" r="0.9" fill="#555" opacity="0.36"/><circle cx="939.1" cy="1599.7" r="0.5" fill="#555" opacity="0.76"/><circle cx="591.6" cy="927.1" r="0.6" fill="#555" opacity="0.52"/><circle cx="580.5" cy="615.6" r="0.6" fill="#555" opacity="0.53"/><circle cx="659.5" cy="1492.1" r="0.8" fill="#555" opacity="0.42"/><circle cx="1266.0" cy="458.8" r="0.9" fill="#555" opacity="0.55"/><circle cx="610.4" cy="1640.8" r="0.5" fill="#555" opacity="0.44"/><circle cx="692.5" cy="1655.1" r="0.6" fill="#555" opacity="0.48"/><circle cx="1428.0" cy="1026.6" r="0.6" fill="#555" opacity="0.43"/><circle cx="1435.0" cy="541.2" r="0.8" fill="#555" opacity="0.48"/><circle cx="836.1" cy="497.3" r="0.6" fill="#555" opacity="0.47"/><circle cx="807.2" cy="1421.1" r="0.9" fill="#555" opacity="0.35"/><circle cx="1148.4" cy="741.1" r="0.7" fill="#555" opacity="0.51"/><circle cx="781.8" cy="1249.5" r="0.6" fill="#555" opacity="0.57"/><circle cx="1174.8" cy="342.8" r="0.5" fill="#555" opacity="0.78"/><circle cx="832.6" cy="835.3" r="0.9" fill="#555" opacity="0.70"/><circle cx="841.1" cy="1082.3" r="0.5" fill="#555" opacity="0.55"/><circle cx="1177.8" cy="1146.4" r="0.6" fill="#555" opacity="0.40"/><circle cx="722.6" cy="1424.0" r="0.8" fill="#555" opacity="0.50"/><circle cx="829.8" cy="1006.0" r="0.8" fill="#555" opacity="0.40"/><circle cx="1217.9" cy="1392.5" r="0.7" fill="#555" opacity="0.37"/><circle cx="1412.6" cy="391.3" r="0.7" fill="#555" opacity="0.58"/><circle cx="837.5" cy="472.1" r="0.7" fill="#555" opacity="0.77"/><circle cx="1017.5" cy="705.1" r="0.7" fill="#555" opacity="0.49"/><circle cx="1267.6" cy="1150.8" r="0.7" fill="#555" opacity="0.80"/><circle cx="639.3" cy="330.8" r="0.9" fill="#555" opacity="0.59"/><circle cx="880.2" cy="598.5" r="0.9" fill="#555" opacity="0.50"/><circle cx="726.7" cy="1185.1" r="0.6" fill="#555" opacity="0.38"/><circle cx="1383.2" cy="308.4" r="0.8" fill="#555" opacity="0.50"/><circle cx="684.2" cy="1653.5" r="0.9" fill="#555" opacity="0.78"/><circle cx="1101.6" cy="1379.4" r="0.5" fill="#555" opacity="0.43"/><circle cx="847.8" cy="345.3" r="0.8" fill="#555" opacity="0.48"/><circle cx="926.8" cy="1679.0" r="0.6" fill="#555" opacity="0.79"/><circle cx="927.2" cy="954.2" r="0.7" fill="#555" opacity="0.57"/><circle cx="766.9" cy="834.6" r="0.6" fill="#555" opacity="0.40"/><circle cx="1290.5" cy="1016.0" r="0.6" fill="#555" opacity="0.63"/><circle cx="972.3" cy="742.0" r="0.5" fill="#555" opacity="0.57"/><circle cx="988.0" cy="1039.2" r="0.9" fill="#555" opacity="0.51"/><circle cx="1255.0" cy="1360.8" r="0.9" fill="#555" opacity="0.65"/><circle cx="1229.0" cy="777.3" r="0.7" fill="#555" opacity="0.73"/><circle cx="741.2" cy="1653.0" r="0.7" fill="#555" opacity="0.78"/><circle cx="815.3" cy="515.3" r="0.5" fill="#555" opacity="0.56"/><circle cx="1242.9" cy="724.1" r="0.7" fill="#555" opacity="0.56"/><circle cx="1285.2" cy="1180.1" r="0.7" fill="#555" opacity="0.51"/><circle cx="1115.0" cy="1308.2" r="0.8" fill="#555" opacity="0.51"/><circle cx="1311.1" cy="1495.5" r="0.8" fill="#555" opacity="0.79"/><circle cx="1423.1" cy="996.7" r="0.9" fill="#555" opacity="0.79"/><circle cx="675.9" cy="775.4" r="0.8" fill="#555" opacity="0.48"/><circle cx="557.7" cy="1213.3" r="0.8" fill="#555" opacity="0.43"/><circle cx="1249.4" cy="1085.6" r="0.8" fill="#555" opacity="0.49"/><circle cx="1025.5" cy="1491.6" r="0.7" fill="#555" opacity="0.67"/><circle cx="507.2" cy="488.9" r="0.8" fill="#555" opacity="0.63"/><circle cx="658.2" cy="1338.3" r="0.6" fill="#555" opacity="0.63"/><circle cx="521.3" cy="930.7" r="0.6" fill="#555" opacity="0.42"/><circle cx="1359.3" cy="419.2" r="0.6" fill="#555" opacity="0.57"/><circle cx="1020.6" cy="851.2" r="0.7" fill="#555" opacity="0.52"/><circle cx="1083.2" cy="1098.9" r="0.6" fill="#555" opacity="0.67"/><circle cx="848.8" cy="759.0" r="0.7" fill="#555" opacity="0.74"/><circle cx="1334.3" cy="1238.8" r="0.9" fill="#555" opacity="0.52"/><circle cx="515.6" cy="1132.0" r="0.5" fill="#555" opacity="0.48"/><circle cx="985.5" cy="1610.7" r="0.7" fill="#555" opacity="0.78"/><circle cx="1287.1" cy="856.3" r="0.9" fill="#555" opacity="0.64"/><circle cx="844.3" cy="463.5" r="0.9" fill="#555" opacity="0.52"/><circle cx="950.4" cy="544.4" r="0.6" fill="#555" opacity="0.62"/><circle cx="826.2" cy="1528.9" r="0.5" fill="#555" opacity="0.52"/><circle cx="801.5" cy="1561.6" r="0.9" fill="#555" opacity="0.41"/><circle cx="1100.6" cy="1525.8" r="0.8" fill="#555" opacity="0.54"/><circle cx="1443.0" cy="961.7" r="0.8" fill="#555" opacity="0.79"/><circle cx="854.5" cy="1624.9" r="0.6" fill="#555" opacity="0.62"/><circle cx="736.2" cy="1653.0" r="0.8" fill="#555" opacity="0.46"/><circle cx="499.4" cy="1602.3" r="0.7" fill="#555" opacity="0.57"/><circle cx="762.4" cy="938.3" r="0.5" fill="#555" opacity="0.65"/><circle cx="1427.4" cy="610.1" r="0.5" fill="#555" opacity="0.70"/><circle cx="1295.2" cy="280.7" r="0.9" fill="#555" opacity="0.60"/><circle cx="720.1" cy="934.5" r="0.5" fill="#555" opacity="0.46"/><circle cx="743.9" cy="481.5" r="0.7" fill="#555" opacity="0.48"/><circle cx="1079.5" cy="935.0" r="0.9" fill="#555" opacity="0.75"/><circle cx="1362.5" cy="284.9" r="0.6" fill="#555" opacity="0.49"/><circle cx="1006.0" cy="738.6" r="0.7" fill="#555" opacity="0.68"/><circle cx="506.2" cy="758.0" r="0.9" fill="#555" opacity="0.41"/><circle cx="482.8" cy="1046.5" r="0.5" fill="#555" opacity="0.75"/><circle cx="1018.0" cy="282.6" r="0.8" fill="#555" opacity="0.62"/><circle cx="1159.4" cy="1613.7" r="0.8" fill="#555" opacity="0.74"/><circle cx="1309.4" cy="936.6" r="0.6" fill="#555" opacity="0.75"/><circle cx="938.6" cy="1337.1" r="0.7" fill="#555" opacity="0.73"/><circle cx="1164.9" cy="875.7" r="0.7" fill="#555" opacity="0.64"/><circle cx="945.8" cy="702.9" r="0.6" fill="#555" opacity="0.57"/><circle cx="1021.4" cy="967.7" r="0.7" fill="#555" opacity="0.59"/><circle cx="899.6" cy="1029.7" r="0.5" fill="#555" opacity="0.38"/><circle cx="706.8" cy="1424.2" r="0.5" fill="#555" opacity="0.65"/><circle cx="505.2" cy="1286.6" r="0.5" fill="#555" opacity="0.80"/><circle cx="1171.4" cy="331.3" r="0.5" fill="#555" opacity="0.45"/><circle cx="1116.7" cy="1612.3" r="0.6" fill="#555" opacity="0.80"/><circle cx="1175.9" cy="883.0" r="0.6" fill="#555" opacity="0.62"/><circle cx="888.1" cy="490.6" r="0.9" fill="#555" opacity="0.45"/><circle cx="1027.7" cy="1198.2" r="0.5" fill="#555" opacity="0.48"/><circle cx="1043.1" cy="429.8" r="0.8" fill="#555" opacity="0.75"/><circle cx="612.5" cy="874.1" r="0.7" fill="#555" opacity="0.66"/><circle cx="962.6" cy="763.1" r="0.7" fill="#555" opacity="0.76"/><circle cx="616.3" cy="679.9" r="0.9" fill="#555" opacity="0.63"/><circle cx="978.8" cy="1553.0" r="0.9" fill="#555" opacity="0.60"/><circle cx="697.5" cy="351.6" r="0.6" fill="#555" opacity="0.46"/><circle cx="1220.1" cy="995.1" r="0.6" fill="#555" opacity="0.71"/><circle cx="1331.4" cy="904.8" r="0.8" fill="#555" opacity="0.43"/><circle cx="1183.3" cy="1190.8" r="0.5" fill="#555" opacity="0.61"/><circle cx="515.4" cy="1486.3" r="0.9" fill="#555" opacity="0.62"/><circle cx="715.2" cy="1505.5" r="0.8" fill="#555" opacity="0.78"/><circle cx="586.1" cy="1014.5" r="0.9" fill="#555" opacity="0.68"/><circle cx="532.9" cy="475.8" r="0.8" fill="#555" opacity="0.66"/><circle cx="700.0" cy="426.6" r="0.8" fill="#555" opacity="0.72"/><circle cx="617.8" cy="1148.0" r="0.7" fill="#555" opacity="0.73"/><circle cx="765.7" cy="1581.5" r="0.7" fill="#555" opacity="0.71"/><circle cx="852.8" cy="1286.8" r="0.7" fill="#555" opacity="0.64"/><circle cx="1273.2" cy="876.6" r="0.7" fill="#555" opacity="0.58"/><circle cx="1064.3" cy="1074.9" r="0.6" fill="#555" opacity="0.53"/><circle cx="575.6" cy="309.0" r="0.6" fill="#555" opacity="0.44"/><circle cx="963.2" cy="1590.8" r="0.7" fill="#555" opacity="0.35"/><circle cx="943.6" cy="1523.7" r="0.9" fill="#555" opacity="0.76"/><circle cx="798.7" cy="917.0" r="0.6" fill="#555" opacity="0.42"/><circle cx="636.8" cy="793.2" r="0.8" fill="#555" opacity="0.74"/><circle cx="943.1" cy="1044.8" r="0.5" fill="#555" opacity="0.47"/><circle cx="639.3" cy="669.0" r="0.6" fill="#555" opacity="0.36"/><circle cx="1363.8" cy="750.2" r="0.7" fill="#555" opacity="0.49"/><circle cx="538.1" cy="292.8" r="0.8" fill="#555" opacity="0.56"/><circle cx="1412.2" cy="429.2" r="0.7" fill="#555" opacity="0.48"/><circle cx="1145.0" cy="1296.1" r="0.6" fill="#555" opacity="0.37"/><circle cx="1184.8" cy="1077.0" r="0.5" fill="#555" opacity="0.63"/><circle cx="1378.9" cy="1264.1" r="0.7" fill="#555" opacity="0.43"/><circle cx="836.4" cy="356.8" r="0.8" fill="#555" opacity="0.42"/><circle cx="717.2" cy="1215.2" r="0.5" fill="#555" opacity="0.64"/><circle cx="904.6" cy="1645.2" r="0.5" fill="#555" opacity="0.56"/><circle cx="926.7" cy="1228.1" r="0.6" fill="#555" opacity="0.37"/><circle cx="1020.7" cy="1665.3" r="0.9" fill="#555" opacity="0.60"/><circle cx="1406.4" cy="1278.0" r="0.6" fill="#555" opacity="0.75"/><circle cx="964.3" cy="1588.9" r="0.5" fill="#555" opacity="0.66"/><circle cx="1115.2" cy="967.3" r="0.5" fill="#555" opacity="0.37"/><circle cx="1301.8" cy="894.3" r="0.5" fill="#555" opacity="0.74"/><circle cx="1416.8" cy="537.8" r="0.9" fill="#555" opacity="0.64"/><circle cx="665.4" cy="593.4" r="0.7" fill="#555" opacity="0.71"/><circle cx="565.6" cy="1659.0" r="0.6" fill="#555" opacity="0.62"/><circle cx="1324.8" cy="566.0" r="0.5" fill="#555" opacity="0.55"/><circle cx="832.6" cy="862.1" r="0.8" fill="#555" opacity="0.59"/><circle cx="610.9" cy="279.5" r="0.7" fill="#555" opacity="0.66"/><circle cx="1359.0" cy="1679.5" r="0.9" fill="#555" opacity="0.40"/><circle cx="787.4" cy="386.3" r="0.7" fill="#555" opacity="0.72"/><circle cx="788.5" cy="446.1" r="0.5" fill="#555" opacity="0.56"/><circle cx="1167.4" cy="1394.7" r="0.9" fill="#555" opacity="0.65"/><circle cx="752.0" cy="960.6" r="0.6" fill="#555" opacity="0.37"/><circle cx="677.1" cy="667.6" r="0.7" fill="#555" opacity="0.75"/><circle cx="550.9" cy="1353.1" r="0.8" fill="#555" opacity="0.69"/><circle cx="1028.3" cy="1532.7" r="0.6" fill="#555" opacity="0.61"/><circle cx="916.0" cy="1420.2" r="0.5" fill="#555" opacity="0.68"/><circle cx="1171.4" cy="641.6" r="0.8" fill="#555" opacity="0.60"/><circle cx="796.8" cy="696.5" r="0.6" fill="#555" opacity="0.47"/><circle cx="1146.4" cy="666.9" r="0.5" fill="#555" opacity="0.59"/><circle cx="1208.6" cy="301.6" r="0.5" fill="#555" opacity="0.37"/><circle cx="608.3" cy="768.4" r="0.7" fill="#555" opacity="0.78"/><circle cx="1083.4" cy="589.7" r="0.8" fill="#555" opacity="0.41"/><circle cx="678.4" cy="770.0" r="0.6" fill="#555" opacity="0.61"/><circle cx="1295.3" cy="1292.6" r="0.5" fill="#555" opacity="0.47"/><circle cx="1077.4" cy="1156.1" r="0.6" fill="#555" opacity="0.55"/><circle cx="1405.4" cy="1389.0" r="0.5" fill="#555" opacity="0.50"/><circle cx="919.6" cy="585.7" r="0.9" fill="#555" opacity="0.55"/><circle cx="915.2" cy="1350.3" r="0.6" fill="#555" opacity="0.59"/><circle cx="1436.1" cy="1107.1" r="0.5" fill="#555" opacity="0.41"/><circle cx="1318.6" cy="1234.0" r="0.6" fill="#555" opacity="0.79"/><circle cx="512.4" cy="1080.2" r="0.8" fill="#555" opacity="0.67"/><circle cx="829.3" cy="920.2" r="0.6" fill="#555" opacity="0.47"/><circle cx="678.3" cy="1059.5" r="0.7" fill="#555" opacity="0.69"/><circle cx="1254.3" cy="781.9" r="0.6" fill="#555" opacity="0.72"/><circle cx="1133.9" cy="1550.1" r="0.5" fill="#555" opacity="0.63"/><circle cx="875.2" cy="464.9" r="0.6" fill="#555" opacity="0.57"/><circle cx="517.2" cy="502.4" r="0.5" fill="#555" opacity="0.69"/><circle cx="757.5" cy="1567.8" r="0.7" fill="#555" opacity="0.56"/><circle cx="943.6" cy="1018.9" r="0.5" fill="#555" opacity="0.71"/><circle cx="851.2" cy="276.3" r="0.9" fill="#555" opacity="0.62"/><circle cx="1092.2" cy="1415.2" r="0.5" fill="#555" opacity="0.49"/><circle cx="506.7" cy="704.5" r="0.8" fill="#555" opacity="0.58"/><circle cx="1018.0" cy="1241.3" r="0.8" fill="#555" opacity="0.79"/><circle cx="1284.1" cy="1572.1" r="0.9" fill="#555" opacity="0.65"/><circle cx="1009.2" cy="1394.5" r="0.7" fill="#555" opacity="0.78"/><circle cx="499.9" cy="1353.8" r="0.6" fill="#555" opacity="0.48"/><circle cx="556.7" cy="385.7" r="0.7" fill="#555" opacity="0.62"/><circle cx="1330.8" cy="1596.3" r="0.8" fill="#555" opacity="0.49"/><circle cx="1396.2" cy="651.4" r="0.6" fill="#555" opacity="0.38"/><circle cx="1222.8" cy="1212.0" r="0.7" fill="#555" opacity="0.75"/><circle cx="1158.0" cy="1450.6" r="0.9" fill="#555" opacity="0.62"/><circle cx="685.8" cy="994.7" r="0.5" fill="#555" opacity="0.46"/><circle cx="1441.0" cy="1033.3" r="0.8" fill="#555" opacity="0.79"/><circle cx="1141.8" cy="798.0" r="0.9" fill="#555" opacity="0.75"/><circle cx="1377.4" cy="1132.0" r="0.8" fill="#555" opacity="0.50"/><circle cx="1311.3" cy="1523.0" r="0.7" fill="#555" opacity="0.46"/><circle cx="578.7" cy="678.7" r="0.7" fill="#555" opacity="0.71"/><circle cx="556.8" cy="1609.8" r="0.5" fill="#555" opacity="0.63"/><circle cx="1235.8" cy="580.6" r="0.5" fill="#555" opacity="0.61"/><circle cx="1097.7" cy="1169.4" r="0.9" fill="#555" opacity="0.68"/><circle cx="891.0" cy="865.2" r="0.9" fill="#555" opacity="0.62"/><circle cx="720.9" cy="855.1" r="0.5" fill="#555" opacity="0.62"/><circle cx="1433.0" cy="527.5" r="0.5" fill="#555" opacity="0.42"/><circle cx="771.5" cy="1049.0" r="0.9" fill="#555" opacity="0.43"/><circle cx="667.6" cy="1105.0" r="0.7" fill="#555" opacity="0.68"/><circle cx="540.5" cy="949.3" r="0.9" fill="#555" opacity="0.78"/><circle cx="794.0" cy="1467.8" r="0.8" fill="#555" opacity="0.77"/><circle cx="705.9" cy="1250.1" r="0.8" fill="#555" opacity="0.73"/><circle cx="481.6" cy="1215.4" r="0.5" fill="#555" opacity="0.39"/><circle cx="629.8" cy="1135.1" r="0.5" fill="#555" opacity="0.61"/><circle cx="915.0" cy="719.7" r="0.6" fill="#555" opacity="0.67"/><circle cx="1391.1" cy="1618.9" r="0.5" fill="#555" opacity="0.51"/><circle cx="1282.8" cy="539.2" r="0.7" fill="#555" opacity="0.52"/><circle cx="932.3" cy="1226.9" r="0.5" fill="#555" opacity="0.46"/><circle cx="1408.2" cy="922.8" r="0.5" fill="#555" opacity="0.40"/><circle cx="1068.7" cy="792.9" r="0.5" fill="#555" opacity="0.57"/><circle cx="1429.2" cy="1602.1" r="0.5" fill="#555" opacity="0.57"/><circle cx="1404.5" cy="1272.1" r="0.5" fill="#555" opacity="0.40"/><circle cx="952.3" cy="764.2" r="0.6" fill="#555" opacity="0.76"/><circle cx="856.7" cy="674.1" r="0.8" fill="#555" opacity="0.64"/><circle cx="1235.4" cy="387.6" r="0.5" fill="#555" opacity="0.48"/><circle cx="812.2" cy="1464.5" r="0.9" fill="#555" opacity="0.54"/><circle cx="697.3" cy="1660.1" r="0.7" fill="#555" opacity="0.65"/><circle cx="552.3" cy="646.3" r="0.5" fill="#555" opacity="0.60"/><circle cx="906.4" cy="517.1" r="0.8" fill="#555" opacity="0.73"/><circle cx="721.6" cy="903.6" r="0.6" fill="#555" opacity="0.71"/><circle cx="485.1" cy="1348.1" r="0.7" fill="#555" opacity="0.71"/><circle cx="501.0" cy="1059.4" r="0.8" fill="#555" opacity="0.74"/><circle cx="557.3" cy="1639.6" r="0.6" fill="#555" opacity="0.79"/><circle cx="916.4" cy="931.1" r="0.5" fill="#555" opacity="0.78"/><circle cx="1070.0" cy="1452.0" r="0.8" fill="#555" opacity="0.58"/><circle cx="532.3" cy="818.9" r="0.9" fill="#555" opacity="0.55"/><circle cx="1065.2" cy="1541.5" r="0.9" fill="#555" opacity="0.64"/><circle cx="515.5" cy="295.8" r="0.8" fill="#555" opacity="0.72"/><circle cx="1292.1" cy="875.1" r="0.8" fill="#555" opacity="0.36"/><circle cx="1284.2" cy="498.2" r="0.7" fill="#555" opacity="0.42"/><circle cx="1250.0" cy="860.6" r="0.5" fill="#555" opacity="0.80"/><circle cx="693.7" cy="859.6" r="0.7" fill="#555" opacity="0.41"/><circle cx="838.3" cy="265.4" r="0.5" fill="#555" opacity="0.70"/><circle cx="1227.4" cy="371.1" r="0.8" fill="#555" opacity="0.37"/><circle cx="883.8" cy="474.1" r="0.5" fill="#555" opacity="0.69"/><circle cx="966.9" cy="712.4" r="0.8" fill="#555" opacity="0.41"/><circle cx="713.2" cy="1566.8" r="0.9" fill="#555" opacity="0.36"/><circle cx="662.2" cy="870.3" r="0.7" fill="#555" opacity="0.41"/><circle cx="1124.7" cy="735.8" r="0.6" fill="#555" opacity="0.42"/><circle cx="991.1" cy="1644.5" r="0.9" fill="#555" opacity="0.39"/><circle cx="589.4" cy="1174.5" r="0.7" fill="#555" opacity="0.49"/><circle cx="1373.7" cy="1038.4" r="0.8" fill="#555" opacity="0.78"/><circle cx="717.5" cy="1068.4" r="0.7" fill="#555" opacity="0.36"/><circle cx="492.5" cy="808.3" r="0.6" fill="#555" opacity="0.57"/><circle cx="1175.9" cy="273.5" r="0.6" fill="#555" opacity="0.54"/><circle cx="977.1" cy="1127.7" r="0.7" fill="#555" opacity="0.38"/><circle cx="973.5" cy="316.3" r="0.8" fill="#555" opacity="0.75"/><circle cx="1245.6" cy="1052.9" r="0.8" fill="#555" opacity="0.55"/><circle cx="1125.7" cy="1573.4" r="0.7" fill="#555" opacity="0.61"/><circle cx="751.8" cy="1088.8" r="0.9" fill="#555" opacity="0.78"/><circle cx="1454.2" cy="689.9" r="0.6" fill="#555" opacity="0.62"/><circle cx="1152.8" cy="1176.1" r="0.5" fill="#555" opacity="0.68"/><circle cx="1001.3" cy="813.2" r="0.9" fill="#555" opacity="0.48"/><circle cx="1024.0" cy="1438.5" r="0.6" fill="#555" opacity="0.56"/><circle cx="542.3" cy="267.4" r="0.9" fill="#555" opacity="0.44"/><circle cx="927.6" cy="346.8" r="0.5" fill="#555" opacity="0.40"/><circle cx="1352.8" cy="792.6" r="0.7" fill="#555" opacity="0.47"/><circle cx="751.9" cy="1373.3" r="0.5" fill="#555" opacity="0.47"/><circle cx="1297.6" cy="1149.3" r="0.8" fill="#555" opacity="0.42"/><circle cx="1258.1" cy="1257.5" r="0.9" fill="#555" opacity="0.74"/><circle cx="912.5" cy="1534.3" r="0.6" fill="#555" opacity="0.62"/><circle cx="1037.7" cy="1540.6" r="0.7" fill="#555" opacity="0.60"/><circle cx="489.5" cy="323.4" r="0.9" fill="#555" opacity="0.57"/><circle cx="1339.1" cy="318.4" r="0.9" fill="#555" opacity="0.54"/><circle cx="886.8" cy="1015.3" r="0.8" fill="#555" opacity="0.63"/><circle cx="698.4" cy="1607.7" r="0.5" fill="#555" opacity="0.67"/><circle cx="1189.1" cy="1101.0" r="0.5" fill="#555" opacity="0.38"/><circle cx="933.8" cy="1182.1" r="0.9" fill="#555" opacity="0.67"/><circle cx="548.4" cy="1173.9" r="0.7" fill="#555" opacity="0.40"/><circle cx="1223.9" cy="628.8" r="0.7" fill="#555" opacity="0.48"/><circle cx="1346.5" cy="719.7" r="0.8" fill="#555" opacity="0.56"/><circle cx="633.2" cy="568.9" r="0.7" fill="#555" opacity="0.49"/><circle cx="1083.2" cy="910.9" r="0.6" fill="#555" opacity="0.51"/><circle cx="558.0" cy="864.9" r="0.9" fill="#555" opacity="0.58"/><circle cx="869.2" cy="540.9" r="0.8" fill="#555" opacity="0.43"/><circle cx="975.1" cy="1588.3" r="0.7" fill="#555" opacity="0.76"/><circle cx="623.0" cy="641.8" r="0.8" fill="#555" opacity="0.58"/><circle cx="1417.6" cy="569.3" r="0.6" fill="#555" opacity="0.65"/><circle cx="893.7" cy="1374.1" r="0.7" fill="#555" opacity="0.48"/><circle cx="586.3" cy="629.5" r="0.7" fill="#555" opacity="0.73"/><circle cx="989.0" cy="952.1" r="0.5" fill="#555" opacity="0.78"/><circle cx="594.8" cy="1353.7" r="0.7" fill="#555" opacity="0.39"/><circle cx="1338.5" cy="665.5" r="0.9" fill="#555" opacity="0.43"/><circle cx="1245.6" cy="1032.1" r="0.6" fill="#555" opacity="0.64"/><circle cx="1193.9" cy="631.6" r="0.8" fill="#555" opacity="0.74"/><circle cx="1350.1" cy="704.3" r="0.7" fill="#555" opacity="0.67"/><circle cx="884.8" cy="1495.2" r="0.5" fill="#555" opacity="0.38"/><circle cx="547.9" cy="317.8" r="0.5" fill="#555" opacity="0.71"/><circle cx="1363.8" cy="980.0" r="0.5" fill="#555" opacity="0.56"/><circle cx="550.7" cy="860.0" r="0.9" fill="#555" opacity="0.59"/><circle cx="1122.4" cy="1228.6" r="0.7" fill="#555" opacity="0.77"/><circle cx="1412.7" cy="923.0" r="0.5" fill="#555" opacity="0.43"/><circle cx="722.6" cy="1134.1" r="0.5" fill="#555" opacity="0.39"/><circle cx="1453.4" cy="1031.6" r="0.8" fill="#555" opacity="0.40"/><circle cx="782.2" cy="905.6" r="0.8" fill="#555" opacity="0.37"/><circle cx="1349.6" cy="1653.6" r="0.6" fill="#555" opacity="0.52"/><circle cx="1105.0" cy="1564.8" r="0.7" fill="#555" opacity="0.75"/><circle cx="1181.6" cy="362.9" r="0.7" fill="#555" opacity="0.37"/><circle cx="1405.8" cy="922.8" r="0.8" fill="#555" opacity="0.60"/><circle cx="1266.7" cy="1163.2" r="0.7" fill="#555" opacity="0.48"/><circle cx="1213.7" cy="625.3" r="0.8" fill="#555" opacity="0.53"/><circle cx="1180.1" cy="401.4" r="0.9" fill="#555" opacity="0.44"/><circle cx="1165.3" cy="1295.8" r="0.5" fill="#555" opacity="0.55"/><circle cx="710.7" cy="616.1" r="0.5" fill="#555" opacity="0.67"/><circle cx="733.4" cy="919.9" r="0.6" fill="#555" opacity="0.71"/><circle cx="955.1" cy="684.5" r="0.7" fill="#555" opacity="0.63"/><circle cx="1168.0" cy="1031.3" r="0.9" fill="#555" opacity="0.41"/><circle cx="1233.5" cy="739.1" r="0.9" fill="#555" opacity="0.57"/><circle cx="1310.6" cy="1502.6" r="0.9" fill="#555" opacity="0.76"/><circle cx="758.1" cy="735.3" r="0.7" fill="#555" opacity="0.41"/><circle cx="894.2" cy="850.0" r="0.6" fill="#555" opacity="0.48"/><circle cx="672.0" cy="1611.3" r="0.5" fill="#555" opacity="0.35"/><circle cx="1410.4" cy="705.0" r="0.8" fill="#555" opacity="0.65"/><circle cx="894.9" cy="1449.8" r="0.8" fill="#555" opacity="0.50"/><circle cx="1201.6" cy="978.3" r="0.9" fill="#555" opacity="0.71"/><circle cx="494.0" cy="1080.1" r="0.5" fill="#555" opacity="0.59"/><circle cx="956.0" cy="922.4" r="0.7" fill="#555" opacity="0.37"/><circle cx="1007.7" cy="940.6" r="0.5" fill="#555" opacity="0.68"/>
</svg>
<div class="inset"></div>
</body></html>
